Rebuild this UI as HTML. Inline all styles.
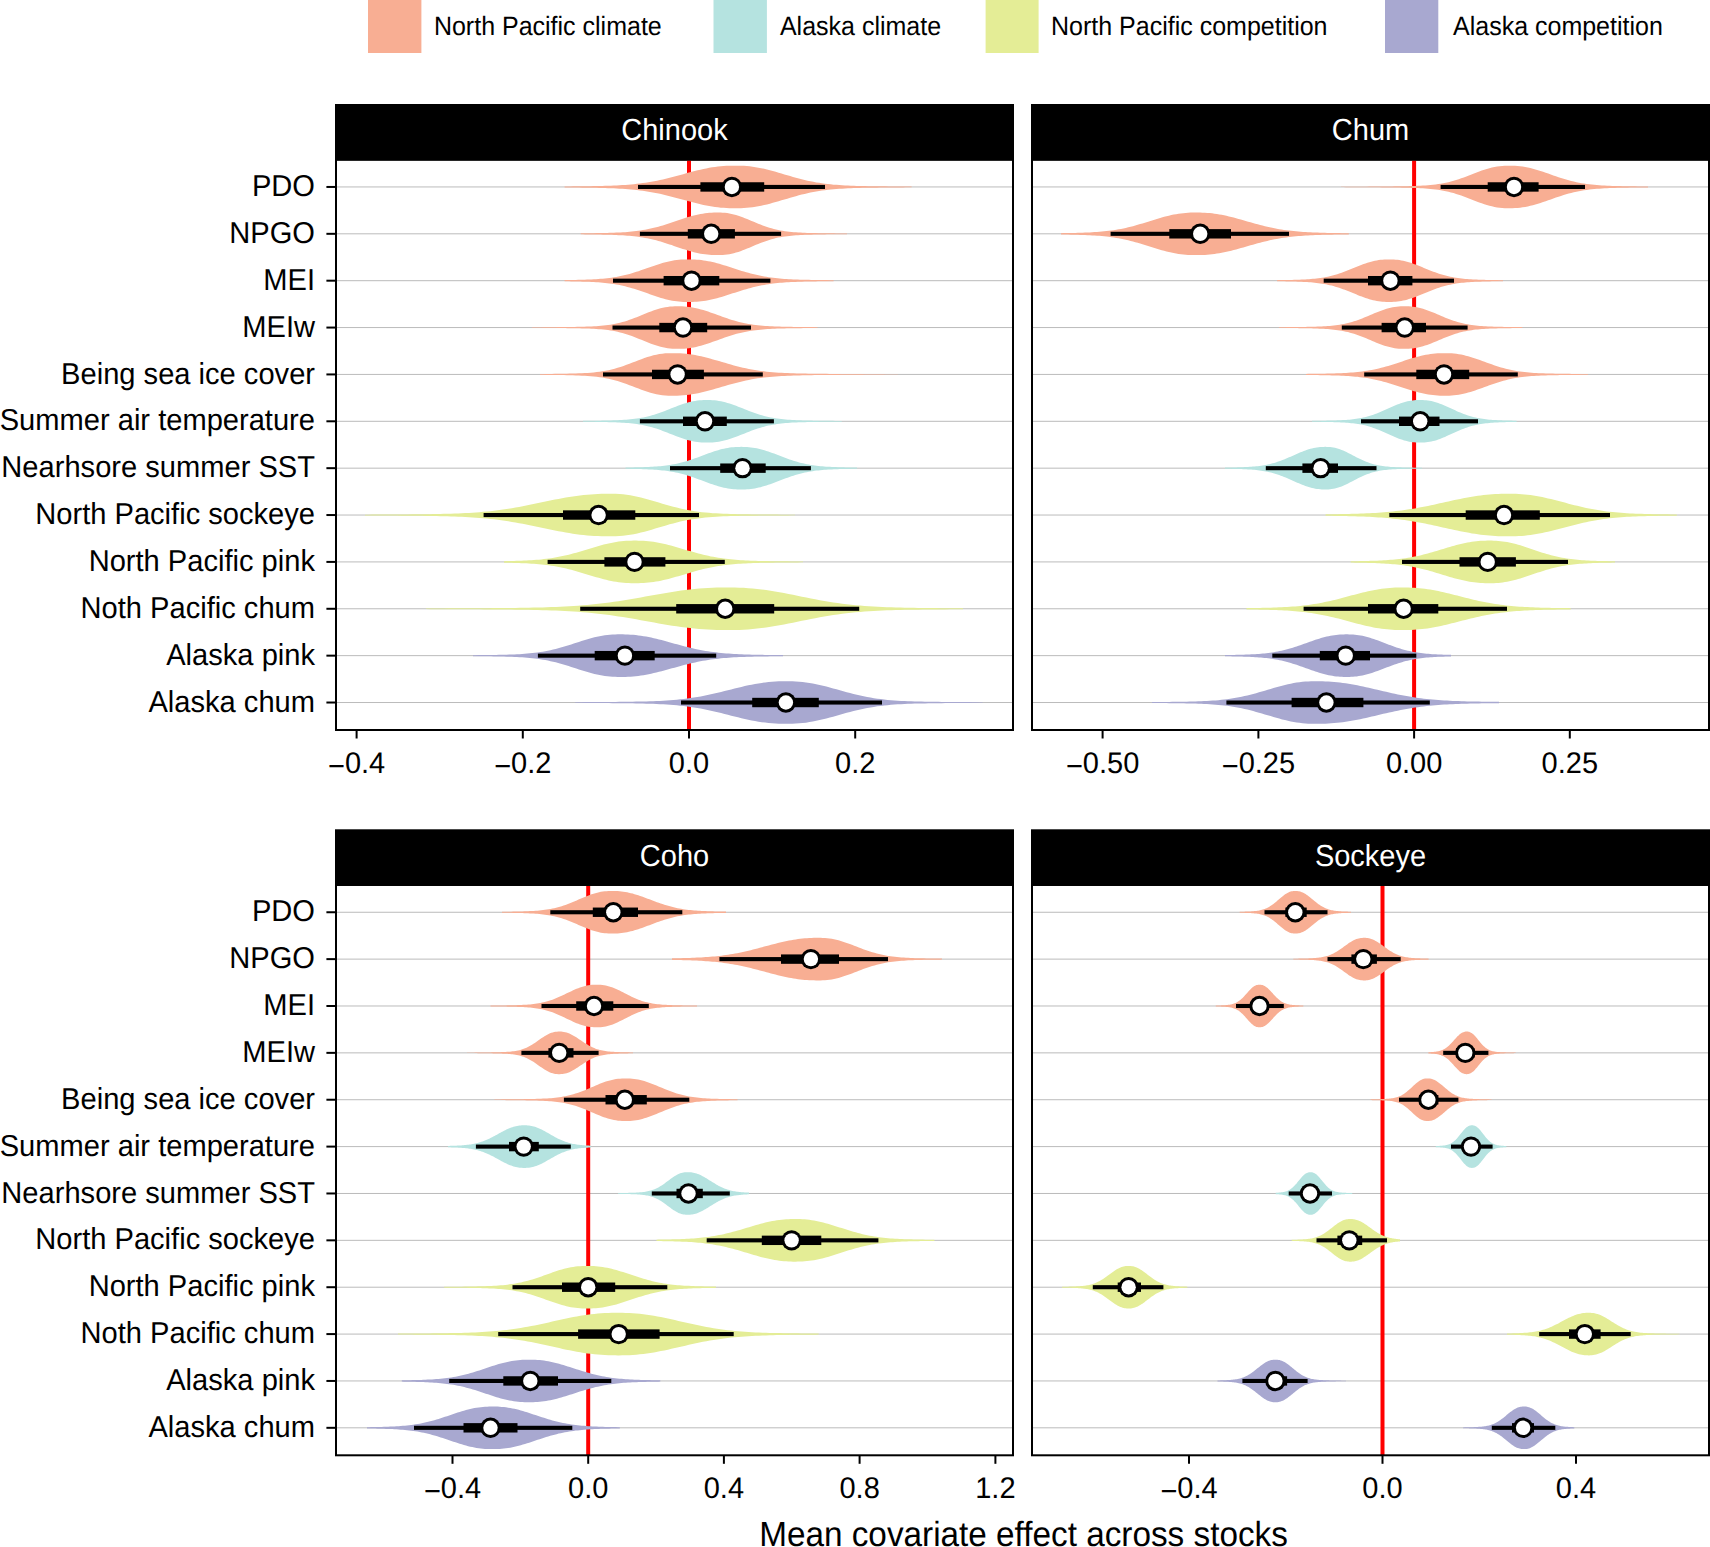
<!DOCTYPE html>
<html><head><meta charset="utf-8"><title>Mean covariate effect across stocks</title>
<style>
html,body{margin:0;padding:0;background:#fff;width:1710px;height:1547px;overflow:hidden}
.t{font-family:"Liberation Sans",Arial,Helvetica,sans-serif;fill:#000;text-rendering:geometricPrecision}
</style></head><body>
<svg width="1710" height="1547" viewBox="0 0 1710 1547" style="display:block"><rect width="1710" height="1547" fill="#fff"/><rect x="368.0" y="-2" width="53.4" height="55" fill="#F8AE93"/><text transform="translate(433.9,34.6) scale(1,1.06)" font-size="25" class="t">North Pacific climate</text><rect x="713.5" y="-2" width="53.4" height="55" fill="#B5E3E0"/><text transform="translate(779.9,34.6) scale(1,1.06)" font-size="25" class="t">Alaska climate</text><rect x="985.6" y="-2" width="53.0" height="55" fill="#E4ED96"/><text transform="translate(1051.0,34.6) scale(1,1.06)" font-size="25" class="t">North Pacific competition</text><rect x="1385.0" y="-2" width="53.3" height="55" fill="#A8A8D0"/><text transform="translate(1453.0,34.6) scale(1,1.06)" font-size="25" class="t">Alaska competition</text><rect x="335" y="104" width="679" height="56.6" fill="#000"/><text transform="translate(674.5,140.2) scale(1,1.05)" font-size="29" text-anchor="middle" class="t" style="fill:#fff">Chinook</text><line x1="336" x2="1013" y1="186.95" y2="186.95" stroke="#bbbbbb" stroke-width="1"/><line x1="336" x2="1013" y1="233.82" y2="233.82" stroke="#bbbbbb" stroke-width="1"/><line x1="336" x2="1013" y1="280.69" y2="280.69" stroke="#bbbbbb" stroke-width="1"/><line x1="336" x2="1013" y1="327.56" y2="327.56" stroke="#bbbbbb" stroke-width="1"/><line x1="336" x2="1013" y1="374.43" y2="374.43" stroke="#bbbbbb" stroke-width="1"/><line x1="336" x2="1013" y1="421.30" y2="421.30" stroke="#bbbbbb" stroke-width="1"/><line x1="336" x2="1013" y1="468.17" y2="468.17" stroke="#bbbbbb" stroke-width="1"/><line x1="336" x2="1013" y1="515.04" y2="515.04" stroke="#bbbbbb" stroke-width="1"/><line x1="336" x2="1013" y1="561.91" y2="561.91" stroke="#bbbbbb" stroke-width="1"/><line x1="336" x2="1013" y1="608.78" y2="608.78" stroke="#bbbbbb" stroke-width="1"/><line x1="336" x2="1013" y1="655.65" y2="655.65" stroke="#bbbbbb" stroke-width="1"/><line x1="336" x2="1013" y1="702.52" y2="702.52" stroke="#bbbbbb" stroke-width="1"/><line x1="689.0" x2="689.0" y1="160.6" y2="730" stroke="#ff0000" stroke-width="4"/><path d="M564.6,186.43 L567.5,186.41 L570.4,186.38 L573.3,186.36 L576.2,186.33 L579.1,186.30 L582.0,186.27 L584.8,186.23 L587.7,186.19 L590.6,186.15 L593.5,186.10 L596.4,186.05 L599.3,185.99 L602.2,185.92 L605.1,185.84 L608.0,185.75 L610.9,185.65 L613.8,185.54 L616.6,185.41 L619.5,185.26 L622.4,185.08 L625.3,184.89 L628.2,184.67 L631.1,184.43 L634.0,184.15 L636.9,183.84 L639.8,183.50 L642.7,183.12 L645.6,182.70 L648.5,182.25 L651.4,181.75 L654.2,181.22 L657.1,180.64 L660.0,180.03 L662.9,179.39 L665.8,178.71 L668.7,178.00 L671.6,177.26 L674.5,176.50 L677.4,175.72 L680.3,174.93 L683.2,174.14 L686.1,173.35 L688.9,172.56 L691.8,171.79 L694.7,171.04 L697.6,170.32 L700.5,169.64 L703.4,169.00 L706.3,168.40 L709.2,167.86 L712.1,167.37 L715.0,166.94 L717.9,166.58 L720.8,166.27 L723.6,166.03 L726.5,165.85 L729.4,165.73 L732.3,165.67 L735.2,165.65 L735.4,165.65 L738.1,165.67 L741.0,165.74 L743.9,165.87 L746.8,166.08 L749.7,166.36 L752.6,166.71 L755.5,167.14 L758.3,167.64 L761.2,168.20 L764.1,168.83 L767.0,169.52 L769.9,170.26 L772.8,171.04 L775.7,171.85 L778.6,172.69 L781.5,173.55 L784.4,174.41 L787.3,175.27 L790.2,176.12 L793.0,176.96 L795.9,177.77 L798.8,178.55 L801.7,179.30 L804.6,180.00 L807.5,180.67 L810.4,181.29 L813.3,181.86 L816.2,182.39 L819.1,182.87 L822.0,183.30 L824.9,183.69 L827.7,184.04 L830.6,184.35 L833.5,184.63 L836.4,184.87 L839.3,185.08 L842.2,185.27 L845.1,185.43 L848.0,185.57 L850.9,185.69 L853.8,185.79 L856.7,185.88 L859.5,185.96 L862.4,186.03 L865.3,186.09 L868.2,186.14 L871.1,186.19 L874.0,186.23 L876.9,186.27 L879.8,186.31 L882.7,186.34 L885.6,186.37 L888.5,186.40 L891.4,186.42 L894.2,186.45 L897.1,186.47 L900.0,186.49 L902.9,186.51 L905.8,186.54 L908.7,186.56 L911.6,186.57 L911.6,187.33 L908.7,187.34 L905.8,187.36 L902.9,187.39 L900.0,187.41 L897.1,187.43 L894.2,187.45 L891.4,187.48 L888.5,187.50 L885.6,187.53 L882.7,187.56 L879.8,187.59 L876.9,187.63 L874.0,187.67 L871.1,187.71 L868.2,187.76 L865.3,187.81 L862.4,187.87 L859.5,187.94 L856.7,188.02 L853.8,188.11 L850.9,188.21 L848.0,188.33 L845.1,188.47 L842.2,188.63 L839.3,188.82 L836.4,189.03 L833.5,189.27 L830.6,189.55 L827.7,189.86 L824.9,190.21 L822.0,190.60 L819.1,191.03 L816.2,191.51 L813.3,192.04 L810.4,192.61 L807.5,193.23 L804.6,193.90 L801.7,194.60 L798.8,195.35 L795.9,196.13 L793.0,196.94 L790.2,197.78 L787.3,198.63 L784.4,199.49 L781.5,200.35 L778.6,201.21 L775.7,202.05 L772.8,202.86 L769.9,203.64 L767.0,204.38 L764.1,205.07 L761.2,205.70 L758.3,206.26 L755.5,206.76 L752.6,207.19 L749.7,207.54 L746.8,207.82 L743.9,208.03 L741.0,208.16 L738.1,208.23 L735.4,208.25 L735.2,208.25 L732.3,208.23 L729.4,208.17 L726.5,208.05 L723.6,207.87 L720.8,207.63 L717.9,207.32 L715.0,206.96 L712.1,206.53 L709.2,206.04 L706.3,205.50 L703.4,204.90 L700.5,204.26 L697.6,203.58 L694.7,202.86 L691.8,202.11 L688.9,201.34 L686.1,200.55 L683.2,199.76 L680.3,198.97 L677.4,198.18 L674.5,197.40 L671.6,196.64 L668.7,195.90 L665.8,195.19 L662.9,194.51 L660.0,193.87 L657.1,193.26 L654.2,192.68 L651.4,192.15 L648.5,191.65 L645.6,191.20 L642.7,190.78 L639.8,190.40 L636.9,190.06 L634.0,189.75 L631.1,189.47 L628.2,189.23 L625.3,189.01 L622.4,188.82 L619.5,188.64 L616.6,188.49 L613.8,188.36 L610.9,188.25 L608.0,188.15 L605.1,188.06 L602.2,187.98 L599.3,187.91 L596.4,187.85 L593.5,187.80 L590.6,187.75 L587.7,187.71 L584.8,187.67 L582.0,187.63 L579.1,187.60 L576.2,187.57 L573.3,187.54 L570.4,187.52 L567.5,187.49 L564.6,187.47Z" fill="#F8AE93"/><path d="M580.7,233.31 L582.9,233.28 L585.1,233.26 L587.4,233.23 L589.6,233.21 L591.8,233.18 L594.0,233.15 L596.2,233.12 L598.5,233.08 L600.7,233.04 L602.9,233.00 L605.1,232.95 L607.3,232.90 L609.5,232.84 L611.8,232.77 L614.0,232.70 L616.2,232.61 L618.4,232.51 L620.6,232.40 L622.9,232.27 L625.1,232.13 L627.3,231.96 L629.5,231.78 L631.7,231.57 L634.0,231.34 L636.2,231.08 L638.4,230.79 L640.6,230.48 L642.8,230.12 L645.1,229.74 L647.3,229.32 L649.5,228.86 L651.7,228.37 L653.9,227.84 L656.2,227.28 L658.4,226.68 L660.6,226.05 L662.8,225.39 L665.0,224.71 L667.2,223.99 L669.5,223.26 L671.7,222.52 L673.9,221.76 L676.1,221.00 L678.3,220.25 L680.6,219.49 L682.8,218.76 L685.0,218.04 L687.2,217.34 L689.4,216.68 L691.7,216.05 L693.9,215.47 L696.1,214.93 L698.3,214.44 L700.5,214.01 L702.8,213.63 L705.0,213.30 L707.2,213.04 L709.4,212.83 L711.6,212.68 L713.9,212.58 L716.1,212.53 L718.0,212.52 L718.3,212.52 L720.5,212.55 L722.7,212.65 L724.9,212.83 L727.2,213.10 L729.4,213.45 L731.6,213.89 L733.8,214.42 L736.0,215.03 L738.3,215.71 L740.5,216.47 L742.7,217.28 L744.9,218.14 L747.1,219.03 L749.4,219.96 L751.6,220.89 L753.8,221.84 L756.0,222.77 L758.2,223.68 L760.5,224.57 L762.7,225.42 L764.9,226.23 L767.1,227.00 L769.3,227.71 L771.5,228.37 L773.8,228.97 L776.0,229.52 L778.2,230.02 L780.4,230.46 L782.6,230.85 L784.9,231.20 L787.1,231.50 L789.3,231.76 L791.5,231.99 L793.7,232.18 L796.0,232.35 L798.2,232.49 L800.4,232.62 L802.6,232.72 L804.8,232.81 L807.1,232.89 L809.3,232.95 L811.5,233.01 L813.7,233.06 L815.9,233.11 L818.2,233.15 L820.4,233.19 L822.6,233.22 L824.8,233.25 L827.0,233.28 L829.2,233.31 L831.5,233.34 L833.7,233.36 L835.9,233.38 L838.1,233.41 L840.3,233.43 L842.6,233.45 L844.8,233.47 L847.0,233.49 L847.0,234.15 L844.8,234.17 L842.6,234.19 L840.3,234.21 L838.1,234.23 L835.9,234.26 L833.7,234.28 L831.5,234.30 L829.2,234.33 L827.0,234.36 L824.8,234.39 L822.6,234.42 L820.4,234.45 L818.2,234.49 L815.9,234.53 L813.7,234.58 L811.5,234.63 L809.3,234.69 L807.1,234.75 L804.8,234.83 L802.6,234.92 L800.4,235.02 L798.2,235.15 L796.0,235.29 L793.7,235.46 L791.5,235.65 L789.3,235.88 L787.1,236.14 L784.9,236.44 L782.6,236.79 L780.4,237.18 L778.2,237.62 L776.0,238.12 L773.8,238.67 L771.5,239.27 L769.3,239.93 L767.1,240.64 L764.9,241.41 L762.7,242.22 L760.5,243.07 L758.2,243.96 L756.0,244.87 L753.8,245.80 L751.6,246.75 L749.4,247.68 L747.1,248.61 L744.9,249.50 L742.7,250.36 L740.5,251.17 L738.3,251.93 L736.0,252.61 L733.8,253.22 L731.6,253.75 L729.4,254.19 L727.2,254.54 L724.9,254.81 L722.7,254.99 L720.5,255.09 L718.3,255.12 L718.0,255.12 L716.1,255.11 L713.9,255.06 L711.6,254.96 L709.4,254.81 L707.2,254.60 L705.0,254.34 L702.8,254.01 L700.5,253.63 L698.3,253.20 L696.1,252.71 L693.9,252.17 L691.7,251.59 L689.4,250.96 L687.2,250.30 L685.0,249.60 L682.8,248.88 L680.6,248.15 L678.3,247.39 L676.1,246.64 L673.9,245.88 L671.7,245.12 L669.5,244.38 L667.2,243.65 L665.0,242.93 L662.8,242.25 L660.6,241.59 L658.4,240.96 L656.2,240.36 L653.9,239.80 L651.7,239.27 L649.5,238.78 L647.3,238.32 L645.1,237.90 L642.8,237.52 L640.6,237.16 L638.4,236.85 L636.2,236.56 L634.0,236.30 L631.7,236.07 L629.5,235.86 L627.3,235.68 L625.1,235.51 L622.9,235.37 L620.6,235.24 L618.4,235.13 L616.2,235.03 L614.0,234.94 L611.8,234.87 L609.5,234.80 L607.3,234.74 L605.1,234.69 L602.9,234.64 L600.7,234.60 L598.5,234.56 L596.2,234.52 L594.0,234.49 L591.8,234.46 L589.6,234.43 L587.4,234.41 L585.1,234.38 L582.9,234.36 L580.7,234.33Z" fill="#F8AE93"/><path d="M564.6,280.08 L566.8,280.05 L569.1,280.02 L571.3,279.98 L573.6,279.94 L575.8,279.90 L578.1,279.85 L580.3,279.80 L582.5,279.74 L584.8,279.68 L587.0,279.60 L589.3,279.52 L591.5,279.42 L593.7,279.31 L596.0,279.18 L598.2,279.03 L600.5,278.86 L602.7,278.68 L605.0,278.46 L607.2,278.22 L609.4,277.95 L611.7,277.65 L613.9,277.31 L616.2,276.94 L618.4,276.53 L620.6,276.08 L622.9,275.59 L625.1,275.06 L627.4,274.50 L629.6,273.89 L631.9,273.25 L634.1,272.57 L636.3,271.87 L638.6,271.13 L640.8,270.37 L643.1,269.60 L645.3,268.81 L647.5,268.01 L649.8,267.21 L652.0,266.43 L654.3,265.65 L656.5,264.90 L658.8,264.17 L661.0,263.48 L663.2,262.83 L665.5,262.23 L667.7,261.67 L670.0,261.18 L672.2,260.74 L674.4,260.36 L676.7,260.05 L678.9,259.80 L681.2,259.61 L683.4,259.49 L685.6,259.41 L687.9,259.39 L688.3,259.39 L690.1,259.40 L692.4,259.44 L694.6,259.53 L696.9,259.67 L699.1,259.85 L701.3,260.09 L703.6,260.39 L705.8,260.73 L708.1,261.13 L710.3,261.58 L712.5,262.08 L714.8,262.62 L717.0,263.20 L719.3,263.82 L721.5,264.46 L723.8,265.14 L726.0,265.84 L728.2,266.55 L730.5,267.28 L732.7,268.01 L735.0,268.74 L737.2,269.46 L739.5,270.18 L741.7,270.88 L743.9,271.56 L746.2,272.22 L748.4,272.86 L750.7,273.47 L752.9,274.05 L755.1,274.59 L757.4,275.11 L759.6,275.59 L761.9,276.04 L764.1,276.46 L766.4,276.84 L768.6,277.19 L770.8,277.51 L773.1,277.80 L775.3,278.07 L777.6,278.31 L779.8,278.52 L782.0,278.71 L784.3,278.88 L786.5,279.03 L788.8,279.17 L791.0,279.29 L793.2,279.39 L795.5,279.49 L797.7,279.57 L800.0,279.64 L802.2,279.71 L804.5,279.76 L806.7,279.82 L808.9,279.86 L811.2,279.91 L813.4,279.94 L815.7,279.98 L817.9,280.01 L820.2,280.04 L822.4,280.07 L824.6,280.09 L826.9,280.12 L829.1,280.14 L831.4,280.16 L833.6,280.18 L833.6,281.20 L831.4,281.22 L829.1,281.24 L826.9,281.26 L824.6,281.29 L822.4,281.31 L820.2,281.34 L817.9,281.37 L815.7,281.40 L813.4,281.44 L811.2,281.47 L808.9,281.52 L806.7,281.56 L804.5,281.62 L802.2,281.67 L800.0,281.74 L797.7,281.81 L795.5,281.89 L793.2,281.99 L791.0,282.09 L788.8,282.21 L786.5,282.35 L784.3,282.50 L782.0,282.67 L779.8,282.86 L777.6,283.07 L775.3,283.31 L773.1,283.58 L770.8,283.87 L768.6,284.19 L766.4,284.54 L764.1,284.92 L761.9,285.34 L759.6,285.79 L757.4,286.27 L755.1,286.79 L752.9,287.33 L750.7,287.91 L748.4,288.52 L746.2,289.16 L743.9,289.82 L741.7,290.50 L739.5,291.20 L737.2,291.92 L735.0,292.64 L732.7,293.37 L730.5,294.10 L728.2,294.83 L726.0,295.54 L723.8,296.24 L721.5,296.92 L719.3,297.56 L717.0,298.18 L714.8,298.76 L712.5,299.30 L710.3,299.80 L708.1,300.25 L705.8,300.65 L703.6,300.99 L701.3,301.29 L699.1,301.53 L696.9,301.71 L694.6,301.85 L692.4,301.94 L690.1,301.98 L688.3,301.99 L687.9,301.99 L685.6,301.97 L683.4,301.89 L681.2,301.77 L678.9,301.58 L676.7,301.33 L674.4,301.02 L672.2,300.64 L670.0,300.20 L667.7,299.71 L665.5,299.15 L663.2,298.55 L661.0,297.90 L658.8,297.21 L656.5,296.48 L654.3,295.73 L652.0,294.95 L649.8,294.17 L647.5,293.37 L645.3,292.57 L643.1,291.78 L640.8,291.01 L638.6,290.25 L636.3,289.51 L634.1,288.81 L631.9,288.13 L629.6,287.49 L627.4,286.88 L625.1,286.32 L622.9,285.79 L620.6,285.30 L618.4,284.85 L616.2,284.44 L613.9,284.07 L611.7,283.73 L609.4,283.43 L607.2,283.16 L605.0,282.92 L602.7,282.70 L600.5,282.52 L598.2,282.35 L596.0,282.20 L593.7,282.07 L591.5,281.96 L589.3,281.86 L587.0,281.78 L584.8,281.70 L582.5,281.64 L580.3,281.58 L578.1,281.53 L575.8,281.48 L573.6,281.44 L571.3,281.40 L569.1,281.36 L566.8,281.33 L564.6,281.30Z" fill="#F8AE93"/><path d="M532.0,327.32 L534.4,327.30 L536.8,327.29 L539.1,327.27 L541.5,327.25 L543.9,327.23 L546.3,327.21 L548.7,327.19 L551.0,327.17 L553.4,327.15 L555.8,327.13 L558.2,327.10 L560.5,327.08 L562.9,327.05 L565.3,327.02 L567.7,326.99 L570.1,326.96 L572.4,326.92 L574.8,326.88 L577.2,326.84 L579.6,326.79 L582.0,326.73 L584.3,326.67 L586.7,326.60 L589.1,326.51 L591.5,326.41 L593.9,326.29 L596.2,326.15 L598.6,325.99 L601.0,325.79 L603.4,325.57 L605.8,325.31 L608.1,325.00 L610.5,324.65 L612.9,324.25 L615.3,323.80 L617.6,323.29 L620.0,322.72 L622.4,322.09 L624.8,321.41 L627.2,320.66 L629.5,319.86 L631.9,319.01 L634.3,318.12 L636.7,317.19 L639.1,316.23 L641.4,315.26 L643.8,314.28 L646.2,313.31 L648.6,312.36 L651.0,311.45 L653.3,310.58 L655.7,309.77 L658.1,309.03 L660.5,308.36 L662.9,307.79 L665.2,307.30 L667.6,306.91 L670.0,306.62 L672.4,306.41 L674.8,306.30 L677.1,306.26 L677.6,306.26 L679.5,306.27 L681.9,306.34 L684.3,306.46 L686.6,306.66 L689.0,306.93 L691.4,307.28 L693.8,307.70 L696.2,308.20 L698.5,308.76 L700.9,309.39 L703.3,310.07 L705.7,310.81 L708.1,311.59 L710.4,312.40 L712.8,313.25 L715.2,314.10 L717.6,314.97 L720.0,315.84 L722.3,316.69 L724.7,317.53 L727.1,318.35 L729.5,319.13 L731.9,319.88 L734.2,320.59 L736.6,321.26 L739.0,321.89 L741.4,322.46 L743.7,322.99 L746.1,323.47 L748.5,323.91 L750.9,324.30 L753.3,324.66 L755.6,324.97 L758.0,325.24 L760.4,325.49 L762.8,325.70 L765.2,325.88 L767.5,326.04 L769.9,326.18 L772.3,326.30 L774.7,326.41 L777.1,326.50 L779.4,326.58 L781.8,326.64 L784.2,326.70 L786.6,326.76 L789.0,326.80 L791.3,326.85 L793.7,326.88 L796.1,326.92 L798.5,326.95 L800.8,326.98 L803.2,327.01 L805.6,327.03 L808.0,327.06 L810.4,327.08 L812.7,327.11 L815.1,327.13 L817.5,327.15 L817.5,327.97 L815.1,327.99 L812.7,328.01 L810.4,328.04 L808.0,328.06 L805.6,328.09 L803.2,328.11 L800.8,328.14 L798.5,328.17 L796.1,328.20 L793.7,328.24 L791.3,328.27 L789.0,328.32 L786.6,328.36 L784.2,328.42 L781.8,328.48 L779.4,328.54 L777.1,328.62 L774.7,328.71 L772.3,328.82 L769.9,328.94 L767.5,329.08 L765.2,329.24 L762.8,329.42 L760.4,329.63 L758.0,329.88 L755.6,330.15 L753.3,330.46 L750.9,330.82 L748.5,331.21 L746.1,331.65 L743.7,332.13 L741.4,332.66 L739.0,333.23 L736.6,333.86 L734.2,334.53 L731.9,335.24 L729.5,335.99 L727.1,336.77 L724.7,337.59 L722.3,338.43 L720.0,339.28 L717.6,340.15 L715.2,341.02 L712.8,341.87 L710.4,342.72 L708.1,343.53 L705.7,344.31 L703.3,345.05 L700.9,345.73 L698.5,346.36 L696.2,346.92 L693.8,347.42 L691.4,347.84 L689.0,348.19 L686.6,348.46 L684.3,348.66 L681.9,348.78 L679.5,348.85 L677.6,348.86 L677.1,348.86 L674.8,348.82 L672.4,348.71 L670.0,348.50 L667.6,348.21 L665.2,347.82 L662.9,347.33 L660.5,346.76 L658.1,346.09 L655.7,345.35 L653.3,344.54 L651.0,343.67 L648.6,342.76 L646.2,341.81 L643.8,340.84 L641.4,339.86 L639.1,338.89 L636.7,337.93 L634.3,337.00 L631.9,336.11 L629.5,335.26 L627.2,334.46 L624.8,333.71 L622.4,333.03 L620.0,332.40 L617.6,331.83 L615.3,331.32 L612.9,330.87 L610.5,330.47 L608.1,330.12 L605.8,329.81 L603.4,329.55 L601.0,329.33 L598.6,329.13 L596.2,328.97 L593.9,328.83 L591.5,328.71 L589.1,328.61 L586.7,328.52 L584.3,328.45 L582.0,328.39 L579.6,328.33 L577.2,328.28 L574.8,328.24 L572.4,328.20 L570.1,328.16 L567.7,328.13 L565.3,328.10 L562.9,328.07 L560.5,328.04 L558.2,328.02 L555.8,327.99 L553.4,327.97 L551.0,327.95 L548.7,327.93 L546.3,327.91 L543.9,327.89 L541.5,327.87 L539.1,327.85 L536.8,327.83 L534.4,327.82 L532.0,327.80Z" fill="#F8AE93"/><path d="M540.0,374.02 L543.0,373.99 L546.0,373.97 L549.0,373.93 L551.9,373.90 L554.9,373.87 L557.9,373.83 L560.9,373.78 L563.9,373.74 L566.9,373.68 L569.8,373.62 L572.8,373.55 L575.8,373.46 L578.8,373.36 L581.8,373.23 L584.8,373.08 L587.7,372.90 L590.7,372.67 L593.7,372.40 L596.7,372.08 L599.7,371.70 L602.6,371.25 L605.6,370.73 L608.6,370.13 L611.6,369.44 L614.6,368.68 L617.6,367.83 L620.5,366.90 L623.5,365.90 L626.5,364.84 L629.5,363.73 L632.5,362.59 L635.5,361.43 L638.5,360.28 L641.4,359.16 L644.4,358.09 L647.4,357.08 L650.4,356.17 L653.4,355.35 L656.4,354.66 L659.3,354.10 L662.3,353.67 L665.3,353.37 L668.3,353.19 L671.3,353.13 L672.0,353.13 L674.2,353.14 L677.2,353.20 L680.2,353.33 L683.2,353.53 L686.2,353.81 L689.2,354.16 L692.1,354.59 L695.1,355.10 L698.1,355.67 L701.1,356.31 L704.1,357.01 L707.1,357.76 L710.0,358.56 L713.0,359.39 L716.0,360.25 L719.0,361.12 L722.0,362.00 L725.0,362.87 L728.0,363.74 L730.9,364.58 L733.9,365.40 L736.9,366.19 L739.9,366.94 L742.9,367.65 L745.9,368.32 L748.8,368.93 L751.8,369.50 L754.8,370.03 L757.8,370.50 L760.8,370.93 L763.8,371.31 L766.7,371.65 L769.7,371.95 L772.7,372.22 L775.7,372.45 L778.7,372.65 L781.6,372.83 L784.6,372.98 L787.6,373.11 L790.6,373.23 L793.6,373.33 L796.6,373.41 L799.5,373.48 L802.5,373.55 L805.5,373.61 L808.5,373.65 L811.5,373.70 L814.5,373.74 L817.5,373.78 L820.4,373.81 L823.4,373.84 L826.4,373.87 L829.4,373.90 L832.4,373.92 L835.4,373.95 L838.3,373.97 L841.3,373.99 L844.3,374.01 L847.3,374.03 L850.3,374.05 L853.2,374.07 L856.2,374.09 L859.2,374.11 L862.2,374.12 L865.2,374.14 L868.2,374.16 L871.1,374.17 L874.1,374.19 L877.1,374.20 L880.1,374.21 L883.1,374.22 L886.1,374.24 L889.0,374.25 L892.0,374.26 L895.0,374.27 L898.0,374.28 L898.0,374.58 L895.0,374.59 L892.0,374.60 L889.0,374.61 L886.1,374.62 L883.1,374.64 L880.1,374.65 L877.1,374.66 L874.1,374.67 L871.1,374.69 L868.2,374.70 L865.2,374.72 L862.2,374.74 L859.2,374.75 L856.2,374.77 L853.2,374.79 L850.3,374.81 L847.3,374.83 L844.3,374.85 L841.3,374.87 L838.3,374.89 L835.4,374.91 L832.4,374.94 L829.4,374.96 L826.4,374.99 L823.4,375.02 L820.4,375.05 L817.5,375.08 L814.5,375.12 L811.5,375.16 L808.5,375.21 L805.5,375.25 L802.5,375.31 L799.5,375.38 L796.6,375.45 L793.6,375.53 L790.6,375.63 L787.6,375.75 L784.6,375.88 L781.6,376.03 L778.7,376.21 L775.7,376.41 L772.7,376.64 L769.7,376.91 L766.7,377.21 L763.8,377.55 L760.8,377.93 L757.8,378.36 L754.8,378.83 L751.8,379.36 L748.8,379.93 L745.9,380.54 L742.9,381.21 L739.9,381.92 L736.9,382.67 L733.9,383.46 L730.9,384.28 L728.0,385.12 L725.0,385.99 L722.0,386.86 L719.0,387.74 L716.0,388.61 L713.0,389.47 L710.0,390.30 L707.1,391.10 L704.1,391.85 L701.1,392.55 L698.1,393.19 L695.1,393.76 L692.1,394.27 L689.2,394.70 L686.2,395.05 L683.2,395.33 L680.2,395.53 L677.2,395.66 L674.2,395.72 L672.0,395.73 L671.3,395.73 L668.3,395.67 L665.3,395.49 L662.3,395.19 L659.3,394.76 L656.4,394.20 L653.4,393.51 L650.4,392.69 L647.4,391.78 L644.4,390.77 L641.4,389.70 L638.5,388.58 L635.5,387.43 L632.5,386.27 L629.5,385.13 L626.5,384.02 L623.5,382.96 L620.5,381.96 L617.6,381.03 L614.6,380.18 L611.6,379.42 L608.6,378.73 L605.6,378.13 L602.6,377.61 L599.7,377.16 L596.7,376.78 L593.7,376.46 L590.7,376.19 L587.7,375.96 L584.8,375.78 L581.8,375.63 L578.8,375.50 L575.8,375.40 L572.8,375.31 L569.8,375.24 L566.9,375.18 L563.9,375.12 L560.9,375.08 L557.9,375.03 L554.9,374.99 L551.9,374.96 L549.0,374.93 L546.0,374.89 L543.0,374.87 L540.0,374.84Z" fill="#F8AE93"/><path d="M583.0,420.85 L585.2,420.83 L587.3,420.80 L589.5,420.78 L591.6,420.75 L593.8,420.73 L595.9,420.70 L598.1,420.67 L600.2,420.63 L602.4,420.60 L604.6,420.56 L606.7,420.51 L608.9,420.46 L611.0,420.41 L613.2,420.34 L615.3,420.27 L617.5,420.18 L619.6,420.08 L621.8,419.97 L624.0,419.84 L626.1,419.69 L628.3,419.52 L630.4,419.32 L632.6,419.09 L634.7,418.83 L636.9,418.53 L639.1,418.20 L641.2,417.83 L643.4,417.42 L645.5,416.96 L647.7,416.46 L649.8,415.91 L652.0,415.31 L654.1,414.67 L656.3,413.99 L658.5,413.27 L660.6,412.51 L662.8,411.71 L664.9,410.89 L667.1,410.05 L669.2,409.20 L671.4,408.34 L673.5,407.48 L675.7,406.64 L677.9,405.81 L680.0,405.02 L682.2,404.26 L684.3,403.55 L686.5,402.89 L688.6,402.29 L690.8,401.75 L692.9,401.29 L695.1,400.90 L697.3,400.58 L699.4,400.33 L701.6,400.16 L703.7,400.05 L705.9,400.00 L707.0,400.00 L708.0,400.00 L710.2,400.05 L712.4,400.15 L714.5,400.33 L716.7,400.57 L718.8,400.89 L721.0,401.28 L723.1,401.75 L725.3,402.28 L727.4,402.88 L729.6,403.54 L731.8,404.26 L733.9,405.02 L736.1,405.81 L738.2,406.64 L740.4,407.49 L742.5,408.35 L744.7,409.21 L746.8,410.07 L749.0,410.91 L751.2,411.73 L753.3,412.53 L755.5,413.29 L757.6,414.01 L759.8,414.70 L761.9,415.34 L764.1,415.93 L766.2,416.48 L768.4,416.98 L770.6,417.44 L772.7,417.85 L774.9,418.22 L777.0,418.55 L779.2,418.85 L781.3,419.10 L783.5,419.33 L785.6,419.53 L787.8,419.70 L790.0,419.85 L792.1,419.98 L794.3,420.09 L796.4,420.19 L798.6,420.27 L800.7,420.35 L802.9,420.41 L805.1,420.47 L807.2,420.52 L809.4,420.56 L811.5,420.60 L813.7,420.64 L815.8,420.67 L818.0,420.70 L820.1,420.73 L822.3,420.76 L824.5,420.78 L826.6,420.81 L828.8,420.83 L830.9,420.85 L833.1,420.87 L835.2,420.89 L837.4,420.91 L839.5,420.93 L841.7,420.95 L841.7,421.65 L839.5,421.67 L837.4,421.69 L835.2,421.71 L833.1,421.73 L830.9,421.75 L828.8,421.77 L826.6,421.79 L824.5,421.82 L822.3,421.84 L820.1,421.87 L818.0,421.90 L815.8,421.93 L813.7,421.96 L811.5,422.00 L809.4,422.04 L807.2,422.08 L805.1,422.13 L802.9,422.19 L800.7,422.25 L798.6,422.33 L796.4,422.41 L794.3,422.51 L792.1,422.62 L790.0,422.75 L787.8,422.90 L785.6,423.07 L783.5,423.27 L781.3,423.50 L779.2,423.75 L777.0,424.05 L774.9,424.38 L772.7,424.75 L770.6,425.16 L768.4,425.62 L766.2,426.12 L764.1,426.67 L761.9,427.26 L759.8,427.90 L757.6,428.59 L755.5,429.31 L753.3,430.07 L751.2,430.87 L749.0,431.69 L746.8,432.53 L744.7,433.39 L742.5,434.25 L740.4,435.11 L738.2,435.96 L736.1,436.79 L733.9,437.58 L731.8,438.34 L729.6,439.06 L727.4,439.72 L725.3,440.32 L723.1,440.85 L721.0,441.32 L718.8,441.71 L716.7,442.03 L714.5,442.27 L712.4,442.45 L710.2,442.55 L708.0,442.60 L707.0,442.60 L705.9,442.60 L703.7,442.55 L701.6,442.44 L699.4,442.27 L697.3,442.02 L695.1,441.70 L692.9,441.31 L690.8,440.85 L688.6,440.31 L686.5,439.71 L684.3,439.05 L682.2,438.34 L680.0,437.58 L677.9,436.79 L675.7,435.96 L673.5,435.12 L671.4,434.26 L669.2,433.40 L667.1,432.55 L664.9,431.71 L662.8,430.89 L660.6,430.09 L658.5,429.33 L656.3,428.61 L654.1,427.93 L652.0,427.29 L649.8,426.69 L647.7,426.14 L645.5,425.64 L643.4,425.18 L641.2,424.77 L639.1,424.40 L636.9,424.07 L634.7,423.77 L632.6,423.51 L630.4,423.28 L628.3,423.08 L626.1,422.91 L624.0,422.76 L621.8,422.63 L619.6,422.52 L617.5,422.42 L615.3,422.33 L613.2,422.26 L611.0,422.19 L608.9,422.14 L606.7,422.09 L604.6,422.04 L602.4,422.00 L600.2,421.97 L598.1,421.93 L595.9,421.90 L593.8,421.87 L591.6,421.85 L589.5,421.82 L587.3,421.80 L585.2,421.77 L583.0,421.75Z" fill="#B5E3E0"/><path d="M625.6,467.54 L627.5,467.51 L629.5,467.48 L631.4,467.45 L633.3,467.41 L635.2,467.37 L637.2,467.33 L639.1,467.28 L641.0,467.23 L643.0,467.17 L644.9,467.10 L646.8,467.02 L648.7,466.94 L650.7,466.84 L652.6,466.74 L654.5,466.61 L656.5,466.48 L658.4,466.32 L660.3,466.15 L662.2,465.96 L664.2,465.74 L666.1,465.50 L668.0,465.23 L670.0,464.94 L671.9,464.62 L673.8,464.27 L675.7,463.88 L677.7,463.47 L679.6,463.02 L681.5,462.54 L683.5,462.02 L685.4,461.48 L687.3,460.90 L689.2,460.30 L691.2,459.67 L693.1,459.01 L695.0,458.34 L696.9,457.64 L698.9,456.94 L700.8,456.22 L702.7,455.50 L704.7,454.78 L706.6,454.06 L708.5,453.35 L710.4,452.66 L712.4,451.99 L714.3,451.35 L716.2,450.73 L718.2,450.16 L720.1,449.62 L722.0,449.12 L723.9,448.67 L725.9,448.27 L727.8,447.92 L729.7,447.62 L731.7,447.37 L733.6,447.18 L735.5,447.03 L737.4,446.94 L739.4,446.89 L741.3,446.87 L741.4,446.87 L743.2,446.88 L745.2,446.93 L747.1,447.03 L749.0,447.18 L750.9,447.38 L752.9,447.64 L754.8,447.95 L756.7,448.31 L758.7,448.73 L760.6,449.20 L762.5,449.72 L764.4,450.28 L766.4,450.88 L768.3,451.52 L770.2,452.19 L772.2,452.89 L774.1,453.60 L776.0,454.34 L777.9,455.07 L779.9,455.82 L781.8,456.56 L783.7,457.29 L785.7,458.01 L787.6,458.71 L789.5,459.40 L791.4,460.05 L793.4,460.69 L795.3,461.29 L797.2,461.86 L799.1,462.39 L801.1,462.90 L803.0,463.37 L804.9,463.80 L806.9,464.20 L808.8,464.57 L810.7,464.90 L812.6,465.21 L814.6,465.48 L816.5,465.73 L818.4,465.95 L820.4,466.15 L822.3,466.33 L824.2,466.49 L826.1,466.63 L828.1,466.75 L830.0,466.86 L831.9,466.96 L833.9,467.04 L835.8,467.12 L837.7,467.18 L839.6,467.24 L841.6,467.30 L843.5,467.34 L845.4,467.39 L847.4,467.42 L849.3,467.46 L851.2,467.49 L853.1,467.52 L855.1,467.55 L857.0,467.58 L857.0,468.76 L855.1,468.79 L853.1,468.82 L851.2,468.85 L849.3,468.88 L847.4,468.92 L845.4,468.95 L843.5,469.00 L841.6,469.04 L839.6,469.10 L837.7,469.16 L835.8,469.22 L833.9,469.30 L831.9,469.38 L830.0,469.48 L828.1,469.59 L826.1,469.71 L824.2,469.85 L822.3,470.01 L820.4,470.19 L818.4,470.39 L816.5,470.61 L814.6,470.86 L812.6,471.13 L810.7,471.44 L808.8,471.77 L806.9,472.14 L804.9,472.54 L803.0,472.97 L801.1,473.44 L799.1,473.95 L797.2,474.48 L795.3,475.05 L793.4,475.65 L791.4,476.29 L789.5,476.94 L787.6,477.63 L785.7,478.33 L783.7,479.05 L781.8,479.78 L779.9,480.52 L777.9,481.27 L776.0,482.00 L774.1,482.74 L772.2,483.45 L770.2,484.15 L768.3,484.82 L766.4,485.46 L764.4,486.06 L762.5,486.62 L760.6,487.14 L758.7,487.61 L756.7,488.03 L754.8,488.39 L752.9,488.70 L750.9,488.96 L749.0,489.16 L747.1,489.31 L745.2,489.41 L743.2,489.46 L741.4,489.47 L741.3,489.47 L739.4,489.45 L737.4,489.40 L735.5,489.31 L733.6,489.16 L731.7,488.97 L729.7,488.72 L727.8,488.42 L725.9,488.07 L723.9,487.67 L722.0,487.22 L720.1,486.72 L718.2,486.18 L716.2,485.61 L714.3,484.99 L712.4,484.35 L710.4,483.68 L708.5,482.99 L706.6,482.28 L704.7,481.56 L702.7,480.84 L700.8,480.12 L698.9,479.40 L696.9,478.70 L695.0,478.00 L693.1,477.33 L691.2,476.67 L689.2,476.04 L687.3,475.44 L685.4,474.86 L683.5,474.32 L681.5,473.80 L679.6,473.32 L677.7,472.87 L675.7,472.46 L673.8,472.07 L671.9,471.72 L670.0,471.40 L668.0,471.11 L666.1,470.84 L664.2,470.60 L662.2,470.38 L660.3,470.19 L658.4,470.02 L656.5,469.86 L654.5,469.73 L652.6,469.60 L650.7,469.50 L648.7,469.40 L646.8,469.32 L644.9,469.24 L643.0,469.17 L641.0,469.11 L639.1,469.06 L637.2,469.01 L635.2,468.97 L633.3,468.93 L631.4,468.89 L629.5,468.86 L627.5,468.83 L625.6,468.80Z" fill="#B5E3E0"/><path d="M365.0,514.65 L368.6,514.63 L372.2,514.61 L375.8,514.59 L379.3,514.57 L382.9,514.55 L386.5,514.53 L390.1,514.51 L393.7,514.49 L397.2,514.46 L400.8,514.44 L404.4,514.41 L408.0,514.38 L411.6,514.35 L415.2,514.32 L418.8,514.28 L422.3,514.24 L425.9,514.19 L429.5,514.14 L433.1,514.08 L436.7,514.02 L440.2,513.95 L443.8,513.86 L447.4,513.77 L451.0,513.66 L454.6,513.54 L458.2,513.41 L461.8,513.25 L465.3,513.08 L468.9,512.88 L472.5,512.66 L476.1,512.41 L479.7,512.14 L483.2,511.83 L486.8,511.50 L490.4,511.13 L494.0,510.72 L497.6,510.28 L501.2,509.81 L504.8,509.30 L508.3,508.75 L511.9,508.17 L515.5,507.55 L519.1,506.91 L522.7,506.23 L526.2,505.54 L529.8,504.82 L533.4,504.08 L537.0,503.33 L540.6,502.57 L544.2,501.81 L547.8,501.06 L551.3,500.32 L554.9,499.59 L558.5,498.88 L562.1,498.21 L565.7,497.56 L569.2,496.96 L572.8,496.40 L576.4,495.89 L580.0,495.43 L583.6,495.02 L587.2,494.67 L590.8,494.38 L594.3,494.15 L597.9,493.97 L601.5,493.84 L605.1,493.77 L608.7,493.74 L610.0,493.74 L612.2,493.75 L615.8,493.84 L619.4,494.03 L623.0,494.32 L626.6,494.74 L630.2,495.27 L633.8,495.91 L637.3,496.65 L640.9,497.49 L644.5,498.41 L648.1,499.39 L651.7,500.42 L655.2,501.48 L658.8,502.56 L662.4,503.63 L666.0,504.69 L669.6,505.71 L673.2,506.69 L676.8,507.61 L680.3,508.47 L683.9,509.26 L687.5,509.98 L691.1,510.62 L694.7,511.20 L698.2,511.70 L701.8,512.15 L705.4,512.53 L709.0,512.85 L712.6,513.13 L716.2,513.36 L719.8,513.56 L723.3,513.72 L726.9,513.86 L730.5,513.98 L734.1,514.07 L737.7,514.15 L741.2,514.22 L744.8,514.28 L748.4,514.33 L752.0,514.38 L755.6,514.42 L759.2,514.46 L762.8,514.49 L766.3,514.52 L769.9,514.55 L773.5,514.58 L777.1,514.61 L780.7,514.64 L784.2,514.66 L787.8,514.68 L791.4,514.71 L795.0,514.73 L795.0,515.35 L791.4,515.37 L787.8,515.40 L784.2,515.42 L780.7,515.44 L777.1,515.47 L773.5,515.50 L769.9,515.53 L766.3,515.56 L762.8,515.59 L759.2,515.62 L755.6,515.66 L752.0,515.70 L748.4,515.75 L744.8,515.80 L741.2,515.86 L737.7,515.93 L734.1,516.01 L730.5,516.10 L726.9,516.22 L723.3,516.36 L719.8,516.52 L716.2,516.72 L712.6,516.95 L709.0,517.23 L705.4,517.55 L701.8,517.93 L698.2,518.38 L694.7,518.88 L691.1,519.46 L687.5,520.10 L683.9,520.82 L680.3,521.61 L676.8,522.47 L673.2,523.39 L669.6,524.37 L666.0,525.39 L662.4,526.45 L658.8,527.52 L655.2,528.60 L651.7,529.66 L648.1,530.69 L644.5,531.67 L640.9,532.59 L637.3,533.43 L633.8,534.17 L630.2,534.81 L626.6,535.34 L623.0,535.76 L619.4,536.05 L615.8,536.24 L612.2,536.33 L610.0,536.34 L608.7,536.34 L605.1,536.31 L601.5,536.24 L597.9,536.11 L594.3,535.93 L590.8,535.70 L587.2,535.41 L583.6,535.06 L580.0,534.65 L576.4,534.19 L572.8,533.68 L569.2,533.12 L565.7,532.52 L562.1,531.87 L558.5,531.20 L554.9,530.49 L551.3,529.76 L547.8,529.02 L544.2,528.27 L540.6,527.51 L537.0,526.75 L533.4,526.00 L529.8,525.26 L526.2,524.54 L522.7,523.85 L519.1,523.17 L515.5,522.53 L511.9,521.91 L508.3,521.33 L504.8,520.78 L501.2,520.27 L497.6,519.80 L494.0,519.36 L490.4,518.95 L486.8,518.58 L483.2,518.25 L479.7,517.94 L476.1,517.67 L472.5,517.42 L468.9,517.20 L465.3,517.00 L461.8,516.83 L458.2,516.67 L454.6,516.54 L451.0,516.42 L447.4,516.31 L443.8,516.22 L440.2,516.13 L436.7,516.06 L433.1,516.00 L429.5,515.94 L425.9,515.89 L422.3,515.84 L418.8,515.80 L415.2,515.76 L411.6,515.73 L408.0,515.70 L404.4,515.67 L400.8,515.64 L397.2,515.62 L393.7,515.59 L390.1,515.57 L386.5,515.55 L382.9,515.53 L379.3,515.51 L375.8,515.49 L372.2,515.47 L368.6,515.45 L365.0,515.43Z" fill="#E4ED96"/><path d="M504.0,561.13 L506.5,561.08 L509.0,561.04 L511.5,560.98 L514.0,560.92 L516.5,560.85 L519.0,560.77 L521.4,560.68 L523.9,560.58 L526.4,560.47 L528.9,560.34 L531.4,560.19 L533.9,560.03 L536.4,559.84 L538.9,559.63 L541.4,559.39 L543.9,559.12 L546.4,558.83 L548.9,558.51 L551.3,558.15 L553.8,557.75 L556.3,557.33 L558.8,556.86 L561.3,556.36 L563.8,555.82 L566.3,555.25 L568.8,554.64 L571.3,554.01 L573.8,553.34 L576.3,552.64 L578.8,551.93 L581.2,551.19 L583.7,550.44 L586.2,549.68 L588.7,548.92 L591.2,548.16 L593.7,547.41 L596.2,546.67 L598.7,545.95 L601.2,545.26 L603.7,544.61 L606.2,543.99 L608.6,543.41 L611.1,542.89 L613.6,542.41 L616.1,541.99 L618.6,541.62 L621.1,541.31 L623.6,541.07 L626.1,540.87 L628.6,540.74 L631.1,540.65 L633.6,540.61 L635.0,540.61 L636.1,540.61 L638.5,540.64 L641.0,540.71 L643.5,540.83 L646.0,541.01 L648.5,541.23 L651.0,541.52 L653.5,541.85 L656.0,542.24 L658.5,542.69 L661.0,543.18 L663.5,543.72 L666.0,544.30 L668.5,544.92 L670.9,545.58 L673.4,546.26 L675.9,546.97 L678.4,547.69 L680.9,548.43 L683.4,549.17 L685.9,549.91 L688.4,550.65 L690.9,551.37 L693.4,552.09 L695.9,552.78 L698.4,553.45 L700.8,554.10 L703.3,554.72 L705.8,555.30 L708.3,555.86 L710.8,556.38 L713.3,556.87 L715.8,557.32 L718.3,557.74 L720.8,558.12 L723.3,558.47 L725.8,558.79 L728.2,559.08 L730.7,559.34 L733.2,559.58 L735.7,559.79 L738.2,559.98 L740.7,560.15 L743.2,560.30 L745.7,560.43 L748.2,560.54 L750.7,560.65 L753.2,560.74 L755.7,560.82 L758.1,560.89 L760.6,560.95 L763.1,561.01 L765.6,561.06 L768.1,561.10 L770.6,561.14 L773.1,561.18 L775.6,561.22 L778.1,561.25 L780.6,561.28 L783.1,561.30 L785.6,561.33 L788.0,561.35 L790.5,561.38 L793.0,561.40 L795.5,561.42 L798.0,561.44 L800.5,561.46 L803.0,561.48 L803.0,562.34 L800.5,562.36 L798.0,562.38 L795.5,562.40 L793.0,562.42 L790.5,562.44 L788.0,562.47 L785.6,562.49 L783.1,562.52 L780.6,562.54 L778.1,562.57 L775.6,562.60 L773.1,562.64 L770.6,562.68 L768.1,562.72 L765.6,562.76 L763.1,562.81 L760.6,562.87 L758.1,562.93 L755.7,563.00 L753.2,563.08 L750.7,563.17 L748.2,563.28 L745.7,563.39 L743.2,563.52 L740.7,563.67 L738.2,563.84 L735.7,564.03 L733.2,564.24 L730.7,564.48 L728.2,564.74 L725.8,565.03 L723.3,565.35 L720.8,565.70 L718.3,566.08 L715.8,566.50 L713.3,566.95 L710.8,567.44 L708.3,567.96 L705.8,568.52 L703.3,569.10 L700.8,569.72 L698.4,570.37 L695.9,571.04 L693.4,571.73 L690.9,572.45 L688.4,573.17 L685.9,573.91 L683.4,574.65 L680.9,575.39 L678.4,576.13 L675.9,576.85 L673.4,577.56 L670.9,578.24 L668.5,578.90 L666.0,579.52 L663.5,580.10 L661.0,580.64 L658.5,581.13 L656.0,581.58 L653.5,581.97 L651.0,582.30 L648.5,582.59 L646.0,582.81 L643.5,582.99 L641.0,583.11 L638.5,583.18 L636.1,583.21 L635.0,583.21 L633.6,583.21 L631.1,583.17 L628.6,583.08 L626.1,582.95 L623.6,582.75 L621.1,582.51 L618.6,582.20 L616.1,581.83 L613.6,581.41 L611.1,580.93 L608.6,580.41 L606.2,579.83 L603.7,579.21 L601.2,578.56 L598.7,577.87 L596.2,577.15 L593.7,576.41 L591.2,575.66 L588.7,574.90 L586.2,574.14 L583.7,573.38 L581.2,572.63 L578.8,571.89 L576.3,571.18 L573.8,570.48 L571.3,569.81 L568.8,569.18 L566.3,568.57 L563.8,568.00 L561.3,567.46 L558.8,566.96 L556.3,566.49 L553.8,566.07 L551.3,565.67 L548.9,565.31 L546.4,564.99 L543.9,564.70 L541.4,564.43 L538.9,564.19 L536.4,563.98 L533.9,563.79 L531.4,563.63 L528.9,563.48 L526.4,563.35 L523.9,563.24 L521.4,563.14 L519.0,563.05 L516.5,562.97 L514.0,562.90 L511.5,562.84 L509.0,562.78 L506.5,562.74 L504.0,562.69Z" fill="#E4ED96"/><path d="M426.0,608.45 L430.5,608.43 L434.9,608.41 L439.4,608.40 L443.9,608.38 L448.4,608.36 L452.9,608.34 L457.3,608.32 L461.8,608.30 L466.3,608.28 L470.8,608.25 L475.2,608.23 L479.7,608.20 L484.2,608.17 L488.6,608.14 L493.1,608.11 L497.6,608.08 L502.1,608.04 L506.6,608.00 L511.0,607.95 L515.5,607.90 L520.0,607.84 L524.5,607.77 L528.9,607.70 L533.4,607.61 L537.9,607.51 L542.4,607.40 L546.8,607.27 L551.3,607.12 L555.8,606.95 L560.2,606.75 L564.7,606.54 L569.2,606.29 L573.7,606.01 L578.1,605.70 L582.6,605.35 L587.1,604.97 L591.6,604.54 L596.0,604.08 L600.5,603.57 L605.0,603.03 L609.5,602.44 L614.0,601.82 L618.4,601.15 L622.9,600.46 L627.4,599.73 L631.9,598.97 L636.3,598.19 L640.8,597.40 L645.3,596.59 L649.8,595.78 L654.2,594.98 L658.7,594.18 L663.2,593.40 L667.6,592.65 L672.1,591.92 L676.6,591.24 L681.1,590.60 L685.5,590.01 L690.0,589.48 L694.5,589.01 L699.0,588.60 L703.5,588.26 L707.9,587.98 L712.4,587.76 L716.9,587.61 L721.4,587.52 L725.8,587.48 L728.0,587.48 L730.3,587.49 L734.8,587.54 L739.2,587.66 L743.7,587.86 L748.2,588.14 L752.7,588.50 L757.1,588.95 L761.6,589.47 L766.1,590.07 L770.6,590.74 L775.0,591.48 L779.5,592.27 L784.0,593.10 L788.5,593.97 L793.0,594.87 L797.4,595.78 L801.9,596.69 L806.4,597.59 L810.9,598.48 L815.3,599.35 L819.8,600.19 L824.3,600.98 L828.8,601.74 L833.2,602.44 L837.7,603.10 L842.2,603.71 L846.6,604.26 L851.1,604.76 L855.6,605.21 L860.1,605.62 L864.5,605.98 L869.0,606.29 L873.5,606.57 L878.0,606.81 L882.5,607.02 L886.9,607.20 L891.4,607.35 L895.9,607.49 L900.4,607.60 L904.8,607.70 L909.3,607.78 L913.8,607.86 L918.2,607.92 L922.7,607.98 L927.2,608.03 L931.7,608.07 L936.1,608.11 L940.6,608.15 L945.1,608.18 L949.6,608.21 L954.0,608.24 L958.5,608.26 L963.0,608.29 L963.0,609.27 L958.5,609.30 L954.0,609.32 L949.6,609.35 L945.1,609.38 L940.6,609.41 L936.1,609.45 L931.7,609.49 L927.2,609.53 L922.7,609.58 L918.2,609.64 L913.8,609.70 L909.3,609.78 L904.8,609.86 L900.4,609.96 L895.9,610.07 L891.4,610.21 L886.9,610.36 L882.5,610.54 L878.0,610.75 L873.5,610.99 L869.0,611.27 L864.5,611.58 L860.1,611.94 L855.6,612.35 L851.1,612.80 L846.6,613.30 L842.2,613.85 L837.7,614.46 L833.2,615.12 L828.8,615.82 L824.3,616.58 L819.8,617.37 L815.3,618.21 L810.9,619.08 L806.4,619.97 L801.9,620.87 L797.4,621.78 L793.0,622.69 L788.5,623.59 L784.0,624.46 L779.5,625.29 L775.0,626.08 L770.6,626.82 L766.1,627.49 L761.6,628.09 L757.1,628.61 L752.7,629.06 L748.2,629.42 L743.7,629.70 L739.2,629.90 L734.8,630.02 L730.3,630.07 L728.0,630.08 L725.8,630.08 L721.4,630.04 L716.9,629.95 L712.4,629.80 L707.9,629.58 L703.5,629.30 L699.0,628.96 L694.5,628.55 L690.0,628.08 L685.5,627.55 L681.1,626.96 L676.6,626.32 L672.1,625.64 L667.6,624.91 L663.2,624.16 L658.7,623.38 L654.2,622.58 L649.8,621.78 L645.3,620.97 L640.8,620.16 L636.3,619.37 L631.9,618.59 L627.4,617.83 L622.9,617.10 L618.4,616.41 L614.0,615.74 L609.5,615.12 L605.0,614.53 L600.5,613.99 L596.0,613.48 L591.6,613.02 L587.1,612.59 L582.6,612.21 L578.1,611.86 L573.7,611.55 L569.2,611.27 L564.7,611.02 L560.2,610.81 L555.8,610.61 L551.3,610.44 L546.8,610.29 L542.4,610.16 L537.9,610.05 L533.4,609.95 L528.9,609.86 L524.5,609.79 L520.0,609.72 L515.5,609.66 L511.0,609.61 L506.6,609.56 L502.1,609.52 L497.6,609.48 L493.1,609.45 L488.6,609.42 L484.2,609.39 L479.7,609.36 L475.2,609.33 L470.8,609.31 L466.3,609.28 L461.8,609.26 L457.3,609.24 L452.9,609.22 L448.4,609.20 L443.9,609.18 L439.4,609.16 L434.9,609.15 L430.5,609.13 L426.0,609.11Z" fill="#E4ED96"/><path d="M473.0,655.16 L475.6,655.14 L478.2,655.11 L480.8,655.09 L483.3,655.06 L485.9,655.03 L488.5,655.00 L491.1,654.96 L493.7,654.92 L496.2,654.88 L498.8,654.83 L501.4,654.78 L504.0,654.72 L506.6,654.65 L509.2,654.58 L511.8,654.49 L514.3,654.38 L516.9,654.26 L519.5,654.13 L522.1,653.97 L524.7,653.79 L527.2,653.59 L529.8,653.35 L532.4,653.09 L535.0,652.79 L537.6,652.46 L540.2,652.08 L542.8,651.67 L545.3,651.21 L547.9,650.71 L550.5,650.16 L553.1,649.57 L555.7,648.94 L558.2,648.26 L560.8,647.55 L563.4,646.80 L566.0,646.02 L568.6,645.22 L571.2,644.40 L573.8,643.56 L576.3,642.72 L578.9,641.88 L581.5,641.05 L584.1,640.24 L586.7,639.46 L589.2,638.71 L591.8,638.01 L594.4,637.35 L597.0,636.75 L599.6,636.22 L602.2,635.75 L604.8,635.34 L607.3,635.01 L609.9,634.75 L612.5,634.56 L615.1,634.43 L617.7,634.37 L620.0,634.35 L620.2,634.35 L622.8,634.37 L625.4,634.42 L628.0,634.52 L630.6,634.66 L633.2,634.86 L635.8,635.10 L638.3,635.40 L640.9,635.75 L643.5,636.15 L646.1,636.59 L648.7,637.09 L651.2,637.62 L653.8,638.20 L656.4,638.81 L659.0,639.44 L661.6,640.11 L664.2,640.80 L666.8,641.50 L669.3,642.21 L671.9,642.93 L674.5,643.65 L677.1,644.36 L679.7,645.06 L682.2,645.75 L684.8,646.43 L687.4,647.08 L690.0,647.71 L692.6,648.32 L695.2,648.89 L697.8,649.44 L700.3,649.95 L702.9,650.43 L705.5,650.88 L708.1,651.30 L710.7,651.69 L713.2,652.04 L715.8,652.37 L718.4,652.67 L721.0,652.93 L723.6,653.18 L726.2,653.40 L728.8,653.59 L731.3,653.77 L733.9,653.93 L736.5,654.07 L739.1,654.19 L741.7,654.30 L744.2,654.40 L746.8,654.49 L749.4,654.56 L752.0,654.63 L754.6,654.69 L757.2,654.75 L759.8,654.80 L762.3,654.84 L764.9,654.88 L767.5,654.92 L770.1,654.95 L772.7,654.98 L775.2,655.01 L777.8,655.04 L780.4,655.06 L783.0,655.08 L783.0,656.22 L780.4,656.24 L777.8,656.26 L775.2,656.29 L772.7,656.32 L770.1,656.35 L767.5,656.38 L764.9,656.42 L762.3,656.46 L759.8,656.50 L757.2,656.55 L754.6,656.61 L752.0,656.67 L749.4,656.74 L746.8,656.81 L744.2,656.90 L741.7,657.00 L739.1,657.11 L736.5,657.23 L733.9,657.37 L731.3,657.53 L728.8,657.71 L726.2,657.90 L723.6,658.12 L721.0,658.37 L718.4,658.63 L715.8,658.93 L713.2,659.26 L710.7,659.61 L708.1,660.00 L705.5,660.42 L702.9,660.87 L700.3,661.35 L697.8,661.86 L695.2,662.41 L692.6,662.98 L690.0,663.59 L687.4,664.22 L684.8,664.87 L682.2,665.55 L679.7,666.24 L677.1,666.94 L674.5,667.65 L671.9,668.37 L669.3,669.09 L666.8,669.80 L664.2,670.50 L661.6,671.19 L659.0,671.86 L656.4,672.49 L653.8,673.10 L651.2,673.68 L648.7,674.21 L646.1,674.71 L643.5,675.15 L640.9,675.55 L638.3,675.90 L635.8,676.20 L633.2,676.44 L630.6,676.64 L628.0,676.78 L625.4,676.88 L622.8,676.93 L620.2,676.95 L620.0,676.95 L617.7,676.93 L615.1,676.87 L612.5,676.74 L609.9,676.55 L607.3,676.29 L604.8,675.96 L602.2,675.55 L599.6,675.08 L597.0,674.55 L594.4,673.95 L591.8,673.29 L589.2,672.59 L586.7,671.84 L584.1,671.06 L581.5,670.25 L578.9,669.42 L576.3,668.58 L573.8,667.74 L571.2,666.90 L568.6,666.08 L566.0,665.28 L563.4,664.50 L560.8,663.75 L558.2,663.04 L555.7,662.36 L553.1,661.73 L550.5,661.14 L547.9,660.59 L545.3,660.09 L542.8,659.63 L540.2,659.22 L537.6,658.84 L535.0,658.51 L532.4,658.21 L529.8,657.95 L527.2,657.71 L524.7,657.51 L522.1,657.33 L519.5,657.17 L516.9,657.04 L514.3,656.92 L511.8,656.81 L509.2,656.72 L506.6,656.65 L504.0,656.58 L501.4,656.52 L498.8,656.47 L496.2,656.42 L493.7,656.38 L491.1,656.34 L488.5,656.30 L485.9,656.27 L483.3,656.24 L480.8,656.21 L478.2,656.19 L475.6,656.16 L473.0,656.14Z" fill="#A8A8D0"/><path d="M575.0,702.17 L578.4,702.15 L581.8,702.13 L585.2,702.11 L588.6,702.09 L592.0,702.07 L595.4,702.04 L598.8,702.02 L602.2,702.00 L605.6,701.97 L609.0,701.94 L612.4,701.91 L615.8,701.88 L619.2,701.85 L622.6,701.81 L626.0,701.77 L629.3,701.72 L632.7,701.67 L636.1,701.61 L639.5,701.55 L642.9,701.47 L646.3,701.38 L649.7,701.28 L653.1,701.17 L656.5,701.03 L659.9,700.88 L663.3,700.70 L666.7,700.50 L670.1,700.26 L673.5,700.00 L676.9,699.70 L680.3,699.36 L683.7,698.98 L687.1,698.56 L690.5,698.09 L693.9,697.58 L697.3,697.02 L700.7,696.42 L704.1,695.77 L707.5,695.08 L710.9,694.35 L714.3,693.58 L717.7,692.78 L721.1,691.95 L724.5,691.11 L727.9,690.25 L731.2,689.39 L734.6,688.54 L738.0,687.70 L741.4,686.88 L744.8,686.09 L748.2,685.34 L751.6,684.64 L755.0,683.99 L758.4,683.40 L761.8,682.88 L765.2,682.43 L768.6,682.05 L772.0,681.74 L775.4,681.51 L778.8,681.35 L782.2,681.26 L785.6,681.22 L786.7,681.22 L789.0,681.23 L792.4,681.30 L795.8,681.45 L799.2,681.68 L802.6,682.00 L806.0,682.41 L809.4,682.92 L812.8,683.51 L816.2,684.17 L819.6,684.92 L823.0,685.72 L826.4,686.58 L829.8,687.48 L833.1,688.40 L836.5,689.35 L839.9,690.31 L843.3,691.25 L846.7,692.19 L850.1,693.09 L853.5,693.96 L856.9,694.79 L860.3,695.58 L863.7,696.31 L867.1,696.98 L870.5,697.60 L873.9,698.16 L877.3,698.67 L880.7,699.12 L884.1,699.52 L887.5,699.88 L890.9,700.19 L894.3,700.45 L897.7,700.68 L901.1,700.88 L904.5,701.05 L907.9,701.20 L911.3,701.32 L914.7,701.43 L918.1,701.52 L921.5,701.59 L924.9,701.66 L928.3,701.72 L931.6,701.77 L935.0,701.81 L938.4,701.86 L941.8,701.89 L945.2,701.93 L948.6,701.96 L952.0,701.99 L955.4,702.02 L958.8,702.04 L962.2,702.07 L965.6,702.09 L969.0,702.11 L972.4,702.13 L975.8,702.16 L979.2,702.18 L982.6,702.19 L982.6,702.85 L979.2,702.86 L975.8,702.88 L972.4,702.91 L969.0,702.93 L965.6,702.95 L962.2,702.97 L958.8,703.00 L955.4,703.02 L952.0,703.05 L948.6,703.08 L945.2,703.11 L941.8,703.15 L938.4,703.18 L935.0,703.23 L931.6,703.27 L928.3,703.32 L924.9,703.38 L921.5,703.45 L918.1,703.52 L914.7,703.61 L911.3,703.72 L907.9,703.84 L904.5,703.99 L901.1,704.16 L897.7,704.36 L894.3,704.59 L890.9,704.85 L887.5,705.16 L884.1,705.52 L880.7,705.92 L877.3,706.37 L873.9,706.88 L870.5,707.44 L867.1,708.06 L863.7,708.73 L860.3,709.46 L856.9,710.25 L853.5,711.08 L850.1,711.95 L846.7,712.85 L843.3,713.79 L839.9,714.73 L836.5,715.69 L833.1,716.64 L829.8,717.56 L826.4,718.46 L823.0,719.32 L819.6,720.12 L816.2,720.87 L812.8,721.53 L809.4,722.12 L806.0,722.63 L802.6,723.04 L799.2,723.36 L795.8,723.59 L792.4,723.74 L789.0,723.81 L786.7,723.82 L785.6,723.82 L782.2,723.78 L778.8,723.69 L775.4,723.53 L772.0,723.30 L768.6,722.99 L765.2,722.61 L761.8,722.16 L758.4,721.64 L755.0,721.05 L751.6,720.40 L748.2,719.70 L744.8,718.95 L741.4,718.16 L738.0,717.34 L734.6,716.50 L731.2,715.65 L727.9,714.79 L724.5,713.93 L721.1,713.09 L717.7,712.26 L714.3,711.46 L710.9,710.69 L707.5,709.96 L704.1,709.27 L700.7,708.62 L697.3,708.02 L693.9,707.46 L690.5,706.95 L687.1,706.48 L683.7,706.06 L680.3,705.68 L676.9,705.34 L673.5,705.04 L670.1,704.78 L666.7,704.54 L663.3,704.34 L659.9,704.16 L656.5,704.01 L653.1,703.87 L649.7,703.76 L646.3,703.66 L642.9,703.57 L639.5,703.49 L636.1,703.43 L632.7,703.37 L629.3,703.32 L626.0,703.27 L622.6,703.23 L619.2,703.19 L615.8,703.16 L612.4,703.13 L609.0,703.10 L605.6,703.07 L602.2,703.04 L598.8,703.02 L595.4,703.00 L592.0,702.97 L588.6,702.95 L585.2,702.93 L581.8,702.91 L578.4,702.89 L575.0,702.87Z" fill="#A8A8D0"/><rect x="638.0" y="184.90" width="187.0" height="4.1" fill="#000"/><rect x="700.4" y="182.25" width="63.8" height="9.4" fill="#000"/><circle cx="731.9" cy="186.95" r="10.2" fill="#000"/><circle cx="731.9" cy="186.95" r="7.2" fill="#fff"/><rect x="639.9" y="231.77" width="141.2" height="4.1" fill="#000"/><rect x="687.8" y="229.12" width="47.1" height="9.4" fill="#000"/><circle cx="711.2" cy="233.82" r="10.2" fill="#000"/><circle cx="711.2" cy="233.82" r="7.2" fill="#fff"/><rect x="613.0" y="278.64" width="157.4" height="4.1" fill="#000"/><rect x="663.6" y="275.99" width="55.7" height="9.4" fill="#000"/><circle cx="691.5" cy="280.69" r="10.2" fill="#000"/><circle cx="691.5" cy="280.69" r="7.2" fill="#fff"/><rect x="612.5" y="325.51" width="138.5" height="4.1" fill="#000"/><rect x="659.3" y="322.86" width="47.9" height="9.4" fill="#000"/><circle cx="683.0" cy="327.56" r="10.2" fill="#000"/><circle cx="683.0" cy="327.56" r="7.2" fill="#fff"/><rect x="603.0" y="372.38" width="159.8" height="4.1" fill="#000"/><rect x="652.0" y="369.73" width="51.9" height="9.4" fill="#000"/><circle cx="677.6" cy="374.43" r="10.2" fill="#000"/><circle cx="677.6" cy="374.43" r="7.2" fill="#fff"/><rect x="639.9" y="419.25" width="134.0" height="4.1" fill="#000"/><rect x="683.0" y="416.60" width="43.8" height="9.4" fill="#000"/><circle cx="705.0" cy="421.30" r="10.2" fill="#000"/><circle cx="705.0" cy="421.30" r="7.2" fill="#fff"/><rect x="670.0" y="466.12" width="140.9" height="4.1" fill="#000"/><rect x="720.2" y="463.47" width="45.5" height="9.4" fill="#000"/><circle cx="742.5" cy="468.17" r="10.2" fill="#000"/><circle cx="742.5" cy="468.17" r="7.2" fill="#fff"/><rect x="483.6" y="512.99" width="215.4" height="4.1" fill="#000"/><rect x="563.0" y="510.34" width="72.3" height="9.4" fill="#000"/><circle cx="598.6" cy="515.04" r="10.2" fill="#000"/><circle cx="598.6" cy="515.04" r="7.2" fill="#fff"/><rect x="547.6" y="559.86" width="177.2" height="4.1" fill="#000"/><rect x="604.4" y="557.21" width="61.0" height="9.4" fill="#000"/><circle cx="634.5" cy="561.91" r="10.2" fill="#000"/><circle cx="634.5" cy="561.91" r="7.2" fill="#fff"/><rect x="580.2" y="606.73" width="279.0" height="4.1" fill="#000"/><rect x="676.2" y="604.08" width="98.0" height="9.4" fill="#000"/><circle cx="725.2" cy="608.78" r="10.2" fill="#000"/><circle cx="725.2" cy="608.78" r="7.2" fill="#fff"/><rect x="537.9" y="653.60" width="178.3" height="4.1" fill="#000"/><rect x="594.7" y="650.95" width="60.0" height="9.4" fill="#000"/><circle cx="624.9" cy="655.65" r="10.2" fill="#000"/><circle cx="624.9" cy="655.65" r="7.2" fill="#fff"/><rect x="681.0" y="700.47" width="201.0" height="4.1" fill="#000"/><rect x="752.2" y="697.82" width="66.6" height="9.4" fill="#000"/><circle cx="785.9" cy="702.52" r="10.2" fill="#000"/><circle cx="785.9" cy="702.52" r="7.2" fill="#fff"/><rect x="336" y="159.6" width="677" height="570.4" fill="none" stroke="#000" stroke-width="2"/><line x1="356.6" x2="356.6" y1="730" y2="738.5" stroke="#000" stroke-width="2"/><text transform="translate(356.6,773.0) scale(1,1.03)" font-size="29" text-anchor="middle" class="t"><tspan dy="2.6">−</tspan><tspan dy="-2.6">0.4</tspan></text><line x1="522.8" x2="522.8" y1="730" y2="738.5" stroke="#000" stroke-width="2"/><text transform="translate(522.8,773.0) scale(1,1.03)" font-size="29" text-anchor="middle" class="t"><tspan dy="2.6">−</tspan><tspan dy="-2.6">0.2</tspan></text><line x1="689.0" x2="689.0" y1="730" y2="738.5" stroke="#000" stroke-width="2"/><text transform="translate(689.0,773.0) scale(1,1.03)" font-size="29" text-anchor="middle" class="t">0.0</text><line x1="855.2" x2="855.2" y1="730" y2="738.5" stroke="#000" stroke-width="2"/><text transform="translate(855.2,773.0) scale(1,1.03)" font-size="29" text-anchor="middle" class="t">0.2</text><line x1="326.4" x2="336" y1="186.95" y2="186.95" stroke="#000" stroke-width="2"/><text transform="translate(315.0,196.0) scale(1,1.04)" font-size="29.1" text-anchor="end" class="t">PDO</text><line x1="326.4" x2="336" y1="233.82" y2="233.82" stroke="#000" stroke-width="2"/><text transform="translate(315.0,242.9) scale(1,1.04)" font-size="29.1" text-anchor="end" class="t">NPGO</text><line x1="326.4" x2="336" y1="280.69" y2="280.69" stroke="#000" stroke-width="2"/><text transform="translate(315.0,289.8) scale(1,1.04)" font-size="29.1" text-anchor="end" class="t">MEI</text><line x1="326.4" x2="336" y1="327.56" y2="327.56" stroke="#000" stroke-width="2"/><text transform="translate(315.0,336.7) scale(1,1.04)" font-size="29.1" text-anchor="end" class="t">MEIw</text><line x1="326.4" x2="336" y1="374.43" y2="374.43" stroke="#000" stroke-width="2"/><text transform="translate(315.0,383.5) scale(1,1.04)" font-size="29.1" text-anchor="end" class="t">Being sea ice cover</text><line x1="326.4" x2="336" y1="421.30" y2="421.30" stroke="#000" stroke-width="2"/><text transform="translate(315.0,430.4) scale(1,1.04)" font-size="29.1" text-anchor="end" class="t">Summer air temperature</text><line x1="326.4" x2="336" y1="468.17" y2="468.17" stroke="#000" stroke-width="2"/><text transform="translate(315.0,477.3) scale(1,1.04)" font-size="29.1" text-anchor="end" class="t">Nearhsore summer SST</text><line x1="326.4" x2="336" y1="515.04" y2="515.04" stroke="#000" stroke-width="2"/><text transform="translate(315.0,524.1) scale(1,1.04)" font-size="29.1" text-anchor="end" class="t">North Pacific sockeye</text><line x1="326.4" x2="336" y1="561.91" y2="561.91" stroke="#000" stroke-width="2"/><text transform="translate(315.0,571.0) scale(1,1.04)" font-size="29.1" text-anchor="end" class="t">North Pacific pink</text><line x1="326.4" x2="336" y1="608.78" y2="608.78" stroke="#000" stroke-width="2"/><text transform="translate(315.0,617.9) scale(1,1.04)" font-size="29.1" text-anchor="end" class="t">Noth Pacific chum</text><line x1="326.4" x2="336" y1="655.65" y2="655.65" stroke="#000" stroke-width="2"/><text transform="translate(315.0,664.8) scale(1,1.04)" font-size="29.1" text-anchor="end" class="t">Alaska pink</text><line x1="326.4" x2="336" y1="702.52" y2="702.52" stroke="#000" stroke-width="2"/><text transform="translate(315.0,711.6) scale(1,1.04)" font-size="29.1" text-anchor="end" class="t">Alaska chum</text><rect x="1031" y="104" width="679" height="56.6" fill="#000"/><text transform="translate(1370.5,140.2) scale(1,1.05)" font-size="29" text-anchor="middle" class="t" style="fill:#fff">Chum</text><line x1="1032" x2="1709" y1="186.95" y2="186.95" stroke="#bbbbbb" stroke-width="1"/><line x1="1032" x2="1709" y1="233.82" y2="233.82" stroke="#bbbbbb" stroke-width="1"/><line x1="1032" x2="1709" y1="280.69" y2="280.69" stroke="#bbbbbb" stroke-width="1"/><line x1="1032" x2="1709" y1="327.56" y2="327.56" stroke="#bbbbbb" stroke-width="1"/><line x1="1032" x2="1709" y1="374.43" y2="374.43" stroke="#bbbbbb" stroke-width="1"/><line x1="1032" x2="1709" y1="421.30" y2="421.30" stroke="#bbbbbb" stroke-width="1"/><line x1="1032" x2="1709" y1="468.17" y2="468.17" stroke="#bbbbbb" stroke-width="1"/><line x1="1032" x2="1709" y1="515.04" y2="515.04" stroke="#bbbbbb" stroke-width="1"/><line x1="1032" x2="1709" y1="561.91" y2="561.91" stroke="#bbbbbb" stroke-width="1"/><line x1="1032" x2="1709" y1="608.78" y2="608.78" stroke="#bbbbbb" stroke-width="1"/><line x1="1032" x2="1709" y1="655.65" y2="655.65" stroke="#bbbbbb" stroke-width="1"/><line x1="1032" x2="1709" y1="702.52" y2="702.52" stroke="#bbbbbb" stroke-width="1"/><line x1="1414.1" x2="1414.1" y1="160.6" y2="730" stroke="#ff0000" stroke-width="4"/><path d="M1341.0,186.79 L1343.6,186.78 L1346.1,186.77 L1348.7,186.75 L1351.2,186.74 L1353.8,186.72 L1356.3,186.71 L1358.9,186.69 L1361.5,186.67 L1364.0,186.66 L1366.6,186.64 L1369.1,186.62 L1371.7,186.60 L1374.3,186.58 L1376.8,186.55 L1379.4,186.53 L1381.9,186.51 L1384.5,186.48 L1387.0,186.45 L1389.6,186.43 L1392.2,186.40 L1394.7,186.36 L1397.3,186.33 L1399.8,186.29 L1402.4,186.25 L1405.0,186.20 L1407.5,186.15 L1410.1,186.08 L1412.6,186.01 L1415.2,185.93 L1417.8,185.83 L1420.3,185.72 L1422.9,185.58 L1425.4,185.42 L1428.0,185.23 L1430.5,185.00 L1433.1,184.74 L1435.7,184.44 L1438.2,184.09 L1440.8,183.68 L1443.3,183.22 L1445.9,182.71 L1448.5,182.13 L1451.0,181.48 L1453.6,180.78 L1456.1,180.02 L1458.7,179.19 L1461.2,178.32 L1463.8,177.40 L1466.4,176.45 L1468.9,175.46 L1471.5,174.47 L1474.0,173.47 L1476.6,172.48 L1479.2,171.51 L1481.7,170.59 L1484.3,169.72 L1486.8,168.91 L1489.4,168.18 L1491.9,167.53 L1494.5,166.97 L1497.1,166.52 L1499.6,166.16 L1502.2,165.90 L1504.7,165.74 L1507.3,165.66 L1509.0,165.65 L1509.8,165.65 L1512.4,165.69 L1515.0,165.80 L1517.5,165.98 L1520.1,166.23 L1522.6,166.57 L1525.2,166.99 L1527.8,167.49 L1530.3,168.06 L1532.9,168.70 L1535.4,169.41 L1538.0,170.17 L1540.5,170.98 L1543.1,171.83 L1545.7,172.71 L1548.2,173.60 L1550.8,174.50 L1553.3,175.40 L1555.9,176.28 L1558.5,177.15 L1561.0,177.99 L1563.6,178.79 L1566.1,179.56 L1568.7,180.28 L1571.2,180.95 L1573.8,181.57 L1576.4,182.15 L1578.9,182.67 L1581.5,183.14 L1584.0,183.57 L1586.6,183.94 L1589.2,184.28 L1591.7,184.58 L1594.3,184.83 L1596.8,185.06 L1599.4,185.25 L1602.0,185.42 L1604.5,185.57 L1607.1,185.69 L1609.6,185.80 L1612.2,185.90 L1614.7,185.98 L1617.3,186.04 L1619.9,186.11 L1622.4,186.16 L1625.0,186.21 L1627.5,186.25 L1630.1,186.29 L1632.7,186.32 L1635.2,186.35 L1637.8,186.38 L1640.3,186.41 L1642.9,186.44 L1645.4,186.46 L1648.0,186.49 L1648.0,187.41 L1645.4,187.44 L1642.9,187.46 L1640.3,187.49 L1637.8,187.52 L1635.2,187.55 L1632.7,187.58 L1630.1,187.61 L1627.5,187.65 L1625.0,187.69 L1622.4,187.74 L1619.9,187.79 L1617.3,187.86 L1614.7,187.92 L1612.2,188.00 L1609.6,188.10 L1607.1,188.21 L1604.5,188.33 L1602.0,188.48 L1599.4,188.65 L1596.8,188.84 L1594.3,189.07 L1591.7,189.32 L1589.2,189.62 L1586.6,189.96 L1584.0,190.33 L1581.5,190.76 L1578.9,191.23 L1576.4,191.75 L1573.8,192.33 L1571.2,192.95 L1568.7,193.62 L1566.1,194.34 L1563.6,195.11 L1561.0,195.91 L1558.5,196.75 L1555.9,197.62 L1553.3,198.50 L1550.8,199.40 L1548.2,200.30 L1545.7,201.19 L1543.1,202.07 L1540.5,202.92 L1538.0,203.73 L1535.4,204.49 L1532.9,205.20 L1530.3,205.84 L1527.8,206.41 L1525.2,206.91 L1522.6,207.33 L1520.1,207.67 L1517.5,207.92 L1515.0,208.10 L1512.4,208.21 L1509.8,208.25 L1509.0,208.25 L1507.3,208.24 L1504.7,208.16 L1502.2,208.00 L1499.6,207.74 L1497.1,207.38 L1494.5,206.93 L1491.9,206.37 L1489.4,205.72 L1486.8,204.99 L1484.3,204.18 L1481.7,203.31 L1479.2,202.39 L1476.6,201.42 L1474.0,200.43 L1471.5,199.43 L1468.9,198.44 L1466.4,197.45 L1463.8,196.50 L1461.2,195.58 L1458.7,194.71 L1456.1,193.88 L1453.6,193.12 L1451.0,192.42 L1448.5,191.77 L1445.9,191.19 L1443.3,190.68 L1440.8,190.22 L1438.2,189.81 L1435.7,189.46 L1433.1,189.16 L1430.5,188.90 L1428.0,188.67 L1425.4,188.48 L1422.9,188.32 L1420.3,188.18 L1417.8,188.07 L1415.2,187.97 L1412.6,187.89 L1410.1,187.82 L1407.5,187.75 L1405.0,187.70 L1402.4,187.65 L1399.8,187.61 L1397.3,187.57 L1394.7,187.54 L1392.2,187.50 L1389.6,187.47 L1387.0,187.45 L1384.5,187.42 L1381.9,187.39 L1379.4,187.37 L1376.8,187.35 L1374.3,187.32 L1371.7,187.30 L1369.1,187.28 L1366.6,187.26 L1364.0,187.24 L1361.5,187.23 L1358.9,187.21 L1356.3,187.19 L1353.8,187.18 L1351.2,187.16 L1348.7,187.15 L1346.1,187.13 L1343.6,187.12 L1341.0,187.11Z" fill="#F8AE93"/><path d="M1061.0,233.14 L1063.4,233.11 L1065.8,233.07 L1068.2,233.04 L1070.6,232.99 L1073.0,232.94 L1075.4,232.89 L1077.8,232.83 L1080.2,232.76 L1082.6,232.68 L1085.0,232.60 L1087.4,232.50 L1089.8,232.39 L1092.2,232.26 L1094.6,232.12 L1097.0,231.95 L1099.4,231.77 L1101.8,231.56 L1104.2,231.33 L1106.6,231.08 L1109.0,230.79 L1111.4,230.48 L1113.8,230.13 L1116.2,229.75 L1118.6,229.34 L1121.0,228.89 L1123.4,228.40 L1125.8,227.89 L1128.2,227.33 L1130.6,226.74 L1133.0,226.13 L1135.3,225.48 L1137.7,224.80 L1140.1,224.10 L1142.5,223.38 L1144.9,222.65 L1147.3,221.90 L1149.7,221.15 L1152.1,220.40 L1154.5,219.66 L1156.9,218.92 L1159.3,218.21 L1161.7,217.51 L1164.1,216.85 L1166.5,216.22 L1168.9,215.63 L1171.3,215.09 L1173.7,214.59 L1176.1,214.14 L1178.5,213.75 L1180.9,213.41 L1183.3,213.13 L1185.7,212.90 L1188.1,212.73 L1190.5,212.61 L1192.9,212.55 L1195.3,212.52 L1196.0,212.52 L1197.7,212.53 L1200.1,212.56 L1202.5,212.63 L1204.9,212.75 L1207.3,212.91 L1209.7,213.12 L1212.1,213.37 L1214.5,213.67 L1216.9,214.02 L1219.3,214.42 L1221.7,214.85 L1224.1,215.33 L1226.5,215.85 L1228.9,216.41 L1231.3,216.99 L1233.7,217.61 L1236.1,218.25 L1238.5,218.90 L1240.9,219.58 L1243.3,220.26 L1245.7,220.95 L1248.1,221.64 L1250.5,222.32 L1252.9,223.00 L1255.3,223.67 L1257.7,224.33 L1260.1,224.96 L1262.5,225.58 L1264.9,226.17 L1267.3,226.74 L1269.7,227.28 L1272.1,227.79 L1274.5,228.28 L1276.8,228.73 L1279.2,229.16 L1281.6,229.55 L1284.0,229.92 L1286.4,230.25 L1288.8,230.56 L1291.2,230.85 L1293.6,231.10 L1296.0,231.34 L1298.4,231.55 L1300.8,231.74 L1303.2,231.91 L1305.6,232.07 L1308.0,232.20 L1310.4,232.33 L1312.8,232.44 L1315.2,232.54 L1317.6,232.62 L1320.0,232.70 L1322.4,232.77 L1324.8,232.83 L1327.2,232.89 L1329.6,232.94 L1332.0,232.98 L1334.4,233.02 L1336.8,233.06 L1339.2,233.09 L1341.6,233.13 L1344.0,233.15 L1346.4,233.18 L1348.8,233.21 L1348.8,234.43 L1346.4,234.46 L1344.0,234.49 L1341.6,234.51 L1339.2,234.55 L1336.8,234.58 L1334.4,234.62 L1332.0,234.66 L1329.6,234.70 L1327.2,234.75 L1324.8,234.81 L1322.4,234.87 L1320.0,234.94 L1317.6,235.02 L1315.2,235.10 L1312.8,235.20 L1310.4,235.31 L1308.0,235.44 L1305.6,235.57 L1303.2,235.73 L1300.8,235.90 L1298.4,236.09 L1296.0,236.30 L1293.6,236.54 L1291.2,236.79 L1288.8,237.08 L1286.4,237.39 L1284.0,237.72 L1281.6,238.09 L1279.2,238.48 L1276.8,238.91 L1274.5,239.36 L1272.1,239.85 L1269.7,240.36 L1267.3,240.90 L1264.9,241.47 L1262.5,242.06 L1260.1,242.68 L1257.7,243.31 L1255.3,243.97 L1252.9,244.64 L1250.5,245.32 L1248.1,246.00 L1245.7,246.69 L1243.3,247.38 L1240.9,248.06 L1238.5,248.74 L1236.1,249.39 L1233.7,250.03 L1231.3,250.65 L1228.9,251.23 L1226.5,251.79 L1224.1,252.31 L1221.7,252.79 L1219.3,253.22 L1216.9,253.62 L1214.5,253.97 L1212.1,254.27 L1209.7,254.52 L1207.3,254.73 L1204.9,254.89 L1202.5,255.01 L1200.1,255.08 L1197.7,255.11 L1196.0,255.12 L1195.3,255.12 L1192.9,255.09 L1190.5,255.03 L1188.1,254.91 L1185.7,254.74 L1183.3,254.51 L1180.9,254.23 L1178.5,253.89 L1176.1,253.50 L1173.7,253.05 L1171.3,252.55 L1168.9,252.01 L1166.5,251.42 L1164.1,250.79 L1161.7,250.13 L1159.3,249.43 L1156.9,248.72 L1154.5,247.98 L1152.1,247.24 L1149.7,246.49 L1147.3,245.74 L1144.9,244.99 L1142.5,244.26 L1140.1,243.54 L1137.7,242.84 L1135.3,242.16 L1133.0,241.51 L1130.6,240.90 L1128.2,240.31 L1125.8,239.75 L1123.4,239.24 L1121.0,238.75 L1118.6,238.30 L1116.2,237.89 L1113.8,237.51 L1111.4,237.16 L1109.0,236.85 L1106.6,236.56 L1104.2,236.31 L1101.8,236.08 L1099.4,235.87 L1097.0,235.69 L1094.6,235.52 L1092.2,235.38 L1089.8,235.25 L1087.4,235.14 L1085.0,235.04 L1082.6,234.96 L1080.2,234.88 L1077.8,234.81 L1075.4,234.75 L1073.0,234.70 L1070.6,234.65 L1068.2,234.60 L1065.8,234.57 L1063.4,234.53 L1061.0,234.50Z" fill="#F8AE93"/><path d="M1277.0,280.14 L1278.9,280.12 L1280.8,280.09 L1282.7,280.06 L1284.5,280.03 L1286.4,280.00 L1288.3,279.97 L1290.2,279.93 L1292.1,279.89 L1294.0,279.84 L1295.8,279.79 L1297.7,279.73 L1299.6,279.66 L1301.5,279.59 L1303.4,279.50 L1305.2,279.41 L1307.1,279.30 L1309.0,279.17 L1310.9,279.03 L1312.8,278.87 L1314.7,278.69 L1316.5,278.48 L1318.4,278.25 L1320.3,277.99 L1322.2,277.70 L1324.1,277.38 L1326.0,277.03 L1327.8,276.64 L1329.7,276.22 L1331.6,275.76 L1333.5,275.26 L1335.4,274.73 L1337.3,274.16 L1339.2,273.55 L1341.0,272.91 L1342.9,272.24 L1344.8,271.54 L1346.7,270.82 L1348.6,270.08 L1350.5,269.32 L1352.3,268.55 L1354.2,267.78 L1356.1,267.01 L1358.0,266.25 L1359.9,265.50 L1361.8,264.78 L1363.6,264.08 L1365.5,263.41 L1367.4,262.79 L1369.3,262.20 L1371.2,261.67 L1373.0,261.19 L1374.9,260.76 L1376.8,260.39 L1378.7,260.08 L1380.6,259.83 L1382.5,259.64 L1384.3,259.51 L1386.2,259.43 L1388.1,259.39 L1389.0,259.39 L1390.0,259.39 L1391.9,259.43 L1393.8,259.52 L1395.7,259.66 L1397.5,259.85 L1399.4,260.11 L1401.3,260.42 L1403.2,260.80 L1405.1,261.23 L1407.0,261.72 L1408.8,262.26 L1410.7,262.86 L1412.6,263.49 L1414.5,264.16 L1416.4,264.87 L1418.2,265.60 L1420.1,266.35 L1422.0,267.12 L1423.9,267.89 L1425.8,268.67 L1427.7,269.44 L1429.5,270.20 L1431.4,270.94 L1433.3,271.66 L1435.2,272.36 L1437.1,273.03 L1439.0,273.66 L1440.8,274.27 L1442.7,274.83 L1444.6,275.36 L1446.5,275.86 L1448.4,276.31 L1450.3,276.73 L1452.2,277.11 L1454.0,277.46 L1455.9,277.77 L1457.8,278.05 L1459.7,278.31 L1461.6,278.53 L1463.5,278.73 L1465.3,278.91 L1467.2,279.07 L1469.1,279.21 L1471.0,279.33 L1472.9,279.43 L1474.8,279.53 L1476.6,279.61 L1478.5,279.68 L1480.4,279.75 L1482.3,279.80 L1484.2,279.85 L1486.0,279.90 L1487.9,279.94 L1489.8,279.98 L1491.7,280.01 L1493.6,280.04 L1495.5,280.07 L1497.3,280.10 L1499.2,280.13 L1501.1,280.15 L1503.0,280.17 L1503.0,281.21 L1501.1,281.23 L1499.2,281.25 L1497.3,281.28 L1495.5,281.31 L1493.6,281.34 L1491.7,281.37 L1489.8,281.40 L1487.9,281.44 L1486.0,281.48 L1484.2,281.53 L1482.3,281.58 L1480.4,281.63 L1478.5,281.70 L1476.6,281.77 L1474.8,281.85 L1472.9,281.95 L1471.0,282.05 L1469.1,282.17 L1467.2,282.31 L1465.3,282.47 L1463.5,282.65 L1461.6,282.85 L1459.7,283.07 L1457.8,283.33 L1455.9,283.61 L1454.0,283.92 L1452.2,284.27 L1450.3,284.65 L1448.4,285.07 L1446.5,285.52 L1444.6,286.02 L1442.7,286.55 L1440.8,287.11 L1439.0,287.72 L1437.1,288.35 L1435.2,289.02 L1433.3,289.72 L1431.4,290.44 L1429.5,291.18 L1427.7,291.94 L1425.8,292.71 L1423.9,293.49 L1422.0,294.26 L1420.1,295.03 L1418.2,295.78 L1416.4,296.51 L1414.5,297.22 L1412.6,297.89 L1410.7,298.52 L1408.8,299.12 L1407.0,299.66 L1405.1,300.15 L1403.2,300.58 L1401.3,300.96 L1399.4,301.27 L1397.5,301.53 L1395.7,301.72 L1393.8,301.86 L1391.9,301.95 L1390.0,301.99 L1389.0,301.99 L1388.1,301.99 L1386.2,301.95 L1384.3,301.87 L1382.5,301.74 L1380.6,301.55 L1378.7,301.30 L1376.8,300.99 L1374.9,300.62 L1373.0,300.19 L1371.2,299.71 L1369.3,299.18 L1367.4,298.59 L1365.5,297.97 L1363.6,297.30 L1361.8,296.60 L1359.9,295.88 L1358.0,295.13 L1356.1,294.37 L1354.2,293.60 L1352.3,292.83 L1350.5,292.06 L1348.6,291.30 L1346.7,290.56 L1344.8,289.84 L1342.9,289.14 L1341.0,288.47 L1339.2,287.83 L1337.3,287.22 L1335.4,286.65 L1333.5,286.12 L1331.6,285.62 L1329.7,285.16 L1327.8,284.74 L1326.0,284.35 L1324.1,284.00 L1322.2,283.68 L1320.3,283.39 L1318.4,283.13 L1316.5,282.90 L1314.7,282.69 L1312.8,282.51 L1310.9,282.35 L1309.0,282.21 L1307.1,282.08 L1305.2,281.97 L1303.4,281.88 L1301.5,281.79 L1299.6,281.72 L1297.7,281.65 L1295.8,281.59 L1294.0,281.54 L1292.1,281.49 L1290.2,281.45 L1288.3,281.41 L1286.4,281.38 L1284.5,281.35 L1282.7,281.32 L1280.8,281.29 L1278.9,281.26 L1277.0,281.24Z" fill="#F8AE93"/><path d="M1279.0,327.20 L1281.0,327.18 L1283.1,327.17 L1285.1,327.15 L1287.1,327.12 L1289.1,327.10 L1291.2,327.08 L1293.2,327.06 L1295.2,327.03 L1297.3,327.01 L1299.3,326.98 L1301.3,326.95 L1303.3,326.92 L1305.4,326.88 L1307.4,326.84 L1309.4,326.80 L1311.5,326.75 L1313.5,326.70 L1315.5,326.64 L1317.5,326.57 L1319.6,326.49 L1321.6,326.40 L1323.6,326.30 L1325.7,326.18 L1327.7,326.04 L1329.7,325.88 L1331.7,325.70 L1333.8,325.48 L1335.8,325.24 L1337.8,324.97 L1339.8,324.66 L1341.9,324.31 L1343.9,323.92 L1345.9,323.48 L1348.0,323.00 L1350.0,322.48 L1352.0,321.91 L1354.0,321.29 L1356.1,320.63 L1358.1,319.92 L1360.1,319.18 L1362.2,318.40 L1364.2,317.59 L1366.2,316.75 L1368.2,315.90 L1370.3,315.04 L1372.3,314.18 L1374.3,313.32 L1376.4,312.49 L1378.4,311.67 L1380.4,310.89 L1382.4,310.15 L1384.5,309.46 L1386.5,308.83 L1388.5,308.26 L1390.6,307.76 L1392.6,307.33 L1394.6,306.98 L1396.6,306.70 L1398.7,306.49 L1400.7,306.35 L1402.7,306.28 L1404.7,306.26 L1404.8,306.26 L1406.8,306.28 L1408.8,306.36 L1410.8,306.50 L1412.9,306.71 L1414.9,307.00 L1416.9,307.36 L1419.0,307.79 L1421.0,308.29 L1423.0,308.87 L1425.0,309.50 L1427.1,310.19 L1429.1,310.93 L1431.1,311.72 L1433.2,312.53 L1435.2,313.37 L1437.2,314.23 L1439.2,315.09 L1441.3,315.95 L1443.3,316.80 L1445.3,317.63 L1447.4,318.44 L1449.4,319.22 L1451.4,319.96 L1453.4,320.66 L1455.5,321.32 L1457.5,321.94 L1459.5,322.51 L1461.6,323.03 L1463.6,323.51 L1465.6,323.94 L1467.6,324.33 L1469.7,324.68 L1471.7,324.98 L1473.7,325.26 L1475.7,325.50 L1477.8,325.71 L1479.8,325.89 L1481.8,326.05 L1483.9,326.19 L1485.9,326.31 L1487.9,326.41 L1489.9,326.50 L1492.0,326.58 L1494.0,326.64 L1496.0,326.70 L1498.1,326.76 L1500.1,326.80 L1502.1,326.85 L1504.1,326.88 L1506.2,326.92 L1508.2,326.95 L1510.2,326.98 L1512.3,327.01 L1514.3,327.03 L1516.3,327.06 L1518.3,327.08 L1520.4,327.10 L1522.4,327.13 L1522.4,327.99 L1520.4,328.02 L1518.3,328.04 L1516.3,328.06 L1514.3,328.09 L1512.3,328.11 L1510.2,328.14 L1508.2,328.17 L1506.2,328.20 L1504.1,328.24 L1502.1,328.27 L1500.1,328.32 L1498.1,328.36 L1496.0,328.42 L1494.0,328.48 L1492.0,328.54 L1489.9,328.62 L1487.9,328.71 L1485.9,328.81 L1483.9,328.93 L1481.8,329.07 L1479.8,329.23 L1477.8,329.41 L1475.7,329.62 L1473.7,329.86 L1471.7,330.14 L1469.7,330.44 L1467.6,330.79 L1465.6,331.18 L1463.6,331.61 L1461.6,332.09 L1459.5,332.61 L1457.5,333.18 L1455.5,333.80 L1453.4,334.46 L1451.4,335.16 L1449.4,335.90 L1447.4,336.68 L1445.3,337.49 L1443.3,338.32 L1441.3,339.17 L1439.2,340.03 L1437.2,340.89 L1435.2,341.75 L1433.2,342.59 L1431.1,343.40 L1429.1,344.19 L1427.1,344.93 L1425.0,345.62 L1423.0,346.25 L1421.0,346.83 L1419.0,347.33 L1416.9,347.76 L1414.9,348.12 L1412.9,348.41 L1410.8,348.62 L1408.8,348.76 L1406.8,348.84 L1404.8,348.86 L1404.7,348.86 L1402.7,348.84 L1400.7,348.77 L1398.7,348.63 L1396.6,348.42 L1394.6,348.14 L1392.6,347.79 L1390.6,347.36 L1388.5,346.86 L1386.5,346.29 L1384.5,345.66 L1382.4,344.97 L1380.4,344.23 L1378.4,343.45 L1376.4,342.63 L1374.3,341.80 L1372.3,340.94 L1370.3,340.08 L1368.2,339.22 L1366.2,338.37 L1364.2,337.53 L1362.2,336.72 L1360.1,335.94 L1358.1,335.20 L1356.1,334.49 L1354.0,333.83 L1352.0,333.21 L1350.0,332.64 L1348.0,332.12 L1345.9,331.64 L1343.9,331.20 L1341.9,330.81 L1339.8,330.46 L1337.8,330.15 L1335.8,329.88 L1333.8,329.64 L1331.7,329.42 L1329.7,329.24 L1327.7,329.08 L1325.7,328.94 L1323.6,328.82 L1321.6,328.72 L1319.6,328.63 L1317.5,328.55 L1315.5,328.48 L1313.5,328.42 L1311.5,328.37 L1309.4,328.32 L1307.4,328.28 L1305.4,328.24 L1303.3,328.20 L1301.3,328.17 L1299.3,328.14 L1297.3,328.11 L1295.2,328.09 L1293.2,328.06 L1291.2,328.04 L1289.1,328.02 L1287.1,328.00 L1285.1,327.97 L1283.1,327.95 L1281.0,327.94 L1279.0,327.92Z" fill="#F8AE93"/><path d="M1306.0,373.89 L1308.3,373.86 L1310.7,373.84 L1313.0,373.81 L1315.4,373.78 L1317.8,373.75 L1320.1,373.71 L1322.5,373.67 L1324.8,373.63 L1327.2,373.59 L1329.5,373.53 L1331.8,373.47 L1334.2,373.41 L1336.5,373.33 L1338.9,373.25 L1341.2,373.15 L1343.6,373.04 L1346.0,372.92 L1348.3,372.77 L1350.7,372.61 L1353.0,372.43 L1355.3,372.22 L1357.7,371.99 L1360.0,371.73 L1362.4,371.44 L1364.8,371.11 L1367.1,370.76 L1369.5,370.36 L1371.8,369.93 L1374.2,369.47 L1376.5,368.96 L1378.8,368.42 L1381.2,367.84 L1383.5,367.23 L1385.9,366.58 L1388.2,365.90 L1390.6,365.19 L1393.0,364.46 L1395.3,363.71 L1397.7,362.94 L1400.0,362.17 L1402.3,361.39 L1404.7,360.62 L1407.0,359.85 L1409.4,359.10 L1411.8,358.37 L1414.1,357.68 L1416.5,357.01 L1418.8,356.39 L1421.2,355.81 L1423.5,355.29 L1425.8,354.81 L1428.2,354.40 L1430.5,354.04 L1432.9,353.75 L1435.2,353.51 L1437.6,353.34 L1440.0,353.22 L1442.3,353.15 L1444.7,353.13 L1445.0,353.13 L1447.0,353.14 L1449.3,353.21 L1451.7,353.34 L1454.0,353.54 L1456.4,353.81 L1458.8,354.16 L1461.1,354.58 L1463.5,355.07 L1465.8,355.64 L1468.2,356.26 L1470.5,356.94 L1472.8,357.68 L1475.2,358.46 L1477.5,359.27 L1479.9,360.10 L1482.2,360.96 L1484.6,361.82 L1487.0,362.68 L1489.3,363.54 L1491.7,364.37 L1494.0,365.19 L1496.3,365.97 L1498.7,366.72 L1501.0,367.43 L1503.4,368.10 L1505.8,368.72 L1508.1,369.30 L1510.5,369.83 L1512.8,370.31 L1515.2,370.75 L1517.5,371.15 L1519.8,371.50 L1522.2,371.81 L1524.5,372.09 L1526.9,372.34 L1529.2,372.55 L1531.6,372.74 L1534.0,372.90 L1536.3,373.04 L1538.7,373.16 L1541.0,373.27 L1543.3,373.36 L1545.7,373.44 L1548.0,373.51 L1550.4,373.57 L1552.8,373.62 L1555.1,373.67 L1557.5,373.71 L1559.8,373.75 L1562.2,373.78 L1564.5,373.82 L1566.8,373.85 L1569.2,373.87 L1571.5,373.90 L1573.9,373.93 L1576.2,373.95 L1578.6,373.97 L1581.0,373.99 L1583.3,374.01 L1585.7,374.03 L1588.0,374.05 L1588.0,374.81 L1585.7,374.83 L1583.3,374.85 L1581.0,374.87 L1578.6,374.89 L1576.2,374.91 L1573.9,374.93 L1571.5,374.96 L1569.2,374.99 L1566.8,375.01 L1564.5,375.04 L1562.2,375.08 L1559.8,375.11 L1557.5,375.15 L1555.1,375.19 L1552.8,375.24 L1550.4,375.29 L1548.0,375.35 L1545.7,375.42 L1543.3,375.50 L1541.0,375.59 L1538.7,375.70 L1536.3,375.82 L1534.0,375.96 L1531.6,376.12 L1529.2,376.31 L1526.9,376.52 L1524.5,376.77 L1522.2,377.05 L1519.8,377.36 L1517.5,377.71 L1515.2,378.11 L1512.8,378.55 L1510.5,379.03 L1508.1,379.56 L1505.8,380.14 L1503.4,380.76 L1501.0,381.43 L1498.7,382.14 L1496.3,382.89 L1494.0,383.67 L1491.7,384.49 L1489.3,385.32 L1487.0,386.18 L1484.6,387.04 L1482.2,387.90 L1479.9,388.76 L1477.5,389.59 L1475.2,390.40 L1472.8,391.18 L1470.5,391.92 L1468.2,392.60 L1465.8,393.22 L1463.5,393.79 L1461.1,394.28 L1458.8,394.70 L1456.4,395.05 L1454.0,395.32 L1451.7,395.52 L1449.3,395.65 L1447.0,395.72 L1445.0,395.73 L1444.7,395.73 L1442.3,395.71 L1440.0,395.64 L1437.6,395.52 L1435.2,395.35 L1432.9,395.11 L1430.5,394.82 L1428.2,394.46 L1425.8,394.05 L1423.5,393.57 L1421.2,393.05 L1418.8,392.47 L1416.5,391.85 L1414.1,391.18 L1411.8,390.49 L1409.4,389.76 L1407.0,389.01 L1404.7,388.24 L1402.3,387.47 L1400.0,386.69 L1397.7,385.92 L1395.3,385.15 L1393.0,384.40 L1390.6,383.67 L1388.2,382.96 L1385.9,382.28 L1383.5,381.63 L1381.2,381.02 L1378.8,380.44 L1376.5,379.90 L1374.2,379.39 L1371.8,378.93 L1369.5,378.50 L1367.1,378.10 L1364.8,377.75 L1362.4,377.42 L1360.0,377.13 L1357.7,376.87 L1355.3,376.64 L1353.0,376.43 L1350.7,376.25 L1348.3,376.09 L1346.0,375.94 L1343.6,375.82 L1341.2,375.71 L1338.9,375.61 L1336.5,375.53 L1334.2,375.45 L1331.8,375.39 L1329.5,375.33 L1327.2,375.27 L1324.8,375.23 L1322.5,375.19 L1320.1,375.15 L1317.8,375.11 L1315.4,375.08 L1313.0,375.05 L1310.7,375.02 L1308.3,375.00 L1306.0,374.97Z" fill="#F8AE93"/><path d="M1312.0,420.84 L1313.7,420.82 L1315.4,420.80 L1317.1,420.77 L1318.8,420.75 L1320.5,420.73 L1322.2,420.70 L1323.9,420.67 L1325.6,420.64 L1327.3,420.61 L1329.0,420.58 L1330.8,420.54 L1332.5,420.50 L1334.2,420.45 L1335.9,420.40 L1337.6,420.34 L1339.3,420.27 L1341.0,420.20 L1342.7,420.11 L1344.4,420.01 L1346.1,419.90 L1347.8,419.78 L1349.5,419.63 L1351.2,419.47 L1352.9,419.29 L1354.6,419.08 L1356.3,418.85 L1358.0,418.59 L1359.7,418.30 L1361.4,417.98 L1363.2,417.62 L1364.9,417.23 L1366.6,416.80 L1368.3,416.34 L1370.0,415.84 L1371.7,415.30 L1373.4,414.72 L1375.1,414.11 L1376.8,413.47 L1378.5,412.80 L1380.2,412.09 L1381.9,411.37 L1383.6,410.62 L1385.3,409.86 L1387.0,409.09 L1388.7,408.32 L1390.4,407.55 L1392.1,406.79 L1393.8,406.04 L1395.5,405.32 L1397.2,404.62 L1399.0,403.96 L1400.7,403.33 L1402.4,402.75 L1404.1,402.22 L1405.8,401.75 L1407.5,401.33 L1409.2,400.96 L1410.9,400.66 L1412.6,400.42 L1414.3,400.23 L1416.0,400.11 L1417.7,400.03 L1419.4,400.00 L1420.0,400.00 L1421.1,400.01 L1422.8,400.05 L1424.5,400.15 L1426.2,400.30 L1427.9,400.51 L1429.6,400.78 L1431.3,401.11 L1433.1,401.51 L1434.8,401.96 L1436.5,402.47 L1438.2,403.04 L1439.9,403.65 L1441.6,404.31 L1443.3,405.00 L1445.0,405.72 L1446.7,406.48 L1448.4,407.24 L1450.1,408.03 L1451.8,408.81 L1453.5,409.60 L1455.2,410.37 L1456.9,411.14 L1458.6,411.88 L1460.3,412.60 L1462.0,413.30 L1463.7,413.96 L1465.4,414.59 L1467.2,415.18 L1468.9,415.74 L1470.6,416.25 L1472.3,416.73 L1474.0,417.17 L1475.7,417.57 L1477.4,417.94 L1479.1,418.27 L1480.8,418.57 L1482.5,418.83 L1484.2,419.07 L1485.9,419.28 L1487.6,419.47 L1489.3,419.64 L1491.0,419.78 L1492.7,419.91 L1494.4,420.02 L1496.1,420.12 L1497.8,420.20 L1499.5,420.28 L1501.3,420.35 L1503.0,420.41 L1504.7,420.46 L1506.4,420.50 L1508.1,420.55 L1509.8,420.58 L1511.5,420.62 L1513.2,420.65 L1514.9,420.68 L1516.6,420.71 L1516.6,421.89 L1514.9,421.92 L1513.2,421.95 L1511.5,421.98 L1509.8,422.02 L1508.1,422.05 L1506.4,422.10 L1504.7,422.14 L1503.0,422.19 L1501.3,422.25 L1499.5,422.32 L1497.8,422.40 L1496.1,422.48 L1494.4,422.58 L1492.7,422.69 L1491.0,422.82 L1489.3,422.96 L1487.6,423.13 L1485.9,423.32 L1484.2,423.53 L1482.5,423.77 L1480.8,424.03 L1479.1,424.33 L1477.4,424.66 L1475.7,425.03 L1474.0,425.43 L1472.3,425.87 L1470.6,426.35 L1468.9,426.86 L1467.2,427.42 L1465.4,428.01 L1463.7,428.64 L1462.0,429.30 L1460.3,430.00 L1458.6,430.72 L1456.9,431.46 L1455.2,432.23 L1453.5,433.00 L1451.8,433.79 L1450.1,434.57 L1448.4,435.36 L1446.7,436.12 L1445.0,436.88 L1443.3,437.60 L1441.6,438.29 L1439.9,438.95 L1438.2,439.56 L1436.5,440.13 L1434.8,440.64 L1433.1,441.09 L1431.3,441.49 L1429.6,441.82 L1427.9,442.09 L1426.2,442.30 L1424.5,442.45 L1422.8,442.55 L1421.1,442.59 L1420.0,442.60 L1419.4,442.60 L1417.7,442.57 L1416.0,442.49 L1414.3,442.37 L1412.6,442.18 L1410.9,441.94 L1409.2,441.64 L1407.5,441.27 L1405.8,440.85 L1404.1,440.38 L1402.4,439.85 L1400.7,439.27 L1399.0,438.64 L1397.2,437.98 L1395.5,437.28 L1393.8,436.56 L1392.1,435.81 L1390.4,435.05 L1388.7,434.28 L1387.0,433.51 L1385.3,432.74 L1383.6,431.98 L1381.9,431.23 L1380.2,430.51 L1378.5,429.80 L1376.8,429.13 L1375.1,428.49 L1373.4,427.88 L1371.7,427.30 L1370.0,426.76 L1368.3,426.26 L1366.6,425.80 L1364.9,425.37 L1363.2,424.98 L1361.4,424.62 L1359.7,424.30 L1358.0,424.01 L1356.3,423.75 L1354.6,423.52 L1352.9,423.31 L1351.2,423.13 L1349.5,422.97 L1347.8,422.82 L1346.1,422.70 L1344.4,422.59 L1342.7,422.49 L1341.0,422.40 L1339.3,422.33 L1337.6,422.26 L1335.9,422.20 L1334.2,422.15 L1332.5,422.10 L1330.8,422.06 L1329.0,422.02 L1327.3,421.99 L1325.6,421.96 L1323.9,421.93 L1322.2,421.90 L1320.5,421.87 L1318.8,421.85 L1317.1,421.83 L1315.4,421.80 L1313.7,421.78 L1312.0,421.76Z" fill="#B5E3E0"/><path d="M1225.0,467.59 L1226.6,467.57 L1228.3,467.54 L1229.9,467.51 L1231.6,467.48 L1233.2,467.45 L1234.8,467.41 L1236.5,467.38 L1238.1,467.33 L1239.8,467.28 L1241.4,467.23 L1243.1,467.17 L1244.7,467.10 L1246.3,467.03 L1248.0,466.94 L1249.6,466.84 L1251.3,466.73 L1252.9,466.61 L1254.5,466.47 L1256.2,466.31 L1257.8,466.13 L1259.5,465.93 L1261.1,465.71 L1262.8,465.46 L1264.4,465.19 L1266.0,464.89 L1267.7,464.55 L1269.3,464.19 L1271.0,463.79 L1272.6,463.36 L1274.2,462.90 L1275.9,462.40 L1277.5,461.87 L1279.2,461.31 L1280.8,460.71 L1282.5,460.09 L1284.1,459.44 L1285.7,458.76 L1287.4,458.07 L1289.0,457.36 L1290.7,456.63 L1292.3,455.90 L1294.0,455.17 L1295.6,454.44 L1297.2,453.71 L1298.9,453.00 L1300.5,452.31 L1302.2,451.64 L1303.8,451.00 L1305.4,450.40 L1307.1,449.83 L1308.7,449.31 L1310.4,448.84 L1312.0,448.41 L1313.7,448.03 L1315.3,447.71 L1316.9,447.44 L1318.6,447.23 L1320.2,447.07 L1321.9,446.96 L1323.5,446.89 L1325.1,446.87 L1325.6,446.87 L1326.8,446.88 L1328.4,446.94 L1330.1,447.06 L1331.7,447.25 L1333.3,447.51 L1335.0,447.85 L1336.6,448.26 L1338.3,448.74 L1339.9,449.29 L1341.6,449.91 L1343.2,450.59 L1344.8,451.31 L1346.5,452.08 L1348.1,452.89 L1349.8,453.72 L1351.4,454.58 L1353.0,455.44 L1354.7,456.30 L1356.3,457.15 L1358.0,457.99 L1359.6,458.81 L1361.3,459.60 L1362.9,460.35 L1364.5,461.07 L1366.2,461.74 L1367.8,462.37 L1369.5,462.95 L1371.1,463.49 L1372.8,463.98 L1374.4,464.42 L1376.0,464.83 L1377.7,465.19 L1379.3,465.51 L1381.0,465.79 L1382.6,466.04 L1384.2,466.26 L1385.9,466.45 L1387.5,466.61 L1389.2,466.76 L1390.8,466.88 L1392.5,466.99 L1394.1,467.08 L1395.7,467.16 L1397.4,467.24 L1399.0,467.30 L1400.7,467.35 L1402.3,467.40 L1403.9,467.44 L1405.6,467.48 L1407.2,467.52 L1408.9,467.55 L1410.5,467.58 L1412.2,467.61 L1413.8,467.64 L1415.4,467.66 L1417.1,467.68 L1418.7,467.71 L1420.4,467.73 L1422.0,467.75 L1422.0,468.59 L1420.4,468.61 L1418.7,468.63 L1417.1,468.66 L1415.4,468.68 L1413.8,468.70 L1412.2,468.73 L1410.5,468.76 L1408.9,468.79 L1407.2,468.82 L1405.6,468.86 L1403.9,468.90 L1402.3,468.94 L1400.7,468.99 L1399.0,469.04 L1397.4,469.10 L1395.7,469.18 L1394.1,469.26 L1392.5,469.35 L1390.8,469.46 L1389.2,469.58 L1387.5,469.73 L1385.9,469.89 L1384.2,470.08 L1382.6,470.30 L1381.0,470.55 L1379.3,470.83 L1377.7,471.15 L1376.0,471.51 L1374.4,471.92 L1372.8,472.36 L1371.1,472.85 L1369.5,473.39 L1367.8,473.97 L1366.2,474.60 L1364.5,475.27 L1362.9,475.99 L1361.3,476.74 L1359.6,477.53 L1358.0,478.35 L1356.3,479.19 L1354.7,480.04 L1353.0,480.90 L1351.4,481.76 L1349.8,482.62 L1348.1,483.45 L1346.5,484.26 L1344.8,485.03 L1343.2,485.75 L1341.6,486.43 L1339.9,487.05 L1338.3,487.60 L1336.6,488.08 L1335.0,488.49 L1333.3,488.83 L1331.7,489.09 L1330.1,489.28 L1328.4,489.40 L1326.8,489.46 L1325.6,489.47 L1325.1,489.47 L1323.5,489.45 L1321.9,489.38 L1320.2,489.27 L1318.6,489.11 L1316.9,488.90 L1315.3,488.63 L1313.7,488.31 L1312.0,487.93 L1310.4,487.50 L1308.7,487.03 L1307.1,486.51 L1305.4,485.94 L1303.8,485.34 L1302.2,484.70 L1300.5,484.03 L1298.9,483.34 L1297.2,482.63 L1295.6,481.90 L1294.0,481.17 L1292.3,480.44 L1290.7,479.71 L1289.0,478.98 L1287.4,478.27 L1285.7,477.58 L1284.1,476.90 L1282.5,476.25 L1280.8,475.63 L1279.2,475.03 L1277.5,474.47 L1275.9,473.94 L1274.2,473.44 L1272.6,472.98 L1271.0,472.55 L1269.3,472.15 L1267.7,471.79 L1266.0,471.45 L1264.4,471.15 L1262.8,470.88 L1261.1,470.63 L1259.5,470.41 L1257.8,470.21 L1256.2,470.03 L1254.5,469.87 L1252.9,469.73 L1251.3,469.61 L1249.6,469.50 L1248.0,469.40 L1246.3,469.31 L1244.7,469.24 L1243.1,469.17 L1241.4,469.11 L1239.8,469.06 L1238.1,469.01 L1236.5,468.96 L1234.8,468.93 L1233.2,468.89 L1231.6,468.86 L1229.9,468.83 L1228.3,468.80 L1226.6,468.77 L1225.0,468.75Z" fill="#B5E3E0"/><path d="M1325.6,514.30 L1328.5,514.27 L1331.5,514.24 L1334.4,514.20 L1337.3,514.15 L1340.2,514.10 L1343.2,514.05 L1346.1,513.99 L1349.0,513.93 L1351.9,513.86 L1354.9,513.78 L1357.8,513.69 L1360.7,513.58 L1363.6,513.47 L1366.6,513.35 L1369.5,513.21 L1372.4,513.05 L1375.4,512.88 L1378.3,512.70 L1381.2,512.49 L1384.1,512.26 L1387.1,512.01 L1390.0,511.74 L1392.9,511.44 L1395.8,511.12 L1398.8,510.77 L1401.7,510.40 L1404.6,510.00 L1407.5,509.57 L1410.5,509.12 L1413.4,508.64 L1416.3,508.13 L1419.3,507.60 L1422.2,507.05 L1425.1,506.47 L1428.0,505.88 L1431.0,505.27 L1433.9,504.64 L1436.8,504.00 L1439.7,503.36 L1442.7,502.70 L1445.6,502.05 L1448.5,501.40 L1451.4,500.75 L1454.4,500.11 L1457.3,499.49 L1460.2,498.88 L1463.2,498.30 L1466.1,497.74 L1469.0,497.21 L1471.9,496.70 L1474.9,496.24 L1477.8,495.81 L1480.7,495.41 L1483.6,495.06 L1486.6,494.75 L1489.5,494.48 L1492.4,494.26 L1495.3,494.08 L1498.3,493.94 L1501.2,493.84 L1504.1,493.77 L1507.1,493.74 L1509.0,493.74 L1510.0,493.74 L1512.9,493.77 L1515.8,493.85 L1518.8,493.97 L1521.7,494.16 L1524.6,494.40 L1527.5,494.71 L1530.5,495.07 L1533.4,495.49 L1536.3,495.97 L1539.2,496.51 L1542.2,497.09 L1545.1,497.71 L1548.0,498.38 L1551.0,499.08 L1553.9,499.81 L1556.8,500.56 L1559.7,501.32 L1562.7,502.09 L1565.6,502.87 L1568.5,503.64 L1571.4,504.40 L1574.4,505.15 L1577.3,505.87 L1580.2,506.58 L1583.1,507.25 L1586.1,507.89 L1589.0,508.50 L1591.9,509.08 L1594.9,509.61 L1597.8,510.11 L1600.7,510.58 L1603.6,511.00 L1606.6,511.39 L1609.5,511.74 L1612.4,512.06 L1615.3,512.35 L1618.3,512.61 L1621.2,512.84 L1624.1,513.05 L1627.0,513.23 L1630.0,513.39 L1632.9,513.53 L1635.8,513.66 L1638.8,513.76 L1641.7,513.86 L1644.6,513.95 L1647.5,514.02 L1650.5,514.09 L1653.4,514.14 L1656.3,514.20 L1659.2,514.24 L1662.2,514.28 L1665.1,514.32 L1668.0,514.36 L1670.9,514.39 L1673.9,514.42 L1676.8,514.44 L1676.8,515.64 L1673.9,515.66 L1670.9,515.69 L1668.0,515.72 L1665.1,515.76 L1662.2,515.80 L1659.2,515.84 L1656.3,515.88 L1653.4,515.94 L1650.5,515.99 L1647.5,516.06 L1644.6,516.13 L1641.7,516.22 L1638.8,516.32 L1635.8,516.42 L1632.9,516.55 L1630.0,516.69 L1627.0,516.85 L1624.1,517.03 L1621.2,517.24 L1618.3,517.47 L1615.3,517.73 L1612.4,518.02 L1609.5,518.34 L1606.6,518.69 L1603.6,519.08 L1600.7,519.50 L1597.8,519.97 L1594.9,520.47 L1591.9,521.00 L1589.0,521.58 L1586.1,522.19 L1583.1,522.83 L1580.2,523.50 L1577.3,524.21 L1574.4,524.93 L1571.4,525.68 L1568.5,526.44 L1565.6,527.21 L1562.7,527.99 L1559.7,528.76 L1556.8,529.52 L1553.9,530.27 L1551.0,531.00 L1548.0,531.70 L1545.1,532.37 L1542.2,532.99 L1539.2,533.57 L1536.3,534.11 L1533.4,534.59 L1530.5,535.01 L1527.5,535.37 L1524.6,535.68 L1521.7,535.92 L1518.8,536.11 L1515.8,536.23 L1512.9,536.31 L1510.0,536.34 L1509.0,536.34 L1507.1,536.34 L1504.1,536.31 L1501.2,536.24 L1498.3,536.14 L1495.3,536.00 L1492.4,535.82 L1489.5,535.60 L1486.6,535.33 L1483.6,535.02 L1480.7,534.67 L1477.8,534.27 L1474.9,533.84 L1471.9,533.38 L1469.0,532.87 L1466.1,532.34 L1463.2,531.78 L1460.2,531.20 L1457.3,530.59 L1454.4,529.97 L1451.4,529.33 L1448.5,528.68 L1445.6,528.03 L1442.7,527.38 L1439.7,526.72 L1436.8,526.08 L1433.9,525.44 L1431.0,524.81 L1428.0,524.20 L1425.1,523.61 L1422.2,523.03 L1419.3,522.48 L1416.3,521.95 L1413.4,521.44 L1410.5,520.96 L1407.5,520.51 L1404.6,520.08 L1401.7,519.68 L1398.8,519.31 L1395.8,518.96 L1392.9,518.64 L1390.0,518.34 L1387.1,518.07 L1384.1,517.82 L1381.2,517.59 L1378.3,517.38 L1375.4,517.20 L1372.4,517.03 L1369.5,516.87 L1366.6,516.73 L1363.6,516.61 L1360.7,516.50 L1357.8,516.39 L1354.9,516.30 L1351.9,516.22 L1349.0,516.15 L1346.1,516.09 L1343.2,516.03 L1340.2,515.98 L1337.3,515.93 L1334.4,515.88 L1331.5,515.84 L1328.5,515.81 L1325.6,515.78Z" fill="#E4ED96"/><path d="M1350.7,561.24 L1352.9,561.21 L1355.1,561.18 L1357.3,561.14 L1359.5,561.11 L1361.7,561.07 L1363.9,561.02 L1366.1,560.97 L1368.3,560.92 L1370.5,560.86 L1372.7,560.79 L1374.9,560.72 L1377.1,560.63 L1379.3,560.54 L1381.5,560.43 L1383.7,560.31 L1385.9,560.18 L1388.1,560.03 L1390.3,559.87 L1392.5,559.69 L1394.8,559.49 L1397.0,559.27 L1399.2,559.02 L1401.4,558.76 L1403.6,558.46 L1405.8,558.14 L1408.0,557.80 L1410.2,557.43 L1412.4,557.03 L1414.6,556.60 L1416.8,556.14 L1419.0,555.66 L1421.2,555.15 L1423.4,554.61 L1425.6,554.04 L1427.8,553.46 L1430.0,552.85 L1432.2,552.22 L1434.4,551.58 L1436.6,550.93 L1438.8,550.26 L1441.0,549.59 L1443.2,548.92 L1445.4,548.25 L1447.6,547.58 L1449.8,546.93 L1452.0,546.29 L1454.2,545.67 L1456.4,545.07 L1458.6,544.50 L1460.8,543.96 L1463.0,543.45 L1465.2,542.98 L1467.4,542.55 L1469.6,542.16 L1471.8,541.81 L1474.0,541.51 L1476.2,541.25 L1478.4,541.04 L1480.6,540.87 L1482.8,540.75 L1485.1,540.67 L1487.3,540.62 L1489.5,540.61 L1489.6,540.61 L1491.7,540.62 L1493.9,540.67 L1496.1,540.77 L1498.3,540.93 L1500.5,541.13 L1502.7,541.39 L1504.9,541.71 L1507.1,542.09 L1509.3,542.51 L1511.5,543.00 L1513.7,543.53 L1515.9,544.10 L1518.1,544.72 L1520.3,545.37 L1522.5,546.05 L1524.7,546.76 L1526.9,547.49 L1529.1,548.23 L1531.3,548.98 L1533.5,549.73 L1535.7,550.48 L1537.9,551.22 L1540.1,551.94 L1542.3,552.65 L1544.5,553.34 L1546.7,553.99 L1548.9,554.62 L1551.1,555.22 L1553.3,555.79 L1555.5,556.32 L1557.7,556.82 L1559.9,557.28 L1562.1,557.70 L1564.3,558.10 L1566.5,558.45 L1568.7,558.78 L1571.0,559.07 L1573.2,559.34 L1575.4,559.58 L1577.6,559.79 L1579.8,559.98 L1582.0,560.15 L1584.2,560.30 L1586.4,560.43 L1588.6,560.55 L1590.8,560.65 L1593.0,560.75 L1595.2,560.83 L1597.4,560.90 L1599.6,560.96 L1601.8,561.02 L1604.0,561.07 L1606.2,561.11 L1608.4,561.15 L1610.6,561.19 L1612.8,561.22 L1615.0,561.25 L1615.0,562.57 L1612.8,562.60 L1610.6,562.63 L1608.4,562.67 L1606.2,562.71 L1604.0,562.75 L1601.8,562.80 L1599.6,562.86 L1597.4,562.92 L1595.2,562.99 L1593.0,563.07 L1590.8,563.17 L1588.6,563.27 L1586.4,563.39 L1584.2,563.52 L1582.0,563.67 L1579.8,563.84 L1577.6,564.03 L1575.4,564.24 L1573.2,564.48 L1571.0,564.75 L1568.7,565.04 L1566.5,565.37 L1564.3,565.72 L1562.1,566.12 L1559.9,566.54 L1557.7,567.00 L1555.5,567.50 L1553.3,568.03 L1551.1,568.60 L1548.9,569.20 L1546.7,569.83 L1544.5,570.48 L1542.3,571.17 L1540.1,571.88 L1537.9,572.60 L1535.7,573.34 L1533.5,574.09 L1531.3,574.84 L1529.1,575.59 L1526.9,576.33 L1524.7,577.06 L1522.5,577.77 L1520.3,578.45 L1518.1,579.10 L1515.9,579.72 L1513.7,580.29 L1511.5,580.82 L1509.3,581.31 L1507.1,581.73 L1504.9,582.11 L1502.7,582.43 L1500.5,582.69 L1498.3,582.89 L1496.1,583.05 L1493.9,583.15 L1491.7,583.20 L1489.6,583.21 L1489.5,583.21 L1487.3,583.20 L1485.1,583.15 L1482.8,583.07 L1480.6,582.95 L1478.4,582.78 L1476.2,582.57 L1474.0,582.31 L1471.8,582.01 L1469.6,581.66 L1467.4,581.27 L1465.2,580.84 L1463.0,580.37 L1460.8,579.86 L1458.6,579.32 L1456.4,578.75 L1454.2,578.15 L1452.0,577.53 L1449.8,576.89 L1447.6,576.24 L1445.4,575.57 L1443.2,574.90 L1441.0,574.23 L1438.8,573.56 L1436.6,572.89 L1434.4,572.24 L1432.2,571.60 L1430.0,570.97 L1427.8,570.36 L1425.6,569.78 L1423.4,569.21 L1421.2,568.67 L1419.0,568.16 L1416.8,567.68 L1414.6,567.22 L1412.4,566.79 L1410.2,566.39 L1408.0,566.02 L1405.8,565.68 L1403.6,565.36 L1401.4,565.06 L1399.2,564.80 L1397.0,564.55 L1394.8,564.33 L1392.5,564.13 L1390.3,563.95 L1388.1,563.79 L1385.9,563.64 L1383.7,563.51 L1381.5,563.39 L1379.3,563.28 L1377.1,563.19 L1374.9,563.10 L1372.7,563.03 L1370.5,562.96 L1368.3,562.90 L1366.1,562.85 L1363.9,562.80 L1361.7,562.75 L1359.5,562.71 L1357.3,562.68 L1355.1,562.64 L1352.9,562.61 L1350.7,562.58Z" fill="#E4ED96"/><path d="M1246.5,608.10 L1249.2,608.06 L1251.9,608.03 L1254.6,607.99 L1257.3,607.95 L1260.0,607.90 L1262.7,607.85 L1265.4,607.79 L1268.1,607.73 L1270.8,607.65 L1273.5,607.57 L1276.2,607.47 L1278.9,607.37 L1281.6,607.25 L1284.3,607.11 L1287.0,606.96 L1289.7,606.79 L1292.4,606.60 L1295.1,606.38 L1297.8,606.14 L1300.5,605.88 L1303.2,605.58 L1305.9,605.26 L1308.6,604.91 L1311.3,604.53 L1314.0,604.11 L1316.7,603.66 L1319.4,603.18 L1322.1,602.66 L1324.8,602.11 L1327.5,601.54 L1330.3,600.93 L1333.0,600.29 L1335.7,599.63 L1338.4,598.95 L1341.1,598.25 L1343.8,597.54 L1346.5,596.81 L1349.2,596.08 L1351.9,595.36 L1354.6,594.63 L1357.3,593.92 L1360.0,593.23 L1362.7,592.55 L1365.4,591.91 L1368.1,591.29 L1370.8,590.71 L1373.5,590.17 L1376.2,589.68 L1378.9,589.23 L1381.6,588.83 L1384.3,588.48 L1387.0,588.19 L1389.7,587.95 L1392.4,587.76 L1395.1,587.62 L1397.8,587.53 L1400.5,587.49 L1402.8,587.48 L1403.2,587.48 L1405.9,587.50 L1408.6,587.55 L1411.3,587.64 L1414.0,587.78 L1416.7,587.96 L1419.4,588.19 L1422.1,588.47 L1424.8,588.79 L1427.5,589.17 L1430.2,589.59 L1432.9,590.05 L1435.6,590.55 L1438.3,591.09 L1441.0,591.66 L1443.7,592.27 L1446.4,592.90 L1449.1,593.55 L1451.8,594.22 L1454.5,594.90 L1457.2,595.59 L1459.9,596.29 L1462.6,596.98 L1465.3,597.67 L1468.0,598.34 L1470.7,599.01 L1473.4,599.66 L1476.1,600.29 L1478.8,600.89 L1481.5,601.47 L1484.2,602.03 L1486.9,602.55 L1489.7,603.05 L1492.4,603.52 L1495.1,603.96 L1497.8,604.37 L1500.5,604.74 L1503.2,605.09 L1505.9,605.42 L1508.6,605.71 L1511.3,605.98 L1514.0,606.22 L1516.7,606.44 L1519.4,606.64 L1522.1,606.82 L1524.8,606.98 L1527.5,607.12 L1530.2,607.25 L1532.9,607.37 L1535.6,607.47 L1538.3,607.56 L1541.0,607.64 L1543.7,607.71 L1546.4,607.77 L1549.1,607.83 L1551.8,607.88 L1554.5,607.93 L1557.2,607.97 L1559.9,608.01 L1562.6,608.05 L1565.3,608.08 L1568.0,608.11 L1570.7,608.14 L1570.7,609.42 L1568.0,609.45 L1565.3,609.48 L1562.6,609.51 L1559.9,609.55 L1557.2,609.59 L1554.5,609.63 L1551.8,609.68 L1549.1,609.73 L1546.4,609.79 L1543.7,609.85 L1541.0,609.92 L1538.3,610.00 L1535.6,610.09 L1532.9,610.19 L1530.2,610.31 L1527.5,610.44 L1524.8,610.58 L1522.1,610.74 L1519.4,610.92 L1516.7,611.12 L1514.0,611.34 L1511.3,611.58 L1508.6,611.85 L1505.9,612.14 L1503.2,612.47 L1500.5,612.82 L1497.8,613.19 L1495.1,613.60 L1492.4,614.04 L1489.7,614.51 L1486.9,615.01 L1484.2,615.53 L1481.5,616.09 L1478.8,616.67 L1476.1,617.27 L1473.4,617.90 L1470.7,618.55 L1468.0,619.22 L1465.3,619.89 L1462.6,620.58 L1459.9,621.27 L1457.2,621.97 L1454.5,622.66 L1451.8,623.34 L1449.1,624.01 L1446.4,624.66 L1443.7,625.29 L1441.0,625.90 L1438.3,626.47 L1435.6,627.01 L1432.9,627.51 L1430.2,627.97 L1427.5,628.39 L1424.8,628.77 L1422.1,629.09 L1419.4,629.37 L1416.7,629.60 L1414.0,629.78 L1411.3,629.92 L1408.6,630.01 L1405.9,630.06 L1403.2,630.08 L1402.8,630.08 L1400.5,630.07 L1397.8,630.03 L1395.1,629.94 L1392.4,629.80 L1389.7,629.61 L1387.0,629.37 L1384.3,629.08 L1381.6,628.73 L1378.9,628.33 L1376.2,627.88 L1373.5,627.39 L1370.8,626.85 L1368.1,626.27 L1365.4,625.65 L1362.7,625.01 L1360.0,624.33 L1357.3,623.64 L1354.6,622.93 L1351.9,622.20 L1349.2,621.48 L1346.5,620.75 L1343.8,620.02 L1341.1,619.31 L1338.4,618.61 L1335.7,617.93 L1333.0,617.27 L1330.3,616.63 L1327.5,616.02 L1324.8,615.45 L1322.1,614.90 L1319.4,614.38 L1316.7,613.90 L1314.0,613.45 L1311.3,613.03 L1308.6,612.65 L1305.9,612.30 L1303.2,611.98 L1300.5,611.68 L1297.8,611.42 L1295.1,611.18 L1292.4,610.96 L1289.7,610.77 L1287.0,610.60 L1284.3,610.45 L1281.6,610.31 L1278.9,610.19 L1276.2,610.09 L1273.5,609.99 L1270.8,609.91 L1268.1,609.83 L1265.4,609.77 L1262.7,609.71 L1260.0,609.66 L1257.3,609.61 L1254.6,609.57 L1251.9,609.53 L1249.2,609.50 L1246.5,609.46Z" fill="#E4ED96"/><path d="M1225.0,655.03 L1226.9,655.00 L1228.8,654.98 L1230.7,654.95 L1232.5,654.92 L1234.4,654.88 L1236.3,654.85 L1238.2,654.80 L1240.1,654.76 L1242.0,654.71 L1243.8,654.65 L1245.7,654.59 L1247.6,654.52 L1249.5,654.45 L1251.4,654.36 L1253.2,654.27 L1255.1,654.16 L1257.0,654.04 L1258.9,653.90 L1260.8,653.75 L1262.7,653.59 L1264.5,653.40 L1266.4,653.19 L1268.3,652.97 L1270.2,652.72 L1272.1,652.45 L1274.0,652.15 L1275.8,651.82 L1277.7,651.47 L1279.6,651.09 L1281.5,650.68 L1283.4,650.25 L1285.3,649.78 L1287.2,649.29 L1289.0,648.77 L1290.9,648.22 L1292.8,647.65 L1294.7,647.05 L1296.6,646.44 L1298.5,645.80 L1300.3,645.15 L1302.2,644.49 L1304.1,643.82 L1306.0,643.15 L1307.9,642.47 L1309.8,641.80 L1311.6,641.13 L1313.5,640.48 L1315.4,639.84 L1317.3,639.22 L1319.2,638.63 L1321.0,638.06 L1322.9,637.53 L1324.8,637.03 L1326.7,636.57 L1328.6,636.15 L1330.5,635.77 L1332.3,635.44 L1334.2,635.15 L1336.1,634.91 L1338.0,634.72 L1339.9,634.56 L1341.8,634.45 L1343.7,634.39 L1345.5,634.35 L1346.8,634.35 L1347.4,634.35 L1349.3,634.38 L1351.2,634.44 L1353.1,634.55 L1355.0,634.71 L1356.8,634.92 L1358.7,635.18 L1360.6,635.50 L1362.5,635.87 L1364.4,636.28 L1366.2,636.75 L1368.1,637.26 L1370.0,637.81 L1371.9,638.41 L1373.8,639.03 L1375.7,639.69 L1377.5,640.37 L1379.4,641.07 L1381.3,641.78 L1383.2,642.50 L1385.1,643.23 L1387.0,643.95 L1388.8,644.67 L1390.7,645.37 L1392.6,646.06 L1394.5,646.73 L1396.4,647.38 L1398.3,648.01 L1400.2,648.60 L1402.0,649.17 L1403.9,649.70 L1405.8,650.20 L1407.7,650.67 L1409.6,651.11 L1411.5,651.52 L1413.3,651.89 L1415.2,652.23 L1417.1,652.54 L1419.0,652.82 L1420.9,653.08 L1422.8,653.31 L1424.6,653.52 L1426.5,653.70 L1428.4,653.87 L1430.3,654.02 L1432.2,654.15 L1434.0,654.26 L1435.9,654.37 L1437.8,654.46 L1439.7,654.54 L1441.6,654.61 L1443.5,654.67 L1445.3,654.73 L1447.2,654.78 L1449.1,654.83 L1451.0,654.87 L1451.0,656.43 L1449.1,656.47 L1447.2,656.52 L1445.3,656.57 L1443.5,656.63 L1441.6,656.69 L1439.7,656.76 L1437.8,656.84 L1435.9,656.93 L1434.0,657.04 L1432.2,657.15 L1430.3,657.28 L1428.4,657.43 L1426.5,657.60 L1424.6,657.78 L1422.8,657.99 L1420.9,658.22 L1419.0,658.48 L1417.1,658.76 L1415.2,659.07 L1413.3,659.41 L1411.5,659.78 L1409.6,660.19 L1407.7,660.63 L1405.8,661.10 L1403.9,661.60 L1402.0,662.13 L1400.2,662.70 L1398.3,663.29 L1396.4,663.92 L1394.5,664.57 L1392.6,665.24 L1390.7,665.93 L1388.8,666.63 L1387.0,667.35 L1385.1,668.07 L1383.2,668.80 L1381.3,669.52 L1379.4,670.23 L1377.5,670.93 L1375.7,671.61 L1373.8,672.27 L1371.9,672.89 L1370.0,673.49 L1368.1,674.04 L1366.2,674.55 L1364.4,675.02 L1362.5,675.43 L1360.6,675.80 L1358.7,676.12 L1356.8,676.38 L1355.0,676.59 L1353.1,676.75 L1351.2,676.86 L1349.3,676.92 L1347.4,676.95 L1346.8,676.95 L1345.5,676.95 L1343.7,676.91 L1341.8,676.85 L1339.9,676.74 L1338.0,676.58 L1336.1,676.39 L1334.2,676.15 L1332.3,675.86 L1330.5,675.53 L1328.6,675.15 L1326.7,674.73 L1324.8,674.27 L1322.9,673.77 L1321.0,673.24 L1319.2,672.67 L1317.3,672.08 L1315.4,671.46 L1313.5,670.82 L1311.6,670.17 L1309.8,669.50 L1307.9,668.83 L1306.0,668.15 L1304.1,667.48 L1302.2,666.81 L1300.3,666.15 L1298.5,665.50 L1296.6,664.86 L1294.7,664.25 L1292.8,663.65 L1290.9,663.08 L1289.0,662.53 L1287.2,662.01 L1285.3,661.52 L1283.4,661.05 L1281.5,660.62 L1279.6,660.21 L1277.7,659.83 L1275.8,659.48 L1274.0,659.15 L1272.1,658.85 L1270.2,658.58 L1268.3,658.33 L1266.4,658.11 L1264.5,657.90 L1262.7,657.71 L1260.8,657.55 L1258.9,657.40 L1257.0,657.26 L1255.1,657.14 L1253.2,657.03 L1251.4,656.94 L1249.5,656.85 L1247.6,656.78 L1245.7,656.71 L1243.8,656.65 L1242.0,656.59 L1240.1,656.54 L1238.2,656.50 L1236.3,656.45 L1234.4,656.42 L1232.5,656.38 L1230.7,656.35 L1228.8,656.32 L1226.9,656.30 L1225.0,656.27Z" fill="#A8A8D0"/><path d="M1152.0,702.06 L1154.9,702.04 L1157.8,702.01 L1160.7,701.99 L1163.6,701.96 L1166.5,701.93 L1169.3,701.90 L1172.2,701.87 L1175.1,701.83 L1178.0,701.79 L1180.9,701.75 L1183.8,701.70 L1186.7,701.65 L1189.6,701.59 L1192.5,701.52 L1195.4,701.44 L1198.3,701.34 L1201.2,701.23 L1204.0,701.11 L1206.9,700.97 L1209.8,700.80 L1212.7,700.61 L1215.6,700.39 L1218.5,700.14 L1221.4,699.86 L1224.3,699.54 L1227.2,699.18 L1230.1,698.78 L1233.0,698.34 L1235.9,697.84 L1238.8,697.31 L1241.6,696.72 L1244.5,696.10 L1247.4,695.42 L1250.3,694.71 L1253.2,693.95 L1256.1,693.16 L1259.0,692.35 L1261.9,691.51 L1264.8,690.65 L1267.7,689.79 L1270.6,688.93 L1273.5,688.08 L1276.3,687.24 L1279.2,686.44 L1282.1,685.66 L1285.0,684.94 L1287.9,684.26 L1290.8,683.64 L1293.7,683.09 L1296.6,682.61 L1299.5,682.20 L1302.4,681.86 L1305.3,681.60 L1308.2,681.41 L1311.0,681.29 L1313.9,681.23 L1316.0,681.22 L1316.8,681.22 L1319.7,681.24 L1322.6,681.29 L1325.5,681.39 L1328.4,681.52 L1331.3,681.71 L1334.2,681.93 L1337.1,682.21 L1340.0,682.52 L1342.8,682.89 L1345.7,683.30 L1348.6,683.75 L1351.5,684.23 L1354.4,684.76 L1357.3,685.32 L1360.2,685.91 L1363.1,686.52 L1366.0,687.16 L1368.9,687.81 L1371.8,688.48 L1374.7,689.15 L1377.5,689.83 L1380.4,690.51 L1383.3,691.18 L1386.2,691.85 L1389.1,692.51 L1392.0,693.15 L1394.9,693.77 L1397.8,694.38 L1400.7,694.96 L1403.6,695.51 L1406.5,696.04 L1409.4,696.54 L1412.2,697.02 L1415.1,697.46 L1418.0,697.88 L1420.9,698.27 L1423.8,698.63 L1426.7,698.96 L1429.6,699.26 L1432.5,699.54 L1435.4,699.80 L1438.3,700.03 L1441.2,700.24 L1444.1,700.43 L1447.0,700.60 L1449.8,700.75 L1452.7,700.89 L1455.6,701.01 L1458.5,701.12 L1461.4,701.22 L1464.3,701.31 L1467.2,701.39 L1470.1,701.46 L1473.0,701.52 L1475.9,701.57 L1478.8,701.62 L1481.7,701.67 L1484.5,701.71 L1487.4,701.75 L1490.3,701.78 L1493.2,701.82 L1496.1,701.85 L1499.0,701.87 L1499.0,703.17 L1496.1,703.19 L1493.2,703.22 L1490.3,703.26 L1487.4,703.29 L1484.5,703.33 L1481.7,703.37 L1478.8,703.42 L1475.9,703.47 L1473.0,703.52 L1470.1,703.58 L1467.2,703.65 L1464.3,703.73 L1461.4,703.82 L1458.5,703.92 L1455.6,704.03 L1452.7,704.15 L1449.8,704.29 L1447.0,704.44 L1444.1,704.61 L1441.2,704.80 L1438.3,705.01 L1435.4,705.24 L1432.5,705.50 L1429.6,705.78 L1426.7,706.08 L1423.8,706.41 L1420.9,706.77 L1418.0,707.16 L1415.1,707.58 L1412.2,708.02 L1409.4,708.50 L1406.5,709.00 L1403.6,709.53 L1400.7,710.08 L1397.8,710.66 L1394.9,711.27 L1392.0,711.89 L1389.1,712.53 L1386.2,713.19 L1383.3,713.86 L1380.4,714.53 L1377.5,715.21 L1374.7,715.89 L1371.8,716.56 L1368.9,717.23 L1366.0,717.88 L1363.1,718.52 L1360.2,719.13 L1357.3,719.72 L1354.4,720.28 L1351.5,720.81 L1348.6,721.29 L1345.7,721.74 L1342.8,722.15 L1340.0,722.52 L1337.1,722.83 L1334.2,723.11 L1331.3,723.33 L1328.4,723.52 L1325.5,723.65 L1322.6,723.75 L1319.7,723.80 L1316.8,723.82 L1316.0,723.82 L1313.9,723.81 L1311.0,723.75 L1308.2,723.63 L1305.3,723.44 L1302.4,723.18 L1299.5,722.84 L1296.6,722.43 L1293.7,721.95 L1290.8,721.40 L1287.9,720.78 L1285.0,720.10 L1282.1,719.38 L1279.2,718.60 L1276.3,717.80 L1273.5,716.96 L1270.6,716.11 L1267.7,715.25 L1264.8,714.39 L1261.9,713.53 L1259.0,712.69 L1256.1,711.88 L1253.2,711.09 L1250.3,710.33 L1247.4,709.62 L1244.5,708.94 L1241.6,708.32 L1238.8,707.73 L1235.9,707.20 L1233.0,706.70 L1230.1,706.26 L1227.2,705.86 L1224.3,705.50 L1221.4,705.18 L1218.5,704.90 L1215.6,704.65 L1212.7,704.43 L1209.8,704.24 L1206.9,704.07 L1204.0,703.93 L1201.2,703.81 L1198.3,703.70 L1195.4,703.60 L1192.5,703.52 L1189.6,703.45 L1186.7,703.39 L1183.8,703.34 L1180.9,703.29 L1178.0,703.25 L1175.1,703.21 L1172.2,703.17 L1169.3,703.14 L1166.5,703.11 L1163.6,703.08 L1160.7,703.05 L1157.8,703.03 L1154.9,703.00 L1152.0,702.98Z" fill="#A8A8D0"/><rect x="1440.6" y="184.90" width="144.4" height="4.1" fill="#000"/><rect x="1487.7" y="182.25" width="50.9" height="9.4" fill="#000"/><circle cx="1514.0" cy="186.95" r="10.2" fill="#000"/><circle cx="1514.0" cy="186.95" r="7.2" fill="#fff"/><rect x="1110.6" y="231.77" width="178.4" height="4.1" fill="#000"/><rect x="1169.3" y="229.12" width="61.7" height="9.4" fill="#000"/><circle cx="1200.2" cy="233.82" r="10.2" fill="#000"/><circle cx="1200.2" cy="233.82" r="7.2" fill="#fff"/><rect x="1323.7" y="278.64" width="130.3" height="4.1" fill="#000"/><rect x="1368.0" y="275.99" width="44.4" height="9.4" fill="#000"/><circle cx="1390.4" cy="280.69" r="10.2" fill="#000"/><circle cx="1390.4" cy="280.69" r="7.2" fill="#fff"/><rect x="1341.8" y="325.51" width="125.8" height="4.1" fill="#000"/><rect x="1381.6" y="322.86" width="44.4" height="9.4" fill="#000"/><circle cx="1404.7" cy="327.56" r="10.2" fill="#000"/><circle cx="1404.7" cy="327.56" r="7.2" fill="#fff"/><rect x="1364.2" y="372.38" width="153.6" height="4.1" fill="#000"/><rect x="1416.3" y="369.73" width="52.9" height="9.4" fill="#000"/><circle cx="1444.0" cy="374.43" r="10.2" fill="#000"/><circle cx="1444.0" cy="374.43" r="7.2" fill="#fff"/><rect x="1361.0" y="419.25" width="117.0" height="4.1" fill="#000"/><rect x="1399.0" y="416.60" width="40.5" height="9.4" fill="#000"/><circle cx="1420.2" cy="421.30" r="10.2" fill="#000"/><circle cx="1420.2" cy="421.30" r="7.2" fill="#fff"/><rect x="1265.8" y="466.12" width="110.7" height="4.1" fill="#000"/><rect x="1302.4" y="463.47" width="35.6" height="9.4" fill="#000"/><circle cx="1320.6" cy="468.17" r="10.2" fill="#000"/><circle cx="1320.6" cy="468.17" r="7.2" fill="#fff"/><rect x="1389.3" y="512.99" width="220.7" height="4.1" fill="#000"/><rect x="1465.7" y="510.34" width="74.1" height="9.4" fill="#000"/><circle cx="1504.0" cy="515.04" r="10.2" fill="#000"/><circle cx="1504.0" cy="515.04" r="7.2" fill="#fff"/><rect x="1402.0" y="559.86" width="166.0" height="4.1" fill="#000"/><rect x="1459.5" y="557.21" width="56.4" height="9.4" fill="#000"/><circle cx="1487.7" cy="561.91" r="10.2" fill="#000"/><circle cx="1487.7" cy="561.91" r="7.2" fill="#fff"/><rect x="1303.6" y="606.73" width="203.4" height="4.1" fill="#000"/><rect x="1368.0" y="604.08" width="70.3" height="9.4" fill="#000"/><circle cx="1403.6" cy="608.78" r="10.2" fill="#000"/><circle cx="1403.6" cy="608.78" r="7.2" fill="#fff"/><rect x="1272.3" y="653.60" width="144.0" height="4.1" fill="#000"/><rect x="1319.8" y="650.95" width="50.2" height="9.4" fill="#000"/><circle cx="1345.7" cy="655.65" r="10.2" fill="#000"/><circle cx="1345.7" cy="655.65" r="7.2" fill="#fff"/><rect x="1226.4" y="700.47" width="203.4" height="4.1" fill="#000"/><rect x="1291.6" y="697.82" width="71.8" height="9.4" fill="#000"/><circle cx="1326.4" cy="702.52" r="10.2" fill="#000"/><circle cx="1326.4" cy="702.52" r="7.2" fill="#fff"/><rect x="1032" y="159.6" width="677" height="570.4" fill="none" stroke="#000" stroke-width="2"/><line x1="1102.6" x2="1102.6" y1="730" y2="738.5" stroke="#000" stroke-width="2"/><text transform="translate(1102.6,773.0) scale(1,1.03)" font-size="29" text-anchor="middle" class="t"><tspan dy="2.6">−</tspan><tspan dy="-2.6">0.50</tspan></text><line x1="1258.4" x2="1258.4" y1="730" y2="738.5" stroke="#000" stroke-width="2"/><text transform="translate(1258.4,773.0) scale(1,1.03)" font-size="29" text-anchor="middle" class="t"><tspan dy="2.6">−</tspan><tspan dy="-2.6">0.25</tspan></text><line x1="1414.1" x2="1414.1" y1="730" y2="738.5" stroke="#000" stroke-width="2"/><text transform="translate(1414.1,773.0) scale(1,1.03)" font-size="29" text-anchor="middle" class="t">0.00</text><line x1="1569.8" x2="1569.8" y1="730" y2="738.5" stroke="#000" stroke-width="2"/><text transform="translate(1569.8,773.0) scale(1,1.03)" font-size="29" text-anchor="middle" class="t">0.25</text><rect x="335" y="829.3" width="679" height="56.6" fill="#000"/><text transform="translate(674.5,865.5) scale(1,1.05)" font-size="29" text-anchor="middle" class="t" style="fill:#fff">Coho</text><line x1="336" x2="1013" y1="912.25" y2="912.25" stroke="#bbbbbb" stroke-width="1"/><line x1="336" x2="1013" y1="959.12" y2="959.12" stroke="#bbbbbb" stroke-width="1"/><line x1="336" x2="1013" y1="1005.99" y2="1005.99" stroke="#bbbbbb" stroke-width="1"/><line x1="336" x2="1013" y1="1052.86" y2="1052.86" stroke="#bbbbbb" stroke-width="1"/><line x1="336" x2="1013" y1="1099.73" y2="1099.73" stroke="#bbbbbb" stroke-width="1"/><line x1="336" x2="1013" y1="1146.60" y2="1146.60" stroke="#bbbbbb" stroke-width="1"/><line x1="336" x2="1013" y1="1193.47" y2="1193.47" stroke="#bbbbbb" stroke-width="1"/><line x1="336" x2="1013" y1="1240.34" y2="1240.34" stroke="#bbbbbb" stroke-width="1"/><line x1="336" x2="1013" y1="1287.21" y2="1287.21" stroke="#bbbbbb" stroke-width="1"/><line x1="336" x2="1013" y1="1334.08" y2="1334.08" stroke="#bbbbbb" stroke-width="1"/><line x1="336" x2="1013" y1="1380.95" y2="1380.95" stroke="#bbbbbb" stroke-width="1"/><line x1="336" x2="1013" y1="1427.82" y2="1427.82" stroke="#bbbbbb" stroke-width="1"/><line x1="588.2" x2="588.2" y1="885.9" y2="1455.3" stroke="#ff0000" stroke-width="4"/><path d="M502.0,911.75 L503.9,911.73 L505.7,911.71 L507.6,911.68 L509.5,911.66 L511.3,911.63 L513.2,911.60 L515.1,911.56 L516.9,911.53 L518.8,911.49 L520.7,911.44 L522.5,911.39 L524.4,911.33 L526.3,911.27 L528.1,911.20 L530.0,911.12 L531.9,911.02 L533.7,910.92 L535.6,910.79 L537.5,910.65 L539.3,910.49 L541.2,910.31 L543.1,910.10 L544.9,909.86 L546.8,909.60 L548.7,909.30 L550.5,908.97 L552.4,908.60 L554.3,908.19 L556.1,907.75 L558.0,907.26 L559.9,906.73 L561.7,906.16 L563.6,905.56 L565.5,904.91 L567.3,904.23 L569.2,903.51 L571.1,902.77 L572.9,902.00 L574.8,901.21 L576.7,900.41 L578.5,899.60 L580.4,898.79 L582.3,897.99 L584.1,897.20 L586.0,896.44 L587.9,895.70 L589.7,895.00 L591.6,894.34 L593.5,893.73 L595.3,893.18 L597.2,892.68 L599.1,892.24 L600.9,891.87 L602.8,891.56 L604.7,891.32 L606.5,891.14 L608.4,891.03 L610.3,890.96 L612.0,890.95 L612.1,890.95 L614.0,890.97 L615.9,891.02 L617.7,891.11 L619.6,891.25 L621.5,891.44 L623.3,891.68 L625.2,891.97 L627.1,892.31 L628.9,892.69 L630.8,893.13 L632.7,893.61 L634.5,894.13 L636.4,894.69 L638.3,895.29 L640.1,895.92 L642.0,896.57 L643.9,897.25 L645.7,897.94 L647.6,898.64 L649.5,899.35 L651.3,900.06 L653.2,900.77 L655.1,901.46 L656.9,902.15 L658.8,902.82 L660.7,903.48 L662.5,904.11 L664.4,904.71 L666.3,905.29 L668.1,905.84 L670.0,906.36 L671.9,906.85 L673.7,907.31 L675.6,907.74 L677.5,908.13 L679.3,908.49 L681.2,908.83 L683.1,909.13 L684.9,909.41 L686.8,909.67 L688.7,909.89 L690.5,910.10 L692.4,910.28 L694.3,910.45 L696.1,910.59 L698.0,910.73 L699.9,910.84 L701.7,910.95 L703.6,911.04 L705.5,911.12 L707.3,911.19 L709.2,911.26 L711.1,911.31 L712.9,911.37 L714.8,911.41 L716.7,911.45 L718.5,911.49 L720.4,911.53 L722.3,911.56 L724.1,911.59 L726.0,911.62 L726.0,912.88 L724.1,912.91 L722.3,912.94 L720.4,912.97 L718.5,913.01 L716.7,913.05 L714.8,913.09 L712.9,913.13 L711.1,913.19 L709.2,913.24 L707.3,913.31 L705.5,913.38 L703.6,913.46 L701.7,913.55 L699.9,913.66 L698.0,913.77 L696.1,913.91 L694.3,914.05 L692.4,914.22 L690.5,914.40 L688.7,914.61 L686.8,914.83 L684.9,915.09 L683.1,915.37 L681.2,915.67 L679.3,916.01 L677.5,916.37 L675.6,916.76 L673.7,917.19 L671.9,917.65 L670.0,918.14 L668.1,918.66 L666.3,919.21 L664.4,919.79 L662.5,920.39 L660.7,921.02 L658.8,921.68 L656.9,922.35 L655.1,923.04 L653.2,923.73 L651.3,924.44 L649.5,925.15 L647.6,925.86 L645.7,926.56 L643.9,927.25 L642.0,927.93 L640.1,928.58 L638.3,929.21 L636.4,929.81 L634.5,930.37 L632.7,930.89 L630.8,931.37 L628.9,931.81 L627.1,932.19 L625.2,932.53 L623.3,932.82 L621.5,933.06 L619.6,933.25 L617.7,933.39 L615.9,933.48 L614.0,933.53 L612.1,933.55 L612.0,933.55 L610.3,933.54 L608.4,933.47 L606.5,933.36 L604.7,933.18 L602.8,932.94 L600.9,932.63 L599.1,932.26 L597.2,931.82 L595.3,931.32 L593.5,930.77 L591.6,930.16 L589.7,929.50 L587.9,928.80 L586.0,928.06 L584.1,927.30 L582.3,926.51 L580.4,925.71 L578.5,924.90 L576.7,924.09 L574.8,923.29 L572.9,922.50 L571.1,921.73 L569.2,920.99 L567.3,920.27 L565.5,919.59 L563.6,918.94 L561.7,918.34 L559.9,917.77 L558.0,917.24 L556.1,916.75 L554.3,916.31 L552.4,915.90 L550.5,915.53 L548.7,915.20 L546.8,914.90 L544.9,914.64 L543.1,914.40 L541.2,914.19 L539.3,914.01 L537.5,913.85 L535.6,913.71 L533.7,913.58 L531.9,913.48 L530.0,913.38 L528.1,913.30 L526.3,913.23 L524.4,913.17 L522.5,913.11 L520.7,913.06 L518.8,913.01 L516.9,912.97 L515.1,912.94 L513.2,912.90 L511.3,912.87 L509.5,912.84 L507.6,912.82 L505.7,912.79 L503.9,912.77 L502.0,912.75Z" fill="#F8AE93"/><path d="M672.0,958.31 L674.2,958.27 L676.5,958.23 L678.8,958.18 L681.0,958.14 L683.2,958.08 L685.5,958.02 L687.8,957.96 L690.0,957.89 L692.2,957.80 L694.5,957.72 L696.8,957.62 L699.0,957.51 L701.2,957.39 L703.5,957.26 L705.8,957.11 L708.0,956.95 L710.2,956.78 L712.5,956.58 L714.8,956.38 L717.0,956.15 L719.2,955.90 L721.5,955.63 L723.8,955.34 L726.0,955.03 L728.2,954.70 L730.5,954.34 L732.8,953.96 L735.0,953.56 L737.2,953.14 L739.5,952.69 L741.8,952.22 L744.0,951.73 L746.2,951.22 L748.5,950.69 L750.8,950.15 L753.0,949.58 L755.2,949.01 L757.5,948.42 L759.8,947.83 L762.0,947.22 L764.2,946.62 L766.5,946.01 L768.8,945.41 L771.0,944.81 L773.2,944.22 L775.5,943.64 L777.8,943.07 L780.0,942.52 L782.2,942.00 L784.5,941.49 L786.8,941.01 L789.0,940.56 L791.2,940.14 L793.5,939.76 L795.8,939.40 L798.0,939.09 L800.2,938.80 L802.5,938.56 L804.8,938.35 L807.0,938.18 L809.2,938.04 L811.5,937.94 L813.8,937.87 L816.0,937.83 L818.2,937.82 L818.6,937.82 L820.5,937.83 L822.8,937.90 L825.0,938.03 L827.2,938.23 L829.5,938.51 L831.8,938.86 L834.0,939.28 L836.2,939.78 L838.5,940.34 L840.8,940.98 L843.0,941.66 L845.2,942.40 L847.5,943.18 L849.8,944.00 L852.0,944.84 L854.2,945.70 L856.5,946.57 L858.8,947.44 L861.0,948.29 L863.2,949.13 L865.5,949.94 L867.8,950.73 L870.0,951.48 L872.2,952.19 L874.5,952.85 L876.8,953.47 L879.0,954.05 L881.2,954.58 L883.5,955.06 L885.8,955.49 L888.0,955.88 L890.2,956.23 L892.5,956.54 L894.8,956.82 L897.0,957.06 L899.2,957.27 L901.5,957.45 L903.8,957.61 L906.0,957.75 L908.2,957.87 L910.5,957.97 L912.8,958.06 L915.0,958.14 L917.2,958.21 L919.5,958.27 L921.8,958.32 L924.0,958.37 L926.2,958.41 L928.5,958.45 L930.8,958.48 L933.0,958.51 L935.2,958.54 L937.5,958.57 L939.8,958.60 L942.0,958.62 L942.0,959.62 L939.8,959.64 L937.5,959.67 L935.2,959.70 L933.0,959.73 L930.8,959.76 L928.5,959.79 L926.2,959.83 L924.0,959.87 L921.8,959.92 L919.5,959.97 L917.2,960.03 L915.0,960.10 L912.8,960.18 L910.5,960.27 L908.2,960.37 L906.0,960.49 L903.8,960.63 L901.5,960.79 L899.2,960.97 L897.0,961.18 L894.8,961.42 L892.5,961.70 L890.2,962.01 L888.0,962.36 L885.8,962.75 L883.5,963.18 L881.2,963.66 L879.0,964.19 L876.8,964.77 L874.5,965.39 L872.2,966.05 L870.0,966.76 L867.8,967.51 L865.5,968.30 L863.2,969.11 L861.0,969.95 L858.8,970.80 L856.5,971.67 L854.2,972.54 L852.0,973.40 L849.8,974.24 L847.5,975.06 L845.2,975.84 L843.0,976.58 L840.8,977.26 L838.5,977.90 L836.2,978.46 L834.0,978.96 L831.8,979.38 L829.5,979.73 L827.2,980.01 L825.0,980.21 L822.8,980.34 L820.5,980.41 L818.6,980.42 L818.2,980.42 L816.0,980.41 L813.8,980.37 L811.5,980.30 L809.2,980.20 L807.0,980.06 L804.8,979.89 L802.5,979.68 L800.2,979.44 L798.0,979.15 L795.8,978.84 L793.5,978.48 L791.2,978.10 L789.0,977.68 L786.8,977.23 L784.5,976.75 L782.2,976.24 L780.0,975.72 L777.8,975.17 L775.5,974.60 L773.2,974.02 L771.0,973.43 L768.8,972.83 L766.5,972.23 L764.2,971.62 L762.0,971.02 L759.8,970.41 L757.5,969.82 L755.2,969.23 L753.0,968.66 L750.8,968.09 L748.5,967.55 L746.2,967.02 L744.0,966.51 L741.8,966.02 L739.5,965.55 L737.2,965.10 L735.0,964.68 L732.8,964.28 L730.5,963.90 L728.2,963.54 L726.0,963.21 L723.8,962.90 L721.5,962.61 L719.2,962.34 L717.0,962.09 L714.8,961.86 L712.5,961.66 L710.2,961.46 L708.0,961.29 L705.8,961.13 L703.5,960.98 L701.2,960.85 L699.0,960.73 L696.8,960.62 L694.5,960.52 L692.2,960.44 L690.0,960.35 L687.8,960.28 L685.5,960.22 L683.2,960.16 L681.0,960.10 L678.8,960.06 L676.5,960.01 L674.2,959.97 L672.0,959.93Z" fill="#F8AE93"/><path d="M490.5,1005.59 L492.2,1005.57 L493.9,1005.55 L495.7,1005.53 L497.4,1005.51 L499.1,1005.48 L500.8,1005.46 L502.5,1005.43 L504.3,1005.41 L506.0,1005.38 L507.7,1005.35 L509.4,1005.31 L511.1,1005.28 L512.9,1005.24 L514.6,1005.19 L516.3,1005.14 L518.0,1005.09 L519.8,1005.02 L521.5,1004.95 L523.2,1004.86 L524.9,1004.77 L526.6,1004.66 L528.4,1004.53 L530.1,1004.39 L531.8,1004.22 L533.5,1004.03 L535.2,1003.81 L537.0,1003.56 L538.7,1003.28 L540.4,1002.97 L542.1,1002.62 L543.8,1002.23 L545.6,1001.80 L547.3,1001.33 L549.0,1000.81 L550.7,1000.25 L552.5,999.65 L554.2,999.00 L555.9,998.32 L557.6,997.60 L559.3,996.84 L561.1,996.06 L562.8,995.26 L564.5,994.43 L566.2,993.60 L567.9,992.77 L569.7,991.94 L571.4,991.13 L573.1,990.33 L574.8,989.57 L576.5,988.84 L578.3,988.15 L580.0,987.52 L581.7,986.94 L583.4,986.43 L585.1,985.98 L586.9,985.60 L588.6,985.28 L590.3,985.04 L592.0,984.86 L593.8,984.75 L595.5,984.70 L596.7,984.69 L597.2,984.69 L598.9,984.73 L600.6,984.82 L602.4,984.99 L604.1,985.24 L605.8,985.56 L607.5,985.96 L609.2,986.43 L611.0,986.98 L612.7,987.60 L614.4,988.28 L616.1,989.01 L617.8,989.79 L619.6,990.62 L621.3,991.47 L623.0,992.34 L624.7,993.22 L626.4,994.10 L628.2,994.98 L629.9,995.84 L631.6,996.67 L633.3,997.48 L635.0,998.25 L636.8,998.97 L638.5,999.66 L640.2,1000.29 L641.9,1000.88 L643.7,1001.42 L645.4,1001.91 L647.1,1002.36 L648.8,1002.76 L650.5,1003.11 L652.3,1003.43 L654.0,1003.70 L655.7,1003.95 L657.4,1004.16 L659.1,1004.34 L660.9,1004.50 L662.6,1004.64 L664.3,1004.76 L666.0,1004.86 L667.7,1004.95 L669.5,1005.03 L671.2,1005.09 L672.9,1005.15 L674.6,1005.20 L676.4,1005.25 L678.1,1005.29 L679.8,1005.33 L681.5,1005.36 L683.2,1005.39 L685.0,1005.42 L686.7,1005.45 L688.4,1005.48 L690.1,1005.50 L691.8,1005.53 L693.6,1005.55 L695.3,1005.57 L697.0,1005.59 L697.0,1006.39 L695.3,1006.41 L693.6,1006.43 L691.8,1006.45 L690.1,1006.48 L688.4,1006.50 L686.7,1006.53 L685.0,1006.56 L683.2,1006.59 L681.5,1006.62 L679.8,1006.65 L678.1,1006.69 L676.4,1006.73 L674.6,1006.78 L672.9,1006.83 L671.2,1006.89 L669.5,1006.95 L667.7,1007.03 L666.0,1007.12 L664.3,1007.22 L662.6,1007.34 L660.9,1007.48 L659.1,1007.64 L657.4,1007.82 L655.7,1008.03 L654.0,1008.28 L652.3,1008.55 L650.5,1008.87 L648.8,1009.22 L647.1,1009.62 L645.4,1010.07 L643.7,1010.56 L641.9,1011.10 L640.2,1011.69 L638.5,1012.32 L636.8,1013.01 L635.0,1013.73 L633.3,1014.50 L631.6,1015.31 L629.9,1016.14 L628.2,1017.00 L626.4,1017.88 L624.7,1018.76 L623.0,1019.64 L621.3,1020.51 L619.6,1021.36 L617.8,1022.19 L616.1,1022.97 L614.4,1023.70 L612.7,1024.38 L611.0,1025.00 L609.2,1025.55 L607.5,1026.02 L605.8,1026.42 L604.1,1026.74 L602.4,1026.99 L600.6,1027.16 L598.9,1027.25 L597.2,1027.29 L596.7,1027.29 L595.5,1027.28 L593.8,1027.23 L592.0,1027.12 L590.3,1026.94 L588.6,1026.70 L586.9,1026.38 L585.1,1026.00 L583.4,1025.55 L581.7,1025.04 L580.0,1024.46 L578.3,1023.83 L576.5,1023.14 L574.8,1022.41 L573.1,1021.65 L571.4,1020.85 L569.7,1020.04 L567.9,1019.21 L566.2,1018.38 L564.5,1017.55 L562.8,1016.72 L561.1,1015.92 L559.3,1015.14 L557.6,1014.38 L555.9,1013.66 L554.2,1012.98 L552.5,1012.33 L550.7,1011.73 L549.0,1011.17 L547.3,1010.65 L545.6,1010.18 L543.8,1009.75 L542.1,1009.36 L540.4,1009.01 L538.7,1008.70 L537.0,1008.42 L535.2,1008.17 L533.5,1007.95 L531.8,1007.76 L530.1,1007.59 L528.4,1007.45 L526.6,1007.32 L524.9,1007.21 L523.2,1007.12 L521.5,1007.03 L519.8,1006.96 L518.0,1006.89 L516.3,1006.84 L514.6,1006.79 L512.9,1006.74 L511.1,1006.70 L509.4,1006.67 L507.7,1006.63 L506.0,1006.60 L504.3,1006.57 L502.5,1006.55 L500.8,1006.52 L499.1,1006.50 L497.4,1006.47 L495.7,1006.45 L493.9,1006.43 L492.2,1006.41 L490.5,1006.39Z" fill="#F8AE93"/><path d="M467.0,1052.69 L468.4,1052.68 L469.8,1052.67 L471.1,1052.66 L472.5,1052.64 L473.9,1052.63 L475.3,1052.61 L476.7,1052.60 L478.1,1052.58 L479.4,1052.56 L480.8,1052.54 L482.2,1052.52 L483.6,1052.50 L485.0,1052.48 L486.4,1052.46 L487.8,1052.44 L489.1,1052.41 L490.5,1052.39 L491.9,1052.36 L493.3,1052.33 L494.7,1052.30 L496.1,1052.27 L497.4,1052.24 L498.8,1052.20 L500.2,1052.16 L501.6,1052.11 L503.0,1052.06 L504.4,1052.00 L505.7,1051.93 L507.1,1051.85 L508.5,1051.76 L509.9,1051.65 L511.3,1051.52 L512.6,1051.37 L514.0,1051.19 L515.4,1050.99 L516.8,1050.74 L518.2,1050.46 L519.6,1050.13 L521.0,1049.76 L522.3,1049.33 L523.7,1048.85 L525.1,1048.31 L526.5,1047.71 L527.9,1047.05 L529.2,1046.33 L530.6,1045.55 L532.0,1044.73 L533.4,1043.85 L534.8,1042.94 L536.2,1041.99 L537.5,1041.02 L538.9,1040.04 L540.3,1039.07 L541.7,1038.11 L543.1,1037.17 L544.5,1036.28 L545.9,1035.44 L547.2,1034.66 L548.6,1033.96 L550.0,1033.34 L551.4,1032.81 L552.8,1032.38 L554.1,1032.04 L555.5,1031.80 L556.9,1031.64 L558.3,1031.57 L559.2,1031.56 L559.7,1031.56 L561.1,1031.61 L562.5,1031.72 L563.8,1031.92 L565.2,1032.21 L566.6,1032.58 L568.0,1033.04 L569.4,1033.58 L570.8,1034.20 L572.1,1034.90 L573.5,1035.67 L574.9,1036.49 L576.3,1037.35 L577.7,1038.25 L579.0,1039.18 L580.4,1040.12 L581.8,1041.06 L583.2,1041.98 L584.6,1042.89 L586.0,1043.77 L587.4,1044.62 L588.7,1045.42 L590.1,1046.17 L591.5,1046.87 L592.9,1047.52 L594.3,1048.11 L595.6,1048.65 L597.0,1049.14 L598.4,1049.57 L599.8,1049.95 L601.2,1050.29 L602.6,1050.58 L604.0,1050.84 L605.3,1051.06 L606.7,1051.25 L608.1,1051.41 L609.5,1051.55 L610.9,1051.67 L612.2,1051.78 L613.6,1051.86 L615.0,1051.94 L616.4,1052.00 L617.8,1052.06 L619.2,1052.11 L620.5,1052.16 L621.9,1052.20 L623.3,1052.23 L624.7,1052.27 L626.1,1052.30 L627.5,1052.33 L628.9,1052.35 L630.2,1052.38 L631.6,1052.40 L633.0,1052.43 L633.0,1053.29 L631.6,1053.32 L630.2,1053.34 L628.9,1053.37 L627.5,1053.39 L626.1,1053.42 L624.7,1053.45 L623.3,1053.49 L621.9,1053.52 L620.5,1053.56 L619.2,1053.61 L617.8,1053.66 L616.4,1053.72 L615.0,1053.78 L613.6,1053.86 L612.2,1053.94 L610.9,1054.05 L609.5,1054.17 L608.1,1054.31 L606.7,1054.47 L605.3,1054.66 L604.0,1054.88 L602.6,1055.14 L601.2,1055.43 L599.8,1055.77 L598.4,1056.15 L597.0,1056.58 L595.6,1057.07 L594.3,1057.61 L592.9,1058.20 L591.5,1058.85 L590.1,1059.55 L588.7,1060.30 L587.4,1061.10 L586.0,1061.95 L584.6,1062.83 L583.2,1063.74 L581.8,1064.66 L580.4,1065.60 L579.0,1066.54 L577.7,1067.47 L576.3,1068.37 L574.9,1069.23 L573.5,1070.05 L572.1,1070.82 L570.8,1071.52 L569.4,1072.14 L568.0,1072.68 L566.6,1073.14 L565.2,1073.51 L563.8,1073.80 L562.5,1074.00 L561.1,1074.11 L559.7,1074.16 L559.2,1074.16 L558.3,1074.15 L556.9,1074.08 L555.5,1073.92 L554.1,1073.68 L552.8,1073.34 L551.4,1072.91 L550.0,1072.38 L548.6,1071.76 L547.2,1071.06 L545.9,1070.28 L544.5,1069.44 L543.1,1068.55 L541.7,1067.61 L540.3,1066.65 L538.9,1065.68 L537.5,1064.70 L536.2,1063.73 L534.8,1062.78 L533.4,1061.87 L532.0,1060.99 L530.6,1060.17 L529.2,1059.39 L527.9,1058.67 L526.5,1058.01 L525.1,1057.41 L523.7,1056.87 L522.3,1056.39 L521.0,1055.96 L519.6,1055.59 L518.2,1055.26 L516.8,1054.98 L515.4,1054.73 L514.0,1054.53 L512.6,1054.35 L511.3,1054.20 L509.9,1054.07 L508.5,1053.96 L507.1,1053.87 L505.7,1053.79 L504.4,1053.72 L503.0,1053.66 L501.6,1053.61 L500.2,1053.56 L498.8,1053.52 L497.4,1053.48 L496.1,1053.45 L494.7,1053.42 L493.3,1053.39 L491.9,1053.36 L490.5,1053.33 L489.1,1053.31 L487.8,1053.28 L486.4,1053.26 L485.0,1053.24 L483.6,1053.22 L482.2,1053.20 L480.8,1053.18 L479.4,1053.16 L478.1,1053.14 L476.7,1053.12 L475.3,1053.11 L473.9,1053.09 L472.5,1053.08 L471.1,1053.06 L469.8,1053.05 L468.4,1053.04 L467.0,1053.03Z" fill="#F8AE93"/><path d="M494.4,1099.44 L496.4,1099.42 L498.5,1099.41 L500.5,1099.39 L502.5,1099.37 L504.5,1099.35 L506.6,1099.33 L508.6,1099.31 L510.6,1099.29 L512.6,1099.27 L514.7,1099.25 L516.7,1099.22 L518.7,1099.20 L520.7,1099.17 L522.8,1099.14 L524.8,1099.11 L526.8,1099.08 L528.8,1099.04 L530.9,1099.00 L532.9,1098.95 L534.9,1098.90 L536.9,1098.85 L539.0,1098.78 L541.0,1098.71 L543.0,1098.62 L545.0,1098.53 L547.1,1098.41 L549.1,1098.28 L551.1,1098.13 L553.1,1097.95 L555.2,1097.75 L557.2,1097.51 L559.2,1097.25 L561.3,1096.95 L563.3,1096.61 L565.3,1096.22 L567.3,1095.79 L569.4,1095.32 L571.4,1094.80 L573.4,1094.23 L575.4,1093.61 L577.5,1092.95 L579.5,1092.24 L581.5,1091.49 L583.5,1090.70 L585.6,1089.88 L587.6,1089.03 L589.6,1088.17 L591.6,1087.29 L593.7,1086.42 L595.7,1085.55 L597.7,1084.69 L599.7,1083.86 L601.8,1083.07 L603.8,1082.31 L605.8,1081.61 L607.8,1080.97 L609.9,1080.40 L611.9,1079.89 L613.9,1079.46 L616.0,1079.11 L618.0,1078.83 L620.0,1078.63 L622.0,1078.50 L624.1,1078.44 L625.6,1078.43 L626.1,1078.43 L628.1,1078.46 L630.1,1078.55 L632.2,1078.70 L634.2,1078.92 L636.2,1079.21 L638.2,1079.58 L640.3,1080.01 L642.3,1080.52 L644.3,1081.09 L646.3,1081.72 L648.4,1082.40 L650.4,1083.13 L652.4,1083.91 L654.4,1084.71 L656.5,1085.54 L658.5,1086.38 L660.5,1087.23 L662.5,1088.08 L664.6,1088.92 L666.6,1089.75 L668.6,1090.54 L670.6,1091.31 L672.7,1092.05 L674.7,1092.75 L676.7,1093.41 L678.8,1094.02 L680.8,1094.59 L682.8,1095.11 L684.8,1095.59 L686.9,1096.02 L688.9,1096.42 L690.9,1096.77 L692.9,1097.08 L695.0,1097.36 L697.0,1097.60 L699.0,1097.82 L701.0,1098.01 L703.1,1098.17 L705.1,1098.31 L707.1,1098.44 L709.1,1098.54 L711.2,1098.64 L713.2,1098.72 L715.2,1098.79 L717.2,1098.85 L719.3,1098.91 L721.3,1098.95 L723.3,1099.00 L725.3,1099.04 L727.4,1099.07 L729.4,1099.10 L731.4,1099.13 L733.4,1099.16 L735.5,1099.19 L737.5,1099.21 L737.5,1100.25 L735.5,1100.27 L733.4,1100.30 L731.4,1100.33 L729.4,1100.36 L727.4,1100.39 L725.3,1100.42 L723.3,1100.46 L721.3,1100.51 L719.3,1100.55 L717.2,1100.61 L715.2,1100.67 L713.2,1100.74 L711.2,1100.82 L709.1,1100.92 L707.1,1101.02 L705.1,1101.15 L703.1,1101.29 L701.0,1101.45 L699.0,1101.64 L697.0,1101.86 L695.0,1102.10 L692.9,1102.38 L690.9,1102.69 L688.9,1103.04 L686.9,1103.44 L684.8,1103.87 L682.8,1104.35 L680.8,1104.87 L678.8,1105.44 L676.7,1106.05 L674.7,1106.71 L672.7,1107.41 L670.6,1108.15 L668.6,1108.92 L666.6,1109.71 L664.6,1110.54 L662.5,1111.38 L660.5,1112.23 L658.5,1113.08 L656.5,1113.92 L654.4,1114.75 L652.4,1115.55 L650.4,1116.33 L648.4,1117.06 L646.3,1117.74 L644.3,1118.37 L642.3,1118.94 L640.3,1119.45 L638.2,1119.88 L636.2,1120.25 L634.2,1120.54 L632.2,1120.76 L630.1,1120.91 L628.1,1121.00 L626.1,1121.03 L625.6,1121.03 L624.1,1121.02 L622.0,1120.96 L620.0,1120.83 L618.0,1120.63 L616.0,1120.35 L613.9,1120.00 L611.9,1119.57 L609.9,1119.06 L607.8,1118.49 L605.8,1117.85 L603.8,1117.15 L601.8,1116.39 L599.7,1115.60 L597.7,1114.77 L595.7,1113.91 L593.7,1113.04 L591.6,1112.17 L589.6,1111.29 L587.6,1110.43 L585.6,1109.58 L583.5,1108.76 L581.5,1107.97 L579.5,1107.22 L577.5,1106.51 L575.4,1105.85 L573.4,1105.23 L571.4,1104.66 L569.4,1104.14 L567.3,1103.67 L565.3,1103.24 L563.3,1102.85 L561.3,1102.51 L559.2,1102.21 L557.2,1101.95 L555.2,1101.71 L553.1,1101.51 L551.1,1101.33 L549.1,1101.18 L547.1,1101.05 L545.0,1100.93 L543.0,1100.84 L541.0,1100.75 L539.0,1100.68 L536.9,1100.61 L534.9,1100.56 L532.9,1100.51 L530.9,1100.46 L528.8,1100.42 L526.8,1100.38 L524.8,1100.35 L522.8,1100.32 L520.7,1100.29 L518.7,1100.26 L516.7,1100.24 L514.7,1100.21 L512.6,1100.19 L510.6,1100.17 L508.6,1100.15 L506.6,1100.13 L504.5,1100.11 L502.5,1100.09 L500.5,1100.07 L498.5,1100.05 L496.4,1100.04 L494.4,1100.02Z" fill="#F8AE93"/><path d="M448.0,1145.92 L449.2,1145.89 L450.4,1145.85 L451.6,1145.82 L452.8,1145.78 L454.0,1145.74 L455.1,1145.70 L456.3,1145.65 L457.5,1145.59 L458.7,1145.53 L459.9,1145.47 L461.1,1145.39 L462.3,1145.31 L463.5,1145.21 L464.7,1145.11 L465.9,1144.99 L467.1,1144.86 L468.3,1144.72 L469.4,1144.56 L470.6,1144.38 L471.8,1144.19 L473.0,1143.97 L474.2,1143.73 L475.4,1143.48 L476.6,1143.19 L477.8,1142.89 L479.0,1142.56 L480.2,1142.20 L481.4,1141.81 L482.6,1141.40 L483.8,1140.96 L484.9,1140.50 L486.1,1140.01 L487.3,1139.49 L488.5,1138.95 L489.7,1138.39 L490.9,1137.81 L492.1,1137.20 L493.3,1136.58 L494.5,1135.95 L495.7,1135.31 L496.9,1134.65 L498.1,1134.00 L499.2,1133.34 L500.4,1132.69 L501.6,1132.05 L502.8,1131.41 L504.0,1130.79 L505.2,1130.19 L506.4,1129.62 L507.6,1129.07 L508.8,1128.55 L510.0,1128.06 L511.2,1127.60 L512.4,1127.19 L513.5,1126.81 L514.7,1126.48 L515.9,1126.19 L517.1,1125.94 L518.3,1125.73 L519.5,1125.57 L520.7,1125.45 L521.9,1125.36 L523.1,1125.32 L524.3,1125.30 L524.5,1125.30 L525.5,1125.31 L526.6,1125.35 L527.8,1125.42 L529.0,1125.54 L530.2,1125.70 L531.4,1125.91 L532.6,1126.17 L533.8,1126.48 L535.0,1126.83 L536.2,1127.23 L537.4,1127.67 L538.6,1128.15 L539.8,1128.67 L541.0,1129.23 L542.1,1129.81 L543.3,1130.43 L544.5,1131.07 L545.7,1131.72 L546.9,1132.40 L548.1,1133.08 L549.3,1133.76 L550.5,1134.45 L551.7,1135.14 L552.9,1135.82 L554.1,1136.48 L555.2,1137.14 L556.4,1137.77 L557.6,1138.38 L558.8,1138.97 L560.0,1139.54 L561.2,1140.08 L562.4,1140.59 L563.6,1141.07 L564.8,1141.52 L566.0,1141.95 L567.2,1142.34 L568.4,1142.70 L569.5,1143.04 L570.7,1143.35 L571.9,1143.63 L573.1,1143.89 L574.3,1144.12 L575.5,1144.33 L576.7,1144.52 L577.9,1144.69 L579.1,1144.85 L580.3,1144.98 L581.5,1145.11 L582.7,1145.22 L583.9,1145.31 L585.0,1145.40 L586.2,1145.48 L587.4,1145.55 L588.6,1145.61 L589.8,1145.67 L591.0,1145.72 L591.0,1147.48 L589.8,1147.53 L588.6,1147.59 L587.4,1147.65 L586.2,1147.72 L585.0,1147.80 L583.9,1147.89 L582.7,1147.98 L581.5,1148.09 L580.3,1148.22 L579.1,1148.35 L577.9,1148.51 L576.7,1148.68 L575.5,1148.87 L574.3,1149.08 L573.1,1149.31 L571.9,1149.57 L570.7,1149.85 L569.5,1150.16 L568.4,1150.50 L567.2,1150.86 L566.0,1151.25 L564.8,1151.68 L563.6,1152.13 L562.4,1152.61 L561.2,1153.12 L560.0,1153.66 L558.8,1154.23 L557.6,1154.82 L556.4,1155.43 L555.2,1156.06 L554.1,1156.72 L552.9,1157.38 L551.7,1158.06 L550.5,1158.75 L549.3,1159.44 L548.1,1160.12 L546.9,1160.80 L545.7,1161.48 L544.5,1162.13 L543.3,1162.77 L542.1,1163.39 L541.0,1163.97 L539.8,1164.53 L538.6,1165.05 L537.4,1165.53 L536.2,1165.97 L535.0,1166.37 L533.8,1166.72 L532.6,1167.03 L531.4,1167.29 L530.2,1167.50 L529.0,1167.66 L527.8,1167.78 L526.6,1167.85 L525.5,1167.89 L524.5,1167.90 L524.3,1167.90 L523.1,1167.88 L521.9,1167.84 L520.7,1167.75 L519.5,1167.63 L518.3,1167.47 L517.1,1167.26 L515.9,1167.01 L514.7,1166.72 L513.5,1166.39 L512.4,1166.01 L511.2,1165.60 L510.0,1165.14 L508.8,1164.65 L507.6,1164.13 L506.4,1163.58 L505.2,1163.01 L504.0,1162.41 L502.8,1161.79 L501.6,1161.15 L500.4,1160.51 L499.2,1159.86 L498.1,1159.20 L496.9,1158.55 L495.7,1157.89 L494.5,1157.25 L493.3,1156.62 L492.1,1156.00 L490.9,1155.39 L489.7,1154.81 L488.5,1154.25 L487.3,1153.71 L486.1,1153.19 L484.9,1152.70 L483.8,1152.24 L482.6,1151.80 L481.4,1151.39 L480.2,1151.00 L479.0,1150.64 L477.8,1150.31 L476.6,1150.01 L475.4,1149.72 L474.2,1149.47 L473.0,1149.23 L471.8,1149.01 L470.6,1148.82 L469.4,1148.64 L468.3,1148.48 L467.1,1148.34 L465.9,1148.21 L464.7,1148.09 L463.5,1147.99 L462.3,1147.89 L461.1,1147.81 L459.9,1147.73 L458.7,1147.67 L457.5,1147.61 L456.3,1147.55 L455.1,1147.50 L454.0,1147.46 L452.8,1147.42 L451.6,1147.38 L450.4,1147.35 L449.2,1147.31 L448.0,1147.28Z" fill="#B5E3E0"/><path d="M618.0,1193.08 L619.1,1193.07 L620.2,1193.05 L621.3,1193.03 L622.4,1193.01 L623.5,1192.98 L624.5,1192.96 L625.6,1192.94 L626.7,1192.91 L627.8,1192.89 L628.9,1192.86 L630.0,1192.83 L631.1,1192.79 L632.2,1192.76 L633.3,1192.72 L634.4,1192.67 L635.5,1192.63 L636.6,1192.57 L637.6,1192.51 L638.7,1192.44 L639.8,1192.36 L640.9,1192.27 L642.0,1192.16 L643.1,1192.04 L644.2,1191.90 L645.3,1191.74 L646.4,1191.56 L647.5,1191.35 L648.6,1191.12 L649.7,1190.85 L650.8,1190.55 L651.8,1190.22 L652.9,1189.85 L654.0,1189.44 L655.1,1188.99 L656.2,1188.50 L657.3,1187.96 L658.4,1187.39 L659.5,1186.77 L660.6,1186.11 L661.7,1185.42 L662.8,1184.70 L663.9,1183.94 L664.9,1183.16 L666.0,1182.36 L667.1,1181.55 L668.2,1180.73 L669.3,1179.91 L670.4,1179.10 L671.5,1178.30 L672.6,1177.53 L673.7,1176.79 L674.8,1176.09 L675.9,1175.43 L677.0,1174.82 L678.0,1174.27 L679.1,1173.78 L680.2,1173.36 L681.3,1173.00 L682.4,1172.70 L683.5,1172.48 L684.6,1172.32 L685.7,1172.22 L686.8,1172.18 L687.4,1172.17 L687.9,1172.17 L689.0,1172.20 L690.0,1172.26 L691.1,1172.36 L692.2,1172.51 L693.3,1172.70 L694.4,1172.94 L695.5,1173.23 L696.6,1173.56 L697.7,1173.94 L698.8,1174.37 L699.9,1174.83 L701.0,1175.34 L702.1,1175.88 L703.1,1176.46 L704.2,1177.07 L705.3,1177.70 L706.4,1178.35 L707.5,1179.02 L708.6,1179.69 L709.7,1180.38 L710.8,1181.07 L711.9,1181.76 L713.0,1182.44 L714.1,1183.11 L715.2,1183.77 L716.2,1184.41 L717.3,1185.03 L718.4,1185.63 L719.5,1186.21 L720.6,1186.75 L721.7,1187.28 L722.8,1187.77 L723.9,1188.23 L725.0,1188.67 L726.1,1189.07 L727.2,1189.44 L728.3,1189.79 L729.4,1190.11 L730.4,1190.40 L731.5,1190.67 L732.6,1190.91 L733.7,1191.13 L734.8,1191.33 L735.9,1191.50 L737.0,1191.66 L738.1,1191.81 L739.2,1191.93 L740.3,1192.05 L741.4,1192.15 L742.5,1192.24 L743.5,1192.32 L744.6,1192.39 L745.7,1192.46 L746.8,1192.52 L747.9,1192.57 L749.0,1192.62 L749.0,1194.32 L747.9,1194.37 L746.8,1194.42 L745.7,1194.48 L744.6,1194.55 L743.5,1194.62 L742.5,1194.70 L741.4,1194.79 L740.3,1194.89 L739.2,1195.01 L738.1,1195.13 L737.0,1195.28 L735.9,1195.44 L734.8,1195.61 L733.7,1195.81 L732.6,1196.03 L731.5,1196.27 L730.4,1196.54 L729.4,1196.83 L728.3,1197.15 L727.2,1197.50 L726.1,1197.87 L725.0,1198.27 L723.9,1198.71 L722.8,1199.17 L721.7,1199.66 L720.6,1200.19 L719.5,1200.73 L718.4,1201.31 L717.3,1201.91 L716.2,1202.53 L715.2,1203.17 L714.1,1203.83 L713.0,1204.50 L711.9,1205.18 L710.8,1205.87 L709.7,1206.56 L708.6,1207.25 L707.5,1207.92 L706.4,1208.59 L705.3,1209.24 L704.2,1209.87 L703.1,1210.48 L702.1,1211.06 L701.0,1211.60 L699.9,1212.11 L698.8,1212.57 L697.7,1213.00 L696.6,1213.38 L695.5,1213.71 L694.4,1214.00 L693.3,1214.24 L692.2,1214.43 L691.1,1214.58 L690.0,1214.68 L689.0,1214.74 L687.9,1214.77 L687.4,1214.77 L686.8,1214.76 L685.7,1214.72 L684.6,1214.62 L683.5,1214.46 L682.4,1214.24 L681.3,1213.94 L680.2,1213.58 L679.1,1213.16 L678.0,1212.67 L677.0,1212.12 L675.9,1211.51 L674.8,1210.85 L673.7,1210.15 L672.6,1209.41 L671.5,1208.64 L670.4,1207.84 L669.3,1207.03 L668.2,1206.21 L667.1,1205.39 L666.0,1204.58 L664.9,1203.78 L663.9,1203.00 L662.8,1202.24 L661.7,1201.52 L660.6,1200.83 L659.5,1200.17 L658.4,1199.55 L657.3,1198.98 L656.2,1198.44 L655.1,1197.95 L654.0,1197.50 L652.9,1197.09 L651.8,1196.72 L650.8,1196.39 L649.7,1196.09 L648.6,1195.82 L647.5,1195.59 L646.4,1195.38 L645.3,1195.20 L644.2,1195.04 L643.1,1194.90 L642.0,1194.78 L640.9,1194.67 L639.8,1194.58 L638.7,1194.50 L637.6,1194.43 L636.6,1194.37 L635.5,1194.31 L634.4,1194.27 L633.3,1194.22 L632.2,1194.18 L631.1,1194.15 L630.0,1194.11 L628.9,1194.08 L627.8,1194.05 L626.7,1194.03 L625.6,1194.00 L624.5,1193.98 L623.5,1193.96 L622.4,1193.93 L621.3,1193.91 L620.2,1193.89 L619.1,1193.87 L618.0,1193.86Z" fill="#B5E3E0"/><path d="M656.5,1239.65 L658.8,1239.61 L661.1,1239.58 L663.4,1239.54 L665.8,1239.50 L668.1,1239.45 L670.4,1239.40 L672.7,1239.35 L675.0,1239.28 L677.3,1239.21 L679.7,1239.13 L682.0,1239.04 L684.3,1238.94 L686.6,1238.83 L688.9,1238.70 L691.2,1238.56 L693.6,1238.40 L695.9,1238.22 L698.2,1238.03 L700.5,1237.81 L702.8,1237.57 L705.1,1237.30 L707.4,1237.00 L709.8,1236.68 L712.1,1236.33 L714.4,1235.96 L716.7,1235.55 L719.0,1235.11 L721.3,1234.64 L723.7,1234.14 L726.0,1233.61 L728.3,1233.05 L730.6,1232.47 L732.9,1231.86 L735.2,1231.23 L737.6,1230.57 L739.9,1229.90 L742.2,1229.22 L744.5,1228.53 L746.8,1227.83 L749.1,1227.13 L751.4,1226.44 L753.8,1225.75 L756.1,1225.08 L758.4,1224.42 L760.7,1223.79 L763.0,1223.18 L765.3,1222.61 L767.7,1222.07 L770.0,1221.56 L772.3,1221.10 L774.6,1220.68 L776.9,1220.31 L779.2,1219.99 L781.6,1219.72 L783.9,1219.49 L786.2,1219.31 L788.5,1219.18 L790.8,1219.10 L793.1,1219.05 L795.4,1219.04 L795.5,1219.04 L797.8,1219.06 L800.1,1219.11 L802.4,1219.21 L804.7,1219.37 L807.0,1219.57 L809.3,1219.84 L811.7,1220.15 L814.0,1220.53 L816.3,1220.96 L818.6,1221.43 L820.9,1221.96 L823.2,1222.53 L825.6,1223.15 L827.9,1223.79 L830.2,1224.47 L832.5,1225.17 L834.8,1225.90 L837.1,1226.63 L839.5,1227.38 L841.8,1228.12 L844.1,1228.87 L846.4,1229.60 L848.7,1230.32 L851.0,1231.03 L853.3,1231.71 L855.7,1232.37 L858.0,1232.99 L860.3,1233.59 L862.6,1234.16 L864.9,1234.69 L867.2,1235.19 L869.6,1235.65 L871.9,1236.08 L874.2,1236.47 L876.5,1236.83 L878.8,1237.16 L881.1,1237.46 L883.5,1237.73 L885.8,1237.97 L888.1,1238.19 L890.4,1238.38 L892.7,1238.55 L895.0,1238.70 L897.3,1238.84 L899.7,1238.96 L902.0,1239.06 L904.3,1239.16 L906.6,1239.24 L908.9,1239.31 L911.2,1239.37 L913.6,1239.43 L915.9,1239.48 L918.2,1239.53 L920.5,1239.57 L922.8,1239.61 L925.1,1239.64 L927.5,1239.67 L929.8,1239.70 L932.1,1239.73 L934.4,1239.76 L934.4,1240.92 L932.1,1240.95 L929.8,1240.98 L927.5,1241.01 L925.1,1241.04 L922.8,1241.07 L920.5,1241.11 L918.2,1241.15 L915.9,1241.20 L913.6,1241.25 L911.2,1241.31 L908.9,1241.37 L906.6,1241.44 L904.3,1241.52 L902.0,1241.62 L899.7,1241.72 L897.3,1241.84 L895.0,1241.98 L892.7,1242.13 L890.4,1242.30 L888.1,1242.49 L885.8,1242.71 L883.5,1242.95 L881.1,1243.22 L878.8,1243.52 L876.5,1243.85 L874.2,1244.21 L871.9,1244.60 L869.6,1245.03 L867.2,1245.49 L864.9,1245.99 L862.6,1246.52 L860.3,1247.09 L858.0,1247.69 L855.7,1248.31 L853.3,1248.97 L851.0,1249.65 L848.7,1250.36 L846.4,1251.08 L844.1,1251.81 L841.8,1252.56 L839.5,1253.30 L837.1,1254.05 L834.8,1254.78 L832.5,1255.51 L830.2,1256.21 L827.9,1256.89 L825.6,1257.53 L823.2,1258.15 L820.9,1258.72 L818.6,1259.25 L816.3,1259.72 L814.0,1260.15 L811.7,1260.53 L809.3,1260.84 L807.0,1261.11 L804.7,1261.31 L802.4,1261.47 L800.1,1261.57 L797.8,1261.62 L795.5,1261.64 L795.4,1261.64 L793.1,1261.63 L790.8,1261.58 L788.5,1261.50 L786.2,1261.37 L783.9,1261.19 L781.6,1260.96 L779.2,1260.69 L776.9,1260.37 L774.6,1260.00 L772.3,1259.58 L770.0,1259.12 L767.7,1258.61 L765.3,1258.07 L763.0,1257.50 L760.7,1256.89 L758.4,1256.26 L756.1,1255.60 L753.8,1254.93 L751.4,1254.24 L749.1,1253.55 L746.8,1252.85 L744.5,1252.15 L742.2,1251.46 L739.9,1250.78 L737.6,1250.11 L735.2,1249.45 L732.9,1248.82 L730.6,1248.21 L728.3,1247.63 L726.0,1247.07 L723.7,1246.54 L721.3,1246.04 L719.0,1245.57 L716.7,1245.13 L714.4,1244.72 L712.1,1244.35 L709.8,1244.00 L707.4,1243.68 L705.1,1243.38 L702.8,1243.11 L700.5,1242.87 L698.2,1242.65 L695.9,1242.46 L693.6,1242.28 L691.2,1242.12 L688.9,1241.98 L686.6,1241.85 L684.3,1241.74 L682.0,1241.64 L679.7,1241.55 L677.3,1241.47 L675.0,1241.40 L672.7,1241.33 L670.4,1241.28 L668.1,1241.23 L665.8,1241.18 L663.4,1241.14 L661.1,1241.10 L658.8,1241.07 L656.5,1241.03Z" fill="#E4ED96"/><path d="M444.0,1286.81 L446.3,1286.79 L448.5,1286.77 L450.8,1286.75 L453.1,1286.73 L455.3,1286.70 L457.6,1286.68 L459.9,1286.65 L462.1,1286.63 L464.4,1286.60 L466.7,1286.57 L468.9,1286.54 L471.2,1286.50 L473.5,1286.46 L475.7,1286.42 L478.0,1286.37 L480.3,1286.32 L482.5,1286.26 L484.8,1286.19 L487.1,1286.11 L489.3,1286.02 L491.6,1285.92 L493.9,1285.80 L496.1,1285.67 L498.4,1285.51 L500.7,1285.34 L502.9,1285.14 L505.2,1284.91 L507.5,1284.66 L509.7,1284.37 L512.0,1284.05 L514.3,1283.69 L516.5,1283.29 L518.8,1282.86 L521.1,1282.38 L523.3,1281.87 L525.6,1281.31 L527.9,1280.71 L530.1,1280.07 L532.4,1279.39 L534.7,1278.68 L536.9,1277.94 L539.2,1277.17 L541.5,1276.39 L543.7,1275.58 L546.0,1274.77 L548.3,1273.96 L550.5,1273.15 L552.8,1272.35 L555.1,1271.58 L557.3,1270.83 L559.6,1270.12 L561.9,1269.44 L564.1,1268.82 L566.4,1268.25 L568.7,1267.74 L570.9,1267.28 L573.2,1266.90 L575.5,1266.57 L577.7,1266.32 L580.0,1266.13 L582.3,1266.00 L584.5,1265.93 L586.8,1265.91 L587.0,1265.91 L589.1,1265.92 L591.3,1265.97 L593.6,1266.07 L595.9,1266.22 L598.1,1266.43 L600.4,1266.69 L602.7,1267.01 L604.9,1267.39 L607.2,1267.82 L609.5,1268.31 L611.7,1268.84 L614.0,1269.42 L616.3,1270.04 L618.5,1270.70 L620.8,1271.39 L623.1,1272.10 L625.3,1272.83 L627.6,1273.58 L629.9,1274.33 L632.1,1275.09 L634.4,1275.84 L636.7,1276.58 L638.9,1277.31 L641.2,1278.01 L643.5,1278.70 L645.7,1279.36 L648.0,1279.99 L650.3,1280.59 L652.5,1281.15 L654.8,1281.68 L657.1,1282.18 L659.3,1282.63 L661.6,1283.06 L663.9,1283.45 L666.1,1283.80 L668.4,1284.13 L670.7,1284.42 L672.9,1284.68 L675.2,1284.92 L677.5,1285.13 L679.7,1285.31 L682.0,1285.48 L684.3,1285.63 L686.5,1285.76 L688.8,1285.87 L691.1,1285.97 L693.3,1286.06 L695.6,1286.14 L697.9,1286.21 L700.1,1286.27 L702.4,1286.33 L704.7,1286.38 L706.9,1286.42 L709.2,1286.46 L711.5,1286.50 L713.7,1286.53 L716.0,1286.56 L716.0,1287.86 L713.7,1287.89 L711.5,1287.92 L709.2,1287.96 L706.9,1288.00 L704.7,1288.04 L702.4,1288.09 L700.1,1288.15 L697.9,1288.21 L695.6,1288.28 L693.3,1288.36 L691.1,1288.45 L688.8,1288.55 L686.5,1288.66 L684.3,1288.79 L682.0,1288.94 L679.7,1289.11 L677.5,1289.29 L675.2,1289.50 L672.9,1289.74 L670.7,1290.00 L668.4,1290.29 L666.1,1290.62 L663.9,1290.97 L661.6,1291.36 L659.3,1291.79 L657.1,1292.24 L654.8,1292.74 L652.5,1293.27 L650.3,1293.83 L648.0,1294.43 L645.7,1295.06 L643.5,1295.72 L641.2,1296.41 L638.9,1297.11 L636.7,1297.84 L634.4,1298.58 L632.1,1299.33 L629.9,1300.09 L627.6,1300.84 L625.3,1301.59 L623.1,1302.32 L620.8,1303.03 L618.5,1303.72 L616.3,1304.38 L614.0,1305.00 L611.7,1305.58 L609.5,1306.11 L607.2,1306.60 L604.9,1307.03 L602.7,1307.41 L600.4,1307.73 L598.1,1307.99 L595.9,1308.20 L593.6,1308.35 L591.3,1308.45 L589.1,1308.50 L587.0,1308.51 L586.8,1308.51 L584.5,1308.49 L582.3,1308.42 L580.0,1308.29 L577.7,1308.10 L575.5,1307.85 L573.2,1307.52 L570.9,1307.14 L568.7,1306.68 L566.4,1306.17 L564.1,1305.60 L561.9,1304.98 L559.6,1304.30 L557.3,1303.59 L555.1,1302.84 L552.8,1302.07 L550.5,1301.27 L548.3,1300.46 L546.0,1299.65 L543.7,1298.84 L541.5,1298.03 L539.2,1297.25 L536.9,1296.48 L534.7,1295.74 L532.4,1295.03 L530.1,1294.35 L527.9,1293.71 L525.6,1293.11 L523.3,1292.55 L521.1,1292.04 L518.8,1291.56 L516.5,1291.13 L514.3,1290.73 L512.0,1290.37 L509.7,1290.05 L507.5,1289.76 L505.2,1289.51 L502.9,1289.28 L500.7,1289.08 L498.4,1288.91 L496.1,1288.75 L493.9,1288.62 L491.6,1288.50 L489.3,1288.40 L487.1,1288.31 L484.8,1288.23 L482.5,1288.16 L480.3,1288.10 L478.0,1288.05 L475.7,1288.00 L473.5,1287.96 L471.2,1287.92 L468.9,1287.88 L466.7,1287.85 L464.4,1287.82 L462.1,1287.79 L459.9,1287.77 L457.6,1287.74 L455.3,1287.72 L453.1,1287.69 L450.8,1287.67 L448.5,1287.65 L446.3,1287.63 L444.0,1287.61Z" fill="#E4ED96"/><path d="M398.0,1333.62 L401.5,1333.60 L405.0,1333.58 L408.5,1333.56 L412.0,1333.54 L415.5,1333.51 L419.0,1333.48 L422.5,1333.46 L426.0,1333.43 L429.5,1333.39 L433.1,1333.36 L436.6,1333.32 L440.1,1333.28 L443.6,1333.23 L447.1,1333.18 L450.6,1333.12 L454.1,1333.05 L457.6,1332.98 L461.1,1332.89 L464.6,1332.79 L468.1,1332.68 L471.6,1332.55 L475.1,1332.40 L478.6,1332.24 L482.1,1332.05 L485.6,1331.84 L489.1,1331.60 L492.6,1331.33 L496.1,1331.03 L499.6,1330.70 L503.1,1330.34 L506.7,1329.93 L510.2,1329.49 L513.7,1329.02 L517.2,1328.50 L520.7,1327.95 L524.2,1327.36 L527.7,1326.73 L531.2,1326.07 L534.7,1325.38 L538.2,1324.66 L541.7,1323.92 L545.2,1323.15 L548.7,1322.38 L552.2,1321.60 L555.7,1320.82 L559.2,1320.04 L562.7,1319.27 L566.2,1318.52 L569.7,1317.80 L573.2,1317.11 L576.8,1316.45 L580.3,1315.84 L583.8,1315.28 L587.3,1314.76 L590.8,1314.31 L594.3,1313.91 L597.8,1313.58 L601.3,1313.30 L604.8,1313.09 L608.3,1312.93 L611.8,1312.84 L615.3,1312.79 L617.9,1312.78 L618.8,1312.78 L622.3,1312.81 L625.8,1312.89 L629.3,1313.02 L632.8,1313.22 L636.3,1313.49 L639.8,1313.82 L643.4,1314.21 L646.9,1314.67 L650.4,1315.19 L653.9,1315.76 L657.4,1316.39 L660.9,1317.06 L664.4,1317.78 L667.9,1318.52 L671.4,1319.30 L674.9,1320.09 L678.4,1320.90 L681.9,1321.71 L685.4,1322.51 L688.9,1323.31 L692.4,1324.09 L695.9,1324.86 L699.4,1325.59 L702.9,1326.30 L706.4,1326.97 L709.9,1327.60 L713.5,1328.19 L717.0,1328.75 L720.5,1329.26 L724.0,1329.74 L727.5,1330.17 L731.0,1330.56 L734.5,1330.92 L738.0,1331.24 L741.5,1331.52 L745.0,1331.78 L748.5,1332.00 L752.0,1332.20 L755.5,1332.38 L759.0,1332.53 L762.5,1332.67 L766.0,1332.78 L769.5,1332.89 L773.0,1332.98 L776.5,1333.06 L780.0,1333.12 L783.5,1333.19 L787.1,1333.24 L790.6,1333.29 L794.1,1333.33 L797.6,1333.37 L801.1,1333.40 L804.6,1333.44 L808.1,1333.47 L811.6,1333.49 L815.1,1333.52 L818.6,1333.55 L818.6,1334.61 L815.1,1334.64 L811.6,1334.67 L808.1,1334.69 L804.6,1334.72 L801.1,1334.76 L797.6,1334.79 L794.1,1334.83 L790.6,1334.87 L787.1,1334.92 L783.5,1334.97 L780.0,1335.04 L776.5,1335.10 L773.0,1335.18 L769.5,1335.27 L766.0,1335.38 L762.5,1335.49 L759.0,1335.63 L755.5,1335.78 L752.0,1335.96 L748.5,1336.16 L745.0,1336.38 L741.5,1336.64 L738.0,1336.92 L734.5,1337.24 L731.0,1337.60 L727.5,1337.99 L724.0,1338.42 L720.5,1338.90 L717.0,1339.41 L713.5,1339.97 L709.9,1340.56 L706.4,1341.19 L702.9,1341.86 L699.4,1342.57 L695.9,1343.30 L692.4,1344.07 L688.9,1344.85 L685.4,1345.65 L681.9,1346.45 L678.4,1347.26 L674.9,1348.07 L671.4,1348.86 L667.9,1349.64 L664.4,1350.38 L660.9,1351.10 L657.4,1351.77 L653.9,1352.40 L650.4,1352.97 L646.9,1353.49 L643.4,1353.95 L639.8,1354.34 L636.3,1354.67 L632.8,1354.94 L629.3,1355.14 L625.8,1355.27 L622.3,1355.35 L618.8,1355.38 L617.9,1355.38 L615.3,1355.37 L611.8,1355.32 L608.3,1355.23 L604.8,1355.07 L601.3,1354.86 L597.8,1354.58 L594.3,1354.25 L590.8,1353.85 L587.3,1353.40 L583.8,1352.88 L580.3,1352.32 L576.8,1351.71 L573.2,1351.05 L569.7,1350.36 L566.2,1349.64 L562.7,1348.89 L559.2,1348.12 L555.7,1347.34 L552.2,1346.56 L548.7,1345.78 L545.2,1345.01 L541.7,1344.24 L538.2,1343.50 L534.7,1342.78 L531.2,1342.09 L527.7,1341.43 L524.2,1340.80 L520.7,1340.21 L517.2,1339.66 L513.7,1339.14 L510.2,1338.67 L506.7,1338.23 L503.1,1337.82 L499.6,1337.46 L496.1,1337.13 L492.6,1336.83 L489.1,1336.56 L485.6,1336.32 L482.1,1336.11 L478.6,1335.92 L475.1,1335.76 L471.6,1335.61 L468.1,1335.48 L464.6,1335.37 L461.1,1335.27 L457.6,1335.18 L454.1,1335.11 L450.6,1335.04 L447.1,1334.98 L443.6,1334.93 L440.1,1334.88 L436.6,1334.84 L433.1,1334.80 L429.5,1334.77 L426.0,1334.73 L422.5,1334.70 L419.0,1334.68 L415.5,1334.65 L412.0,1334.62 L408.5,1334.60 L405.0,1334.58 L401.5,1334.56 L398.0,1334.54Z" fill="#E4ED96"/><path d="M401.8,1380.29 L404.0,1380.26 L406.1,1380.22 L408.3,1380.19 L410.4,1380.15 L412.6,1380.11 L414.7,1380.06 L416.9,1380.00 L419.0,1379.95 L421.2,1379.88 L423.3,1379.80 L425.5,1379.72 L427.6,1379.62 L429.8,1379.51 L432.0,1379.39 L434.1,1379.25 L436.3,1379.10 L438.4,1378.93 L440.6,1378.73 L442.7,1378.51 L444.9,1378.27 L447.0,1378.01 L449.2,1377.71 L451.3,1377.39 L453.5,1377.04 L455.7,1376.65 L457.8,1376.24 L460.0,1375.79 L462.1,1375.31 L464.3,1374.79 L466.4,1374.25 L468.6,1373.67 L470.7,1373.07 L472.9,1372.44 L475.0,1371.78 L477.2,1371.11 L479.4,1370.41 L481.5,1369.71 L483.7,1368.99 L485.8,1368.27 L488.0,1367.55 L490.1,1366.83 L492.3,1366.12 L494.4,1365.43 L496.6,1364.76 L498.7,1364.12 L500.9,1363.51 L503.0,1362.93 L505.2,1362.39 L507.4,1361.90 L509.5,1361.45 L511.7,1361.05 L513.8,1360.70 L516.0,1360.40 L518.1,1360.15 L520.3,1359.96 L522.4,1359.81 L524.6,1359.72 L526.7,1359.66 L528.9,1359.65 L529.0,1359.65 L531.0,1359.66 L533.2,1359.71 L535.4,1359.79 L537.5,1359.92 L539.7,1360.10 L541.8,1360.32 L544.0,1360.60 L546.1,1360.92 L548.3,1361.29 L550.4,1361.71 L552.6,1362.17 L554.7,1362.68 L556.9,1363.22 L559.1,1363.80 L561.2,1364.41 L563.4,1365.04 L565.5,1365.70 L567.7,1366.38 L569.8,1367.06 L572.0,1367.76 L574.1,1368.46 L576.3,1369.16 L578.4,1369.85 L580.6,1370.54 L582.8,1371.21 L584.9,1371.86 L587.1,1372.49 L589.2,1373.10 L591.4,1373.69 L593.5,1374.25 L595.7,1374.78 L597.8,1375.27 L600.0,1375.74 L602.1,1376.18 L604.3,1376.59 L606.4,1376.97 L608.6,1377.32 L610.8,1377.64 L612.9,1377.93 L615.1,1378.19 L617.2,1378.44 L619.4,1378.65 L621.5,1378.85 L623.7,1379.03 L625.8,1379.18 L628.0,1379.33 L630.1,1379.45 L632.3,1379.56 L634.4,1379.66 L636.6,1379.75 L638.8,1379.83 L640.9,1379.90 L643.1,1379.96 L645.2,1380.02 L647.4,1380.07 L649.5,1380.12 L651.7,1380.16 L653.8,1380.19 L656.0,1380.23 L658.1,1380.26 L660.3,1380.29 L660.3,1381.61 L658.1,1381.64 L656.0,1381.67 L653.8,1381.71 L651.7,1381.74 L649.5,1381.78 L647.4,1381.83 L645.2,1381.88 L643.1,1381.94 L640.9,1382.00 L638.8,1382.07 L636.6,1382.15 L634.4,1382.24 L632.3,1382.34 L630.1,1382.45 L628.0,1382.57 L625.8,1382.72 L623.7,1382.87 L621.5,1383.05 L619.4,1383.25 L617.2,1383.46 L615.1,1383.71 L612.9,1383.97 L610.8,1384.26 L608.6,1384.58 L606.4,1384.93 L604.3,1385.31 L602.1,1385.72 L600.0,1386.16 L597.8,1386.63 L595.7,1387.12 L593.5,1387.65 L591.4,1388.21 L589.2,1388.80 L587.1,1389.41 L584.9,1390.04 L582.8,1390.69 L580.6,1391.36 L578.4,1392.05 L576.3,1392.74 L574.1,1393.44 L572.0,1394.14 L569.8,1394.84 L567.7,1395.52 L565.5,1396.20 L563.4,1396.86 L561.2,1397.49 L559.1,1398.10 L556.9,1398.68 L554.7,1399.22 L552.6,1399.73 L550.4,1400.19 L548.3,1400.61 L546.1,1400.98 L544.0,1401.30 L541.8,1401.58 L539.7,1401.80 L537.5,1401.98 L535.4,1402.11 L533.2,1402.19 L531.0,1402.24 L529.0,1402.25 L528.9,1402.25 L526.7,1402.24 L524.6,1402.18 L522.4,1402.09 L520.3,1401.94 L518.1,1401.75 L516.0,1401.50 L513.8,1401.20 L511.7,1400.85 L509.5,1400.45 L507.4,1400.00 L505.2,1399.51 L503.0,1398.97 L500.9,1398.39 L498.7,1397.78 L496.6,1397.14 L494.4,1396.47 L492.3,1395.78 L490.1,1395.07 L488.0,1394.35 L485.8,1393.63 L483.7,1392.91 L481.5,1392.19 L479.4,1391.49 L477.2,1390.79 L475.0,1390.12 L472.9,1389.46 L470.7,1388.83 L468.6,1388.23 L466.4,1387.65 L464.3,1387.11 L462.1,1386.59 L460.0,1386.11 L457.8,1385.66 L455.7,1385.25 L453.5,1384.86 L451.3,1384.51 L449.2,1384.19 L447.0,1383.89 L444.9,1383.63 L442.7,1383.39 L440.6,1383.17 L438.4,1382.97 L436.3,1382.80 L434.1,1382.65 L432.0,1382.51 L429.8,1382.39 L427.6,1382.28 L425.5,1382.18 L423.3,1382.10 L421.2,1382.02 L419.0,1381.95 L416.9,1381.90 L414.7,1381.84 L412.6,1381.79 L410.4,1381.75 L408.3,1381.71 L406.1,1381.68 L404.0,1381.64 L401.8,1381.61Z" fill="#A8A8D0"/><path d="M367.0,1427.16 L369.1,1427.13 L371.2,1427.10 L373.3,1427.07 L375.4,1427.03 L377.5,1426.99 L379.6,1426.94 L381.7,1426.89 L383.9,1426.83 L386.0,1426.76 L388.1,1426.69 L390.2,1426.61 L392.3,1426.52 L394.4,1426.41 L396.5,1426.29 L398.6,1426.16 L400.7,1426.01 L402.8,1425.84 L404.9,1425.66 L407.0,1425.45 L409.1,1425.22 L411.2,1424.96 L413.3,1424.68 L415.5,1424.36 L417.6,1424.02 L419.7,1423.65 L421.8,1423.25 L423.9,1422.81 L426.0,1422.35 L428.1,1421.85 L430.2,1421.31 L432.3,1420.75 L434.4,1420.16 L436.5,1419.54 L438.6,1418.90 L440.7,1418.24 L442.8,1417.55 L444.9,1416.86 L447.1,1416.15 L449.2,1415.43 L451.3,1414.71 L453.4,1414.00 L455.5,1413.29 L457.6,1412.60 L459.7,1411.92 L461.8,1411.27 L463.9,1410.65 L466.0,1410.06 L468.1,1409.50 L470.2,1408.99 L472.3,1408.52 L474.4,1408.10 L476.5,1407.73 L478.7,1407.41 L480.8,1407.14 L482.9,1406.92 L485.0,1406.75 L487.1,1406.63 L489.2,1406.56 L491.3,1406.52 L492.5,1406.52 L493.4,1406.52 L495.5,1406.55 L497.6,1406.61 L499.7,1406.72 L501.8,1406.88 L503.9,1407.08 L506.0,1407.33 L508.1,1407.64 L510.3,1407.99 L512.4,1408.39 L514.5,1408.84 L516.6,1409.33 L518.7,1409.86 L520.8,1410.43 L522.9,1411.03 L525.0,1411.66 L527.1,1412.32 L529.2,1412.99 L531.3,1413.68 L533.4,1414.38 L535.5,1415.09 L537.6,1415.79 L539.7,1416.49 L541.9,1417.19 L544.0,1417.87 L546.1,1418.53 L548.2,1419.18 L550.3,1419.80 L552.4,1420.40 L554.5,1420.97 L556.6,1421.51 L558.7,1422.02 L560.8,1422.50 L562.9,1422.95 L565.0,1423.37 L567.1,1423.76 L569.2,1424.11 L571.3,1424.44 L573.5,1424.74 L575.6,1425.02 L577.7,1425.26 L579.8,1425.49 L581.9,1425.69 L584.0,1425.87 L586.1,1426.03 L588.2,1426.18 L590.3,1426.31 L592.4,1426.42 L594.5,1426.52 L596.6,1426.61 L598.7,1426.69 L600.8,1426.77 L602.9,1426.83 L605.1,1426.89 L607.2,1426.94 L609.3,1426.98 L611.4,1427.02 L613.5,1427.06 L615.6,1427.10 L617.7,1427.13 L619.8,1427.16 L619.8,1428.48 L617.7,1428.51 L615.6,1428.54 L613.5,1428.58 L611.4,1428.62 L609.3,1428.66 L607.2,1428.70 L605.1,1428.75 L602.9,1428.81 L600.8,1428.87 L598.7,1428.95 L596.6,1429.03 L594.5,1429.12 L592.4,1429.22 L590.3,1429.33 L588.2,1429.46 L586.1,1429.61 L584.0,1429.77 L581.9,1429.95 L579.8,1430.15 L577.7,1430.38 L575.6,1430.62 L573.5,1430.90 L571.3,1431.20 L569.2,1431.53 L567.1,1431.88 L565.0,1432.27 L562.9,1432.69 L560.8,1433.14 L558.7,1433.62 L556.6,1434.13 L554.5,1434.67 L552.4,1435.24 L550.3,1435.84 L548.2,1436.46 L546.1,1437.11 L544.0,1437.77 L541.9,1438.45 L539.7,1439.15 L537.6,1439.85 L535.5,1440.55 L533.4,1441.26 L531.3,1441.96 L529.2,1442.65 L527.1,1443.32 L525.0,1443.98 L522.9,1444.61 L520.8,1445.21 L518.7,1445.78 L516.6,1446.31 L514.5,1446.80 L512.4,1447.25 L510.3,1447.65 L508.1,1448.00 L506.0,1448.31 L503.9,1448.56 L501.8,1448.76 L499.7,1448.92 L497.6,1449.03 L495.5,1449.09 L493.4,1449.12 L492.5,1449.12 L491.3,1449.12 L489.2,1449.08 L487.1,1449.01 L485.0,1448.89 L482.9,1448.72 L480.8,1448.50 L478.7,1448.23 L476.5,1447.91 L474.4,1447.54 L472.3,1447.12 L470.2,1446.65 L468.1,1446.14 L466.0,1445.58 L463.9,1444.99 L461.8,1444.37 L459.7,1443.72 L457.6,1443.04 L455.5,1442.35 L453.4,1441.64 L451.3,1440.93 L449.2,1440.21 L447.1,1439.49 L444.9,1438.78 L442.8,1438.09 L440.7,1437.40 L438.6,1436.74 L436.5,1436.10 L434.4,1435.48 L432.3,1434.89 L430.2,1434.33 L428.1,1433.79 L426.0,1433.29 L423.9,1432.83 L421.8,1432.39 L419.7,1431.99 L417.6,1431.62 L415.5,1431.28 L413.3,1430.96 L411.2,1430.68 L409.1,1430.42 L407.0,1430.19 L404.9,1429.98 L402.8,1429.80 L400.7,1429.63 L398.6,1429.48 L396.5,1429.35 L394.4,1429.23 L392.3,1429.12 L390.2,1429.03 L388.1,1428.95 L386.0,1428.88 L383.9,1428.81 L381.7,1428.75 L379.6,1428.70 L377.5,1428.65 L375.4,1428.61 L373.3,1428.57 L371.2,1428.54 L369.1,1428.51 L367.0,1428.48Z" fill="#A8A8D0"/><rect x="550.3" y="910.20" width="132.0" height="4.1" fill="#000"/><rect x="592.8" y="907.55" width="45.2" height="9.4" fill="#000"/><circle cx="613.3" cy="912.25" r="10.2" fill="#000"/><circle cx="613.3" cy="912.25" r="7.2" fill="#fff"/><rect x="719.4" y="957.07" width="168.6" height="4.1" fill="#000"/><rect x="781.0" y="954.42" width="58.0" height="9.4" fill="#000"/><circle cx="810.9" cy="959.12" r="10.2" fill="#000"/><circle cx="810.9" cy="959.12" r="7.2" fill="#fff"/><rect x="541.5" y="1003.94" width="107.3" height="4.1" fill="#000"/><rect x="576.2" y="1001.29" width="37.1" height="9.4" fill="#000"/><circle cx="594.0" cy="1005.99" r="10.2" fill="#000"/><circle cx="594.0" cy="1005.99" r="7.2" fill="#fff"/><rect x="521.4" y="1050.81" width="77.2" height="4.1" fill="#000"/><rect x="548.4" y="1048.16" width="25.1" height="9.4" fill="#000"/><circle cx="559.2" cy="1052.86" r="10.2" fill="#000"/><circle cx="559.2" cy="1052.86" r="7.2" fill="#fff"/><rect x="563.9" y="1097.68" width="125.4" height="4.1" fill="#000"/><rect x="605.5" y="1095.03" width="41.3" height="9.4" fill="#000"/><circle cx="624.8" cy="1099.73" r="10.2" fill="#000"/><circle cx="624.8" cy="1099.73" r="7.2" fill="#fff"/><rect x="475.9" y="1144.55" width="94.9" height="4.1" fill="#000"/><rect x="509.0" y="1141.90" width="29.8" height="9.4" fill="#000"/><circle cx="523.7" cy="1146.60" r="10.2" fill="#000"/><circle cx="523.7" cy="1146.60" r="7.2" fill="#fff"/><rect x="651.8" y="1191.42" width="78.0" height="4.1" fill="#000"/><rect x="676.5" y="1188.77" width="26.3" height="9.4" fill="#000"/><circle cx="688.5" cy="1193.47" r="10.2" fill="#000"/><circle cx="688.5" cy="1193.47" r="7.2" fill="#fff"/><rect x="706.7" y="1238.29" width="171.7" height="4.1" fill="#000"/><rect x="761.8" y="1235.64" width="59.5" height="9.4" fill="#000"/><circle cx="791.6" cy="1240.34" r="10.2" fill="#000"/><circle cx="791.6" cy="1240.34" r="7.2" fill="#fff"/><rect x="512.5" y="1285.16" width="154.8" height="4.1" fill="#000"/><rect x="562.0" y="1282.51" width="53.2" height="9.4" fill="#000"/><circle cx="588.2" cy="1287.21" r="10.2" fill="#000"/><circle cx="588.2" cy="1287.21" r="7.2" fill="#fff"/><rect x="498.2" y="1332.03" width="235.5" height="4.1" fill="#000"/><rect x="578.1" y="1329.38" width="81.5" height="9.4" fill="#000"/><circle cx="618.7" cy="1334.08" r="10.2" fill="#000"/><circle cx="618.7" cy="1334.08" r="7.2" fill="#fff"/><rect x="449.2" y="1378.90" width="162.1" height="4.1" fill="#000"/><rect x="503.3" y="1376.25" width="54.7" height="9.4" fill="#000"/><circle cx="530.3" cy="1380.95" r="10.2" fill="#000"/><circle cx="530.3" cy="1380.95" r="7.2" fill="#fff"/><rect x="414.0" y="1425.77" width="158.3" height="4.1" fill="#000"/><rect x="463.5" y="1423.12" width="54.0" height="9.4" fill="#000"/><circle cx="490.5" cy="1427.82" r="10.2" fill="#000"/><circle cx="490.5" cy="1427.82" r="7.2" fill="#fff"/><rect x="336" y="884.9" width="677" height="570.4" fill="none" stroke="#000" stroke-width="2"/><line x1="452.5" x2="452.5" y1="1455.3" y2="1463.8" stroke="#000" stroke-width="2"/><text transform="translate(452.5,1498.3) scale(1,1.03)" font-size="29" text-anchor="middle" class="t"><tspan dy="2.6">−</tspan><tspan dy="-2.6">0.4</tspan></text><line x1="588.2" x2="588.2" y1="1455.3" y2="1463.8" stroke="#000" stroke-width="2"/><text transform="translate(588.2,1498.3) scale(1,1.03)" font-size="29" text-anchor="middle" class="t">0.0</text><line x1="723.9" x2="723.9" y1="1455.3" y2="1463.8" stroke="#000" stroke-width="2"/><text transform="translate(723.9,1498.3) scale(1,1.03)" font-size="29" text-anchor="middle" class="t">0.4</text><line x1="859.6" x2="859.6" y1="1455.3" y2="1463.8" stroke="#000" stroke-width="2"/><text transform="translate(859.6,1498.3) scale(1,1.03)" font-size="29" text-anchor="middle" class="t">0.8</text><line x1="995.4" x2="995.4" y1="1455.3" y2="1463.8" stroke="#000" stroke-width="2"/><text transform="translate(995.4,1498.3) scale(1,1.03)" font-size="29" text-anchor="middle" class="t">1.2</text><line x1="326.4" x2="336" y1="912.25" y2="912.25" stroke="#000" stroke-width="2"/><text transform="translate(315.0,921.4) scale(1,1.04)" font-size="29.1" text-anchor="end" class="t">PDO</text><line x1="326.4" x2="336" y1="959.12" y2="959.12" stroke="#000" stroke-width="2"/><text transform="translate(315.0,968.2) scale(1,1.04)" font-size="29.1" text-anchor="end" class="t">NPGO</text><line x1="326.4" x2="336" y1="1005.99" y2="1005.99" stroke="#000" stroke-width="2"/><text transform="translate(315.0,1015.1) scale(1,1.04)" font-size="29.1" text-anchor="end" class="t">MEI</text><line x1="326.4" x2="336" y1="1052.86" y2="1052.86" stroke="#000" stroke-width="2"/><text transform="translate(315.0,1062.0) scale(1,1.04)" font-size="29.1" text-anchor="end" class="t">MEIw</text><line x1="326.4" x2="336" y1="1099.73" y2="1099.73" stroke="#000" stroke-width="2"/><text transform="translate(315.0,1108.8) scale(1,1.04)" font-size="29.1" text-anchor="end" class="t">Being sea ice cover</text><line x1="326.4" x2="336" y1="1146.60" y2="1146.60" stroke="#000" stroke-width="2"/><text transform="translate(315.0,1155.7) scale(1,1.04)" font-size="29.1" text-anchor="end" class="t">Summer air temperature</text><line x1="326.4" x2="336" y1="1193.47" y2="1193.47" stroke="#000" stroke-width="2"/><text transform="translate(315.0,1202.6) scale(1,1.04)" font-size="29.1" text-anchor="end" class="t">Nearhsore summer SST</text><line x1="326.4" x2="336" y1="1240.34" y2="1240.34" stroke="#000" stroke-width="2"/><text transform="translate(315.0,1249.4) scale(1,1.04)" font-size="29.1" text-anchor="end" class="t">North Pacific sockeye</text><line x1="326.4" x2="336" y1="1287.21" y2="1287.21" stroke="#000" stroke-width="2"/><text transform="translate(315.0,1296.3) scale(1,1.04)" font-size="29.1" text-anchor="end" class="t">North Pacific pink</text><line x1="326.4" x2="336" y1="1334.08" y2="1334.08" stroke="#000" stroke-width="2"/><text transform="translate(315.0,1343.2) scale(1,1.04)" font-size="29.1" text-anchor="end" class="t">Noth Pacific chum</text><line x1="326.4" x2="336" y1="1380.95" y2="1380.95" stroke="#000" stroke-width="2"/><text transform="translate(315.0,1390.0) scale(1,1.04)" font-size="29.1" text-anchor="end" class="t">Alaska pink</text><line x1="326.4" x2="336" y1="1427.82" y2="1427.82" stroke="#000" stroke-width="2"/><text transform="translate(315.0,1436.9) scale(1,1.04)" font-size="29.1" text-anchor="end" class="t">Alaska chum</text><rect x="1031" y="829.3" width="679" height="56.6" fill="#000"/><text transform="translate(1370.5,865.5) scale(1,1.05)" font-size="29" text-anchor="middle" class="t" style="fill:#fff">Sockeye</text><line x1="1032" x2="1709" y1="912.25" y2="912.25" stroke="#bbbbbb" stroke-width="1"/><line x1="1032" x2="1709" y1="959.12" y2="959.12" stroke="#bbbbbb" stroke-width="1"/><line x1="1032" x2="1709" y1="1005.99" y2="1005.99" stroke="#bbbbbb" stroke-width="1"/><line x1="1032" x2="1709" y1="1052.86" y2="1052.86" stroke="#bbbbbb" stroke-width="1"/><line x1="1032" x2="1709" y1="1099.73" y2="1099.73" stroke="#bbbbbb" stroke-width="1"/><line x1="1032" x2="1709" y1="1146.60" y2="1146.60" stroke="#bbbbbb" stroke-width="1"/><line x1="1032" x2="1709" y1="1193.47" y2="1193.47" stroke="#bbbbbb" stroke-width="1"/><line x1="1032" x2="1709" y1="1240.34" y2="1240.34" stroke="#bbbbbb" stroke-width="1"/><line x1="1032" x2="1709" y1="1287.21" y2="1287.21" stroke="#bbbbbb" stroke-width="1"/><line x1="1032" x2="1709" y1="1334.08" y2="1334.08" stroke="#bbbbbb" stroke-width="1"/><line x1="1032" x2="1709" y1="1380.95" y2="1380.95" stroke="#bbbbbb" stroke-width="1"/><line x1="1032" x2="1709" y1="1427.82" y2="1427.82" stroke="#bbbbbb" stroke-width="1"/><line x1="1382.5" x2="1382.5" y1="885.9" y2="1455.3" stroke="#ff0000" stroke-width="4"/><path d="M1239.7,911.77 L1240.6,911.75 L1241.6,911.73 L1242.5,911.70 L1243.4,911.68 L1244.3,911.65 L1245.3,911.62 L1246.2,911.59 L1247.1,911.55 L1248.0,911.52 L1249.0,911.48 L1249.9,911.43 L1250.8,911.38 L1251.8,911.32 L1252.7,911.26 L1253.6,911.18 L1254.5,911.10 L1255.5,911.00 L1256.4,910.89 L1257.3,910.77 L1258.2,910.63 L1259.2,910.46 L1260.1,910.28 L1261.0,910.06 L1262.0,909.83 L1262.9,909.56 L1263.8,909.26 L1264.7,908.92 L1265.7,908.55 L1266.6,908.14 L1267.5,907.69 L1268.5,907.20 L1269.4,906.67 L1270.3,906.10 L1271.2,905.49 L1272.2,904.84 L1273.1,904.16 L1274.0,903.45 L1274.9,902.70 L1275.9,901.94 L1276.8,901.15 L1277.7,900.35 L1278.7,899.55 L1279.6,898.74 L1280.5,897.95 L1281.4,897.16 L1282.4,896.40 L1283.3,895.67 L1284.2,894.97 L1285.1,894.32 L1286.1,893.72 L1287.0,893.16 L1287.9,892.67 L1288.9,892.24 L1289.8,891.87 L1290.7,891.56 L1291.6,891.32 L1292.6,891.14 L1293.5,891.03 L1294.4,890.97 L1295.3,890.95 L1295.3,890.95 L1296.3,890.97 L1297.2,891.03 L1298.1,891.14 L1299.1,891.31 L1300.0,891.53 L1300.9,891.81 L1301.8,892.16 L1302.8,892.56 L1303.7,893.02 L1304.6,893.53 L1305.6,894.09 L1306.5,894.70 L1307.4,895.35 L1308.3,896.03 L1309.3,896.74 L1310.2,897.48 L1311.1,898.24 L1312.0,899.00 L1313.0,899.77 L1313.9,900.54 L1314.8,901.30 L1315.8,902.05 L1316.7,902.78 L1317.6,903.49 L1318.5,904.17 L1319.5,904.83 L1320.4,905.45 L1321.3,906.03 L1322.2,906.58 L1323.2,907.10 L1324.1,907.58 L1325.0,908.02 L1326.0,908.42 L1326.9,908.79 L1327.8,909.12 L1328.7,909.42 L1329.7,909.69 L1330.6,909.94 L1331.5,910.15 L1332.5,910.35 L1333.4,910.52 L1334.3,910.67 L1335.2,910.80 L1336.2,910.92 L1337.1,911.02 L1338.0,911.11 L1338.9,911.19 L1339.9,911.26 L1340.8,911.32 L1341.7,911.38 L1342.7,911.43 L1343.6,911.47 L1344.5,911.51 L1345.4,911.55 L1346.4,911.58 L1347.3,911.61 L1348.2,911.64 L1349.1,911.66 L1350.1,911.69 L1351.0,911.71 L1351.0,912.79 L1350.1,912.81 L1349.1,912.84 L1348.2,912.86 L1347.3,912.89 L1346.4,912.92 L1345.4,912.95 L1344.5,912.99 L1343.6,913.03 L1342.7,913.07 L1341.7,913.12 L1340.8,913.18 L1339.9,913.24 L1338.9,913.31 L1338.0,913.39 L1337.1,913.48 L1336.2,913.58 L1335.2,913.70 L1334.3,913.83 L1333.4,913.98 L1332.5,914.15 L1331.5,914.35 L1330.6,914.56 L1329.7,914.81 L1328.7,915.08 L1327.8,915.38 L1326.9,915.71 L1326.0,916.08 L1325.0,916.48 L1324.1,916.92 L1323.2,917.40 L1322.2,917.92 L1321.3,918.47 L1320.4,919.05 L1319.5,919.67 L1318.5,920.33 L1317.6,921.01 L1316.7,921.72 L1315.8,922.45 L1314.8,923.20 L1313.9,923.96 L1313.0,924.73 L1312.0,925.50 L1311.1,926.26 L1310.2,927.02 L1309.3,927.76 L1308.3,928.47 L1307.4,929.15 L1306.5,929.80 L1305.6,930.41 L1304.6,930.97 L1303.7,931.48 L1302.8,931.94 L1301.8,932.34 L1300.9,932.69 L1300.0,932.97 L1299.1,933.19 L1298.1,933.36 L1297.2,933.47 L1296.3,933.53 L1295.3,933.55 L1295.3,933.55 L1294.4,933.53 L1293.5,933.47 L1292.6,933.36 L1291.6,933.18 L1290.7,932.94 L1289.8,932.63 L1288.9,932.26 L1287.9,931.83 L1287.0,931.34 L1286.1,930.78 L1285.1,930.18 L1284.2,929.53 L1283.3,928.83 L1282.4,928.10 L1281.4,927.34 L1280.5,926.55 L1279.6,925.76 L1278.7,924.95 L1277.7,924.15 L1276.8,923.35 L1275.9,922.56 L1274.9,921.80 L1274.0,921.05 L1273.1,920.34 L1272.2,919.66 L1271.2,919.01 L1270.3,918.40 L1269.4,917.83 L1268.5,917.30 L1267.5,916.81 L1266.6,916.36 L1265.7,915.95 L1264.7,915.58 L1263.8,915.24 L1262.9,914.94 L1262.0,914.67 L1261.0,914.44 L1260.1,914.22 L1259.2,914.04 L1258.2,913.87 L1257.3,913.73 L1256.4,913.61 L1255.5,913.50 L1254.5,913.40 L1253.6,913.32 L1252.7,913.24 L1251.8,913.18 L1250.8,913.12 L1249.9,913.07 L1249.0,913.02 L1248.0,912.98 L1247.1,912.95 L1246.2,912.91 L1245.3,912.88 L1244.3,912.85 L1243.4,912.82 L1242.5,912.80 L1241.6,912.77 L1240.6,912.75 L1239.7,912.73Z" fill="#F8AE93"/><path d="M1293.3,958.73 L1294.4,958.71 L1295.6,958.69 L1296.7,958.67 L1297.8,958.65 L1298.9,958.62 L1300.1,958.60 L1301.2,958.58 L1302.3,958.55 L1303.4,958.52 L1304.6,958.49 L1305.7,958.46 L1306.8,958.43 L1308.0,958.39 L1309.1,958.35 L1310.2,958.30 L1311.3,958.25 L1312.5,958.19 L1313.6,958.12 L1314.7,958.05 L1315.8,957.96 L1317.0,957.86 L1318.1,957.74 L1319.2,957.61 L1320.4,957.46 L1321.5,957.28 L1322.6,957.09 L1323.7,956.86 L1324.9,956.61 L1326.0,956.32 L1327.1,956.00 L1328.3,955.64 L1329.4,955.24 L1330.5,954.80 L1331.6,954.32 L1332.8,953.80 L1333.9,953.23 L1335.0,952.62 L1336.1,951.97 L1337.3,951.29 L1338.4,950.57 L1339.5,949.81 L1340.7,949.03 L1341.8,948.23 L1342.9,947.42 L1344.0,946.59 L1345.2,945.77 L1346.3,944.95 L1347.4,944.14 L1348.5,943.36 L1349.7,942.60 L1350.8,941.89 L1351.9,941.21 L1353.1,940.59 L1354.2,940.03 L1355.3,939.52 L1356.4,939.08 L1357.6,938.70 L1358.7,938.40 L1359.8,938.16 L1360.9,937.99 L1362.1,937.88 L1363.2,937.83 L1364.0,937.82 L1364.3,937.82 L1365.5,937.85 L1366.6,937.94 L1367.7,938.08 L1368.8,938.29 L1370.0,938.56 L1371.1,938.90 L1372.2,939.31 L1373.4,939.79 L1374.5,940.32 L1375.6,940.92 L1376.7,941.56 L1377.9,942.26 L1379.0,942.99 L1380.1,943.75 L1381.2,944.55 L1382.4,945.36 L1383.5,946.17 L1384.6,947.00 L1385.8,947.81 L1386.9,948.62 L1388.0,949.41 L1389.1,950.17 L1390.3,950.90 L1391.4,951.61 L1392.5,952.27 L1393.6,952.90 L1394.8,953.49 L1395.9,954.03 L1397.0,954.53 L1398.2,954.99 L1399.3,955.41 L1400.4,955.79 L1401.5,956.13 L1402.7,956.44 L1403.8,956.71 L1404.9,956.95 L1406.0,957.17 L1407.2,957.35 L1408.3,957.52 L1409.4,957.66 L1410.6,957.79 L1411.7,957.90 L1412.8,957.99 L1413.9,958.07 L1415.1,958.15 L1416.2,958.21 L1417.3,958.27 L1418.5,958.32 L1419.6,958.36 L1420.7,958.40 L1421.8,958.44 L1423.0,958.47 L1424.1,958.50 L1425.2,958.53 L1426.3,958.56 L1427.5,958.58 L1428.6,958.61 L1428.6,959.63 L1427.5,959.66 L1426.3,959.68 L1425.2,959.71 L1424.1,959.74 L1423.0,959.77 L1421.8,959.80 L1420.7,959.84 L1419.6,959.88 L1418.5,959.92 L1417.3,959.97 L1416.2,960.03 L1415.1,960.09 L1413.9,960.17 L1412.8,960.25 L1411.7,960.34 L1410.6,960.45 L1409.4,960.58 L1408.3,960.72 L1407.2,960.89 L1406.0,961.07 L1404.9,961.29 L1403.8,961.53 L1402.7,961.80 L1401.5,962.11 L1400.4,962.45 L1399.3,962.83 L1398.2,963.25 L1397.0,963.71 L1395.9,964.21 L1394.8,964.75 L1393.6,965.34 L1392.5,965.97 L1391.4,966.63 L1390.3,967.34 L1389.1,968.07 L1388.0,968.83 L1386.9,969.62 L1385.8,970.43 L1384.6,971.24 L1383.5,972.07 L1382.4,972.88 L1381.2,973.69 L1380.1,974.49 L1379.0,975.25 L1377.9,975.98 L1376.7,976.68 L1375.6,977.32 L1374.5,977.92 L1373.4,978.45 L1372.2,978.93 L1371.1,979.34 L1370.0,979.68 L1368.8,979.95 L1367.7,980.16 L1366.6,980.30 L1365.5,980.39 L1364.3,980.42 L1364.0,980.42 L1363.2,980.41 L1362.1,980.36 L1360.9,980.25 L1359.8,980.08 L1358.7,979.84 L1357.6,979.54 L1356.4,979.16 L1355.3,978.72 L1354.2,978.21 L1353.1,977.65 L1351.9,977.03 L1350.8,976.35 L1349.7,975.64 L1348.5,974.88 L1347.4,974.10 L1346.3,973.29 L1345.2,972.47 L1344.0,971.65 L1342.9,970.82 L1341.8,970.01 L1340.7,969.21 L1339.5,968.43 L1338.4,967.67 L1337.3,966.95 L1336.1,966.27 L1335.0,965.62 L1333.9,965.01 L1332.8,964.44 L1331.6,963.92 L1330.5,963.44 L1329.4,963.00 L1328.3,962.60 L1327.1,962.24 L1326.0,961.92 L1324.9,961.63 L1323.7,961.38 L1322.6,961.15 L1321.5,960.96 L1320.4,960.78 L1319.2,960.63 L1318.1,960.50 L1317.0,960.38 L1315.8,960.28 L1314.7,960.19 L1313.6,960.12 L1312.5,960.05 L1311.3,959.99 L1310.2,959.94 L1309.1,959.89 L1308.0,959.85 L1306.8,959.81 L1305.7,959.78 L1304.6,959.75 L1303.4,959.72 L1302.3,959.69 L1301.2,959.66 L1300.1,959.64 L1298.9,959.62 L1297.8,959.59 L1296.7,959.57 L1295.6,959.55 L1294.4,959.53 L1293.3,959.51Z" fill="#F8AE93"/><path d="M1215.8,1005.55 L1216.5,1005.53 L1217.3,1005.51 L1218.0,1005.48 L1218.7,1005.46 L1219.4,1005.43 L1220.2,1005.41 L1220.9,1005.38 L1221.6,1005.35 L1222.4,1005.31 L1223.1,1005.28 L1223.8,1005.24 L1224.5,1005.19 L1225.3,1005.14 L1226.0,1005.09 L1226.7,1005.02 L1227.5,1004.95 L1228.2,1004.87 L1228.9,1004.77 L1229.7,1004.66 L1230.4,1004.54 L1231.1,1004.39 L1231.8,1004.23 L1232.6,1004.04 L1233.3,1003.82 L1234.0,1003.58 L1234.8,1003.30 L1235.5,1002.99 L1236.2,1002.65 L1236.9,1002.26 L1237.7,1001.83 L1238.4,1001.37 L1239.1,1000.86 L1239.9,1000.30 L1240.6,999.71 L1241.3,999.07 L1242.0,998.39 L1242.8,997.68 L1243.5,996.93 L1244.2,996.16 L1245.0,995.36 L1245.7,994.54 L1246.4,993.71 L1247.2,992.88 L1247.9,992.06 L1248.6,991.24 L1249.3,990.45 L1250.1,989.68 L1250.8,988.95 L1251.5,988.26 L1252.3,987.62 L1253.0,987.04 L1253.7,986.52 L1254.4,986.06 L1255.2,985.66 L1255.9,985.34 L1256.6,985.08 L1257.4,984.89 L1258.1,984.77 L1258.8,984.71 L1259.5,984.69 L1259.5,984.69 L1260.3,984.71 L1261.0,984.78 L1261.7,984.90 L1262.5,985.08 L1263.2,985.33 L1263.9,985.64 L1264.7,986.02 L1265.4,986.45 L1266.1,986.95 L1266.8,987.51 L1267.6,988.11 L1268.3,988.77 L1269.0,989.47 L1269.8,990.20 L1270.5,990.96 L1271.2,991.74 L1271.9,992.53 L1272.7,993.33 L1273.4,994.14 L1274.1,994.93 L1274.9,995.71 L1275.6,996.48 L1276.3,997.22 L1277.0,997.93 L1277.8,998.61 L1278.5,999.25 L1279.2,999.86 L1280.0,1000.42 L1280.7,1000.95 L1281.4,1001.44 L1282.2,1001.88 L1282.9,1002.29 L1283.6,1002.66 L1284.3,1003.00 L1285.1,1003.30 L1285.8,1003.56 L1286.5,1003.80 L1287.3,1004.01 L1288.0,1004.20 L1288.7,1004.36 L1289.4,1004.51 L1290.2,1004.63 L1290.9,1004.74 L1291.6,1004.84 L1292.4,1004.92 L1293.1,1005.00 L1293.8,1005.06 L1294.5,1005.12 L1295.3,1005.17 L1296.0,1005.21 L1296.7,1005.25 L1297.5,1005.29 L1298.2,1005.33 L1298.9,1005.36 L1299.7,1005.39 L1300.4,1005.41 L1301.1,1005.44 L1301.8,1005.46 L1302.6,1005.49 L1303.3,1005.51 L1303.3,1006.47 L1302.6,1006.49 L1301.8,1006.52 L1301.1,1006.54 L1300.4,1006.57 L1299.7,1006.59 L1298.9,1006.62 L1298.2,1006.65 L1297.5,1006.69 L1296.7,1006.73 L1296.0,1006.77 L1295.3,1006.81 L1294.5,1006.86 L1293.8,1006.92 L1293.1,1006.98 L1292.4,1007.06 L1291.6,1007.14 L1290.9,1007.24 L1290.2,1007.35 L1289.4,1007.47 L1288.7,1007.62 L1288.0,1007.78 L1287.3,1007.97 L1286.5,1008.18 L1285.8,1008.42 L1285.1,1008.68 L1284.3,1008.98 L1283.6,1009.32 L1282.9,1009.69 L1282.2,1010.10 L1281.4,1010.54 L1280.7,1011.03 L1280.0,1011.56 L1279.2,1012.12 L1278.5,1012.73 L1277.8,1013.37 L1277.0,1014.05 L1276.3,1014.76 L1275.6,1015.50 L1274.9,1016.27 L1274.1,1017.05 L1273.4,1017.84 L1272.7,1018.65 L1271.9,1019.45 L1271.2,1020.24 L1270.5,1021.02 L1269.8,1021.78 L1269.0,1022.51 L1268.3,1023.21 L1267.6,1023.87 L1266.8,1024.47 L1266.1,1025.03 L1265.4,1025.53 L1264.7,1025.96 L1263.9,1026.34 L1263.2,1026.65 L1262.5,1026.90 L1261.7,1027.08 L1261.0,1027.20 L1260.3,1027.27 L1259.5,1027.29 L1259.5,1027.29 L1258.8,1027.27 L1258.1,1027.21 L1257.4,1027.09 L1256.6,1026.90 L1255.9,1026.64 L1255.2,1026.32 L1254.4,1025.92 L1253.7,1025.46 L1253.0,1024.94 L1252.3,1024.36 L1251.5,1023.72 L1250.8,1023.03 L1250.1,1022.30 L1249.3,1021.53 L1248.6,1020.74 L1247.9,1019.92 L1247.2,1019.10 L1246.4,1018.27 L1245.7,1017.44 L1245.0,1016.62 L1244.2,1015.82 L1243.5,1015.05 L1242.8,1014.30 L1242.0,1013.59 L1241.3,1012.91 L1240.6,1012.27 L1239.9,1011.68 L1239.1,1011.12 L1238.4,1010.61 L1237.7,1010.15 L1236.9,1009.72 L1236.2,1009.33 L1235.5,1008.99 L1234.8,1008.68 L1234.0,1008.40 L1233.3,1008.16 L1232.6,1007.94 L1231.8,1007.75 L1231.1,1007.59 L1230.4,1007.44 L1229.7,1007.32 L1228.9,1007.21 L1228.2,1007.11 L1227.5,1007.03 L1226.7,1006.96 L1226.0,1006.89 L1225.3,1006.84 L1224.5,1006.79 L1223.8,1006.74 L1223.1,1006.70 L1222.4,1006.67 L1221.6,1006.63 L1220.9,1006.60 L1220.2,1006.57 L1219.4,1006.55 L1218.7,1006.52 L1218.0,1006.50 L1217.3,1006.47 L1216.5,1006.45 L1215.8,1006.43Z" fill="#F8AE93"/><path d="M1428.4,1052.23 L1429.1,1052.20 L1429.9,1052.17 L1430.6,1052.13 L1431.3,1052.09 L1432.0,1052.04 L1432.8,1051.99 L1433.5,1051.93 L1434.2,1051.86 L1435.0,1051.78 L1435.7,1051.70 L1436.4,1051.60 L1437.1,1051.48 L1437.9,1051.35 L1438.6,1051.20 L1439.3,1051.02 L1440.1,1050.82 L1440.8,1050.60 L1441.5,1050.34 L1442.2,1050.06 L1443.0,1049.73 L1443.7,1049.37 L1444.4,1048.98 L1445.2,1048.54 L1445.9,1048.06 L1446.6,1047.53 L1447.3,1046.97 L1448.1,1046.36 L1448.8,1045.71 L1449.5,1045.03 L1450.2,1044.30 L1451.0,1043.55 L1451.7,1042.77 L1452.4,1041.97 L1453.2,1041.16 L1453.9,1040.33 L1454.6,1039.51 L1455.3,1038.69 L1456.1,1037.88 L1456.8,1037.10 L1457.5,1036.35 L1458.3,1035.63 L1459.0,1034.96 L1459.7,1034.34 L1460.4,1033.77 L1461.2,1033.26 L1461.9,1032.82 L1462.6,1032.45 L1463.4,1032.14 L1464.1,1031.90 L1464.8,1031.73 L1465.5,1031.62 L1466.3,1031.57 L1466.8,1031.56 L1467.0,1031.56 L1467.7,1031.60 L1468.5,1031.70 L1469.2,1031.87 L1469.9,1032.13 L1470.6,1032.46 L1471.4,1032.88 L1472.1,1033.37 L1472.8,1033.95 L1473.6,1034.59 L1474.3,1035.29 L1475.0,1036.05 L1475.7,1036.86 L1476.5,1037.71 L1477.2,1038.59 L1477.9,1039.48 L1478.7,1040.38 L1479.4,1041.28 L1480.1,1042.17 L1480.8,1043.04 L1481.6,1043.88 L1482.3,1044.69 L1483.0,1045.45 L1483.8,1046.17 L1484.5,1046.85 L1485.2,1047.47 L1485.9,1048.05 L1486.7,1048.57 L1487.4,1049.05 L1488.1,1049.47 L1488.9,1049.85 L1489.6,1050.19 L1490.3,1050.49 L1491.0,1050.74 L1491.8,1050.97 L1492.5,1051.17 L1493.2,1051.33 L1494.0,1051.48 L1494.7,1051.61 L1495.4,1051.71 L1496.1,1051.81 L1496.9,1051.89 L1497.6,1051.96 L1498.3,1052.02 L1499.0,1052.07 L1499.8,1052.12 L1500.5,1052.16 L1501.2,1052.20 L1502.0,1052.23 L1502.7,1052.26 L1503.4,1052.29 L1504.1,1052.32 L1504.9,1052.35 L1505.6,1052.37 L1506.3,1052.40 L1507.1,1052.42 L1507.8,1052.44 L1508.5,1052.46 L1509.2,1052.48 L1510.0,1052.50 L1510.7,1052.52 L1511.4,1052.54 L1512.2,1052.56 L1512.9,1052.57 L1513.6,1052.59 L1514.3,1052.60 L1515.1,1052.62 L1515.8,1052.63 L1515.8,1053.09 L1515.1,1053.10 L1514.3,1053.12 L1513.6,1053.13 L1512.9,1053.15 L1512.2,1053.16 L1511.4,1053.18 L1510.7,1053.20 L1510.0,1053.22 L1509.2,1053.24 L1508.5,1053.26 L1507.8,1053.28 L1507.1,1053.30 L1506.3,1053.32 L1505.6,1053.35 L1504.9,1053.37 L1504.1,1053.40 L1503.4,1053.43 L1502.7,1053.46 L1502.0,1053.49 L1501.2,1053.52 L1500.5,1053.56 L1499.8,1053.60 L1499.0,1053.65 L1498.3,1053.70 L1497.6,1053.76 L1496.9,1053.83 L1496.1,1053.91 L1495.4,1054.01 L1494.7,1054.11 L1494.0,1054.24 L1493.2,1054.39 L1492.5,1054.55 L1491.8,1054.75 L1491.0,1054.98 L1490.3,1055.23 L1489.6,1055.53 L1488.9,1055.87 L1488.1,1056.25 L1487.4,1056.67 L1486.7,1057.15 L1485.9,1057.67 L1485.2,1058.25 L1484.5,1058.87 L1483.8,1059.55 L1483.0,1060.27 L1482.3,1061.03 L1481.6,1061.84 L1480.8,1062.68 L1480.1,1063.55 L1479.4,1064.44 L1478.7,1065.34 L1477.9,1066.24 L1477.2,1067.13 L1476.5,1068.01 L1475.7,1068.86 L1475.0,1069.67 L1474.3,1070.43 L1473.6,1071.13 L1472.8,1071.77 L1472.1,1072.35 L1471.4,1072.84 L1470.6,1073.26 L1469.9,1073.59 L1469.2,1073.85 L1468.5,1074.02 L1467.7,1074.12 L1467.0,1074.16 L1466.8,1074.16 L1466.3,1074.15 L1465.5,1074.10 L1464.8,1073.99 L1464.1,1073.82 L1463.4,1073.58 L1462.6,1073.27 L1461.9,1072.90 L1461.2,1072.46 L1460.4,1071.95 L1459.7,1071.38 L1459.0,1070.76 L1458.3,1070.09 L1457.5,1069.37 L1456.8,1068.62 L1456.1,1067.84 L1455.3,1067.03 L1454.6,1066.21 L1453.9,1065.39 L1453.2,1064.56 L1452.4,1063.75 L1451.7,1062.95 L1451.0,1062.17 L1450.2,1061.42 L1449.5,1060.69 L1448.8,1060.01 L1448.1,1059.36 L1447.3,1058.75 L1446.6,1058.19 L1445.9,1057.66 L1445.2,1057.18 L1444.4,1056.74 L1443.7,1056.35 L1443.0,1055.99 L1442.2,1055.66 L1441.5,1055.38 L1440.8,1055.12 L1440.1,1054.90 L1439.3,1054.70 L1438.6,1054.52 L1437.9,1054.37 L1437.1,1054.24 L1436.4,1054.12 L1435.7,1054.02 L1435.0,1053.94 L1434.2,1053.86 L1433.5,1053.79 L1432.8,1053.73 L1432.0,1053.68 L1431.3,1053.63 L1430.6,1053.59 L1429.9,1053.55 L1429.1,1053.52 L1428.4,1053.49Z" fill="#F8AE93"/><path d="M1370.5,1099.38 L1371.5,1099.36 L1372.5,1099.33 L1373.5,1099.31 L1374.5,1099.29 L1375.5,1099.27 L1376.6,1099.24 L1377.6,1099.21 L1378.6,1099.18 L1379.6,1099.15 L1380.6,1099.12 L1381.6,1099.09 L1382.6,1099.05 L1383.6,1099.01 L1384.6,1098.96 L1385.6,1098.91 L1386.6,1098.84 L1387.7,1098.77 L1388.7,1098.69 L1389.7,1098.60 L1390.7,1098.48 L1391.7,1098.35 L1392.7,1098.20 L1393.7,1098.02 L1394.7,1097.81 L1395.7,1097.56 L1396.7,1097.28 L1397.7,1096.96 L1398.8,1096.59 L1399.8,1096.17 L1400.8,1095.70 L1401.8,1095.17 L1402.8,1094.59 L1403.8,1093.95 L1404.8,1093.26 L1405.8,1092.51 L1406.8,1091.72 L1407.8,1090.87 L1408.8,1089.99 L1409.9,1089.08 L1410.9,1088.14 L1411.9,1087.19 L1412.9,1086.24 L1413.9,1085.30 L1414.9,1084.39 L1415.9,1083.50 L1416.9,1082.66 L1417.9,1081.88 L1418.9,1081.16 L1419.9,1080.52 L1421.0,1079.96 L1422.0,1079.49 L1423.0,1079.10 L1424.0,1078.81 L1425.0,1078.60 L1426.0,1078.48 L1427.0,1078.43 L1427.4,1078.43 L1428.0,1078.44 L1429.0,1078.49 L1430.0,1078.61 L1431.0,1078.79 L1432.1,1079.05 L1433.1,1079.39 L1434.1,1079.80 L1435.1,1080.29 L1436.1,1080.84 L1437.1,1081.46 L1438.1,1082.14 L1439.1,1082.88 L1440.1,1083.65 L1441.1,1084.47 L1442.2,1085.31 L1443.2,1086.17 L1444.2,1087.04 L1445.2,1087.91 L1446.2,1088.77 L1447.2,1089.62 L1448.2,1090.44 L1449.2,1091.23 L1450.2,1091.99 L1451.2,1092.71 L1452.2,1093.38 L1453.3,1094.01 L1454.3,1094.59 L1455.3,1095.13 L1456.3,1095.62 L1457.3,1096.06 L1458.3,1096.45 L1459.3,1096.81 L1460.3,1097.13 L1461.3,1097.40 L1462.3,1097.65 L1463.3,1097.86 L1464.4,1098.05 L1465.4,1098.21 L1466.4,1098.35 L1467.4,1098.47 L1468.4,1098.58 L1469.4,1098.67 L1470.4,1098.75 L1471.4,1098.81 L1472.4,1098.87 L1473.4,1098.93 L1474.4,1098.97 L1475.5,1099.02 L1476.5,1099.06 L1477.5,1099.09 L1478.5,1099.12 L1479.5,1099.15 L1480.5,1099.18 L1481.5,1099.21 L1482.5,1099.23 L1483.5,1099.25 L1484.5,1099.28 L1485.5,1099.30 L1486.6,1099.32 L1487.6,1099.34 L1488.6,1099.36 L1489.6,1099.38 L1490.6,1099.40 L1491.6,1099.41 L1491.6,1100.05 L1490.6,1100.06 L1489.6,1100.08 L1488.6,1100.10 L1487.6,1100.12 L1486.6,1100.14 L1485.5,1100.16 L1484.5,1100.18 L1483.5,1100.21 L1482.5,1100.23 L1481.5,1100.25 L1480.5,1100.28 L1479.5,1100.31 L1478.5,1100.34 L1477.5,1100.37 L1476.5,1100.40 L1475.5,1100.44 L1474.4,1100.49 L1473.4,1100.53 L1472.4,1100.59 L1471.4,1100.65 L1470.4,1100.71 L1469.4,1100.79 L1468.4,1100.88 L1467.4,1100.99 L1466.4,1101.11 L1465.4,1101.25 L1464.4,1101.41 L1463.3,1101.60 L1462.3,1101.81 L1461.3,1102.06 L1460.3,1102.33 L1459.3,1102.65 L1458.3,1103.01 L1457.3,1103.40 L1456.3,1103.84 L1455.3,1104.33 L1454.3,1104.87 L1453.3,1105.45 L1452.2,1106.08 L1451.2,1106.75 L1450.2,1107.47 L1449.2,1108.23 L1448.2,1109.02 L1447.2,1109.84 L1446.2,1110.69 L1445.2,1111.55 L1444.2,1112.42 L1443.2,1113.29 L1442.2,1114.15 L1441.1,1114.99 L1440.1,1115.81 L1439.1,1116.58 L1438.1,1117.32 L1437.1,1118.00 L1436.1,1118.62 L1435.1,1119.17 L1434.1,1119.66 L1433.1,1120.07 L1432.1,1120.41 L1431.0,1120.67 L1430.0,1120.85 L1429.0,1120.97 L1428.0,1121.02 L1427.4,1121.03 L1427.0,1121.03 L1426.0,1120.98 L1425.0,1120.86 L1424.0,1120.65 L1423.0,1120.36 L1422.0,1119.97 L1421.0,1119.50 L1419.9,1118.94 L1418.9,1118.30 L1417.9,1117.58 L1416.9,1116.80 L1415.9,1115.96 L1414.9,1115.07 L1413.9,1114.16 L1412.9,1113.22 L1411.9,1112.27 L1410.9,1111.32 L1409.9,1110.38 L1408.8,1109.47 L1407.8,1108.59 L1406.8,1107.74 L1405.8,1106.95 L1404.8,1106.20 L1403.8,1105.51 L1402.8,1104.87 L1401.8,1104.29 L1400.8,1103.76 L1399.8,1103.29 L1398.8,1102.87 L1397.7,1102.50 L1396.7,1102.18 L1395.7,1101.90 L1394.7,1101.65 L1393.7,1101.44 L1392.7,1101.26 L1391.7,1101.11 L1390.7,1100.98 L1389.7,1100.86 L1388.7,1100.77 L1387.7,1100.69 L1386.6,1100.62 L1385.6,1100.55 L1384.6,1100.50 L1383.6,1100.45 L1382.6,1100.41 L1381.6,1100.37 L1380.6,1100.34 L1379.6,1100.31 L1378.6,1100.28 L1377.6,1100.25 L1376.6,1100.22 L1375.5,1100.19 L1374.5,1100.17 L1373.5,1100.15 L1372.5,1100.13 L1371.5,1100.10 L1370.5,1100.08Z" fill="#F8AE93"/><path d="M1435.8,1146.06 L1436.4,1146.04 L1437.0,1146.01 L1437.6,1145.98 L1438.1,1145.96 L1438.7,1145.93 L1439.3,1145.89 L1439.9,1145.86 L1440.5,1145.82 L1441.1,1145.78 L1441.7,1145.73 L1442.3,1145.68 L1442.8,1145.62 L1443.4,1145.55 L1444.0,1145.48 L1444.6,1145.39 L1445.2,1145.29 L1445.8,1145.18 L1446.4,1145.06 L1447.0,1144.92 L1447.5,1144.76 L1448.1,1144.58 L1448.7,1144.38 L1449.3,1144.16 L1449.9,1143.91 L1450.5,1143.63 L1451.1,1143.32 L1451.7,1142.98 L1452.2,1142.61 L1452.8,1142.20 L1453.4,1141.76 L1454.0,1141.29 L1454.6,1140.78 L1455.2,1140.24 L1455.8,1139.66 L1456.4,1139.05 L1457.0,1138.41 L1457.5,1137.74 L1458.1,1137.05 L1458.7,1136.34 L1459.3,1135.61 L1459.9,1134.87 L1460.5,1134.12 L1461.1,1133.37 L1461.6,1132.63 L1462.2,1131.90 L1462.8,1131.18 L1463.4,1130.48 L1464.0,1129.81 L1464.6,1129.17 L1465.2,1128.58 L1465.8,1128.02 L1466.3,1127.51 L1466.9,1127.05 L1467.5,1126.64 L1468.1,1126.29 L1468.7,1125.99 L1469.3,1125.75 L1469.9,1125.56 L1470.5,1125.43 L1471.0,1125.34 L1471.6,1125.30 L1472.0,1125.30 L1472.2,1125.30 L1472.8,1125.33 L1473.4,1125.41 L1474.0,1125.53 L1474.6,1125.71 L1475.2,1125.95 L1475.8,1126.25 L1476.3,1126.60 L1476.9,1127.02 L1477.5,1127.48 L1478.1,1128.00 L1478.7,1128.57 L1479.3,1129.18 L1479.9,1129.83 L1480.5,1130.51 L1481.0,1131.22 L1481.6,1131.96 L1482.2,1132.71 L1482.8,1133.47 L1483.4,1134.23 L1484.0,1134.99 L1484.6,1135.74 L1485.1,1136.48 L1485.7,1137.20 L1486.3,1137.90 L1486.9,1138.58 L1487.5,1139.22 L1488.1,1139.83 L1488.7,1140.41 L1489.3,1140.96 L1489.8,1141.46 L1490.4,1141.93 L1491.0,1142.37 L1491.6,1142.77 L1492.2,1143.13 L1492.8,1143.46 L1493.4,1143.76 L1494.0,1144.03 L1494.5,1144.28 L1495.1,1144.49 L1495.7,1144.68 L1496.3,1144.85 L1496.9,1145.01 L1497.5,1145.14 L1498.1,1145.26 L1498.7,1145.36 L1499.2,1145.45 L1499.8,1145.53 L1500.4,1145.60 L1501.0,1145.66 L1501.6,1145.72 L1502.2,1145.77 L1502.8,1145.81 L1503.4,1145.85 L1504.0,1145.89 L1504.5,1145.92 L1505.1,1145.95 L1505.7,1145.98 L1506.3,1146.01 L1506.3,1147.19 L1505.7,1147.22 L1505.1,1147.25 L1504.5,1147.28 L1504.0,1147.31 L1503.4,1147.35 L1502.8,1147.39 L1502.2,1147.43 L1501.6,1147.48 L1501.0,1147.54 L1500.4,1147.60 L1499.8,1147.67 L1499.2,1147.75 L1498.7,1147.84 L1498.1,1147.94 L1497.5,1148.06 L1496.9,1148.19 L1496.3,1148.35 L1495.7,1148.52 L1495.1,1148.71 L1494.5,1148.92 L1494.0,1149.17 L1493.4,1149.44 L1492.8,1149.74 L1492.2,1150.07 L1491.6,1150.43 L1491.0,1150.83 L1490.4,1151.27 L1489.8,1151.74 L1489.3,1152.24 L1488.7,1152.79 L1488.1,1153.37 L1487.5,1153.98 L1486.9,1154.62 L1486.3,1155.30 L1485.7,1156.00 L1485.1,1156.72 L1484.6,1157.46 L1484.0,1158.21 L1483.4,1158.97 L1482.8,1159.73 L1482.2,1160.49 L1481.6,1161.24 L1481.0,1161.98 L1480.5,1162.69 L1479.9,1163.37 L1479.3,1164.02 L1478.7,1164.63 L1478.1,1165.20 L1477.5,1165.72 L1476.9,1166.18 L1476.3,1166.60 L1475.8,1166.95 L1475.2,1167.25 L1474.6,1167.49 L1474.0,1167.67 L1473.4,1167.79 L1472.8,1167.87 L1472.2,1167.90 L1472.0,1167.90 L1471.6,1167.90 L1471.0,1167.86 L1470.5,1167.77 L1469.9,1167.64 L1469.3,1167.45 L1468.7,1167.21 L1468.1,1166.91 L1467.5,1166.56 L1466.9,1166.15 L1466.3,1165.69 L1465.8,1165.18 L1465.2,1164.62 L1464.6,1164.03 L1464.0,1163.39 L1463.4,1162.72 L1462.8,1162.02 L1462.2,1161.30 L1461.6,1160.57 L1461.1,1159.83 L1460.5,1159.08 L1459.9,1158.33 L1459.3,1157.59 L1458.7,1156.86 L1458.1,1156.15 L1457.5,1155.46 L1457.0,1154.79 L1456.4,1154.15 L1455.8,1153.54 L1455.2,1152.96 L1454.6,1152.42 L1454.0,1151.91 L1453.4,1151.44 L1452.8,1151.00 L1452.2,1150.59 L1451.7,1150.22 L1451.1,1149.88 L1450.5,1149.57 L1449.9,1149.29 L1449.3,1149.04 L1448.7,1148.82 L1448.1,1148.62 L1447.5,1148.44 L1447.0,1148.28 L1446.4,1148.14 L1445.8,1148.02 L1445.2,1147.91 L1444.6,1147.81 L1444.0,1147.72 L1443.4,1147.65 L1442.8,1147.58 L1442.3,1147.52 L1441.7,1147.47 L1441.1,1147.42 L1440.5,1147.38 L1439.9,1147.34 L1439.3,1147.31 L1438.7,1147.27 L1438.1,1147.24 L1437.6,1147.22 L1437.0,1147.19 L1436.4,1147.16 L1435.8,1147.14Z" fill="#B5E3E0"/><path d="M1275.7,1192.81 L1276.3,1192.78 L1277.0,1192.74 L1277.6,1192.70 L1278.3,1192.66 L1278.9,1192.61 L1279.5,1192.56 L1280.2,1192.50 L1280.8,1192.43 L1281.4,1192.35 L1282.1,1192.26 L1282.7,1192.16 L1283.4,1192.04 L1284.0,1191.91 L1284.6,1191.76 L1285.3,1191.59 L1285.9,1191.40 L1286.6,1191.18 L1287.2,1190.93 L1287.8,1190.66 L1288.5,1190.35 L1289.1,1190.01 L1289.7,1189.64 L1290.4,1189.23 L1291.0,1188.78 L1291.7,1188.29 L1292.3,1187.77 L1292.9,1187.21 L1293.6,1186.61 L1294.2,1185.97 L1294.8,1185.31 L1295.5,1184.61 L1296.1,1183.88 L1296.8,1183.14 L1297.4,1182.37 L1298.0,1181.60 L1298.7,1180.81 L1299.3,1180.03 L1300.0,1179.26 L1300.6,1178.49 L1301.2,1177.75 L1301.9,1177.03 L1302.5,1176.35 L1303.1,1175.70 L1303.8,1175.10 L1304.4,1174.55 L1305.1,1174.05 L1305.7,1173.61 L1306.3,1173.22 L1307.0,1172.90 L1307.6,1172.64 L1308.3,1172.44 L1308.9,1172.30 L1309.5,1172.21 L1310.2,1172.17 L1310.5,1172.17 L1310.8,1172.17 L1311.4,1172.21 L1312.1,1172.30 L1312.7,1172.44 L1313.4,1172.65 L1314.0,1172.91 L1314.6,1173.24 L1315.3,1173.64 L1315.9,1174.09 L1316.6,1174.60 L1317.2,1175.17 L1317.8,1175.78 L1318.5,1176.44 L1319.1,1177.14 L1319.7,1177.87 L1320.4,1178.63 L1321.0,1179.41 L1321.7,1180.20 L1322.3,1180.99 L1322.9,1181.78 L1323.6,1182.57 L1324.2,1183.34 L1324.9,1184.09 L1325.5,1184.82 L1326.1,1185.52 L1326.8,1186.18 L1327.4,1186.81 L1328.0,1187.41 L1328.7,1187.97 L1329.3,1188.48 L1330.0,1188.96 L1330.6,1189.40 L1331.2,1189.80 L1331.9,1190.16 L1332.5,1190.49 L1333.2,1190.79 L1333.8,1191.05 L1334.4,1191.29 L1335.1,1191.50 L1335.7,1191.68 L1336.3,1191.84 L1337.0,1191.98 L1337.6,1192.11 L1338.3,1192.22 L1338.9,1192.31 L1339.5,1192.40 L1340.2,1192.47 L1340.8,1192.53 L1341.4,1192.59 L1342.1,1192.64 L1342.7,1192.69 L1343.4,1192.73 L1344.0,1192.77 L1344.6,1192.80 L1345.3,1192.83 L1345.9,1192.86 L1346.6,1192.89 L1347.2,1192.91 L1347.8,1192.94 L1348.5,1192.96 L1349.1,1192.98 L1349.7,1193.00 L1350.4,1193.03 L1351.0,1193.04 L1351.7,1193.06 L1352.3,1193.08 L1352.3,1193.86 L1351.7,1193.88 L1351.0,1193.90 L1350.4,1193.91 L1349.7,1193.94 L1349.1,1193.96 L1348.5,1193.98 L1347.8,1194.00 L1347.2,1194.03 L1346.6,1194.05 L1345.9,1194.08 L1345.3,1194.11 L1344.6,1194.14 L1344.0,1194.17 L1343.4,1194.21 L1342.7,1194.25 L1342.1,1194.30 L1341.4,1194.35 L1340.8,1194.41 L1340.2,1194.47 L1339.5,1194.54 L1338.9,1194.63 L1338.3,1194.72 L1337.6,1194.83 L1337.0,1194.96 L1336.3,1195.10 L1335.7,1195.26 L1335.1,1195.44 L1334.4,1195.65 L1333.8,1195.89 L1333.2,1196.15 L1332.5,1196.45 L1331.9,1196.78 L1331.2,1197.14 L1330.6,1197.54 L1330.0,1197.98 L1329.3,1198.46 L1328.7,1198.97 L1328.0,1199.53 L1327.4,1200.13 L1326.8,1200.76 L1326.1,1201.42 L1325.5,1202.12 L1324.9,1202.85 L1324.2,1203.60 L1323.6,1204.37 L1322.9,1205.16 L1322.3,1205.95 L1321.7,1206.74 L1321.0,1207.53 L1320.4,1208.31 L1319.7,1209.07 L1319.1,1209.80 L1318.5,1210.50 L1317.8,1211.16 L1317.2,1211.77 L1316.6,1212.34 L1315.9,1212.85 L1315.3,1213.30 L1314.6,1213.70 L1314.0,1214.03 L1313.4,1214.29 L1312.7,1214.50 L1312.1,1214.64 L1311.4,1214.73 L1310.8,1214.77 L1310.5,1214.77 L1310.2,1214.77 L1309.5,1214.73 L1308.9,1214.64 L1308.3,1214.50 L1307.6,1214.30 L1307.0,1214.04 L1306.3,1213.72 L1305.7,1213.33 L1305.1,1212.89 L1304.4,1212.39 L1303.8,1211.84 L1303.1,1211.24 L1302.5,1210.59 L1301.9,1209.91 L1301.2,1209.19 L1300.6,1208.45 L1300.0,1207.68 L1299.3,1206.91 L1298.7,1206.13 L1298.0,1205.34 L1297.4,1204.57 L1296.8,1203.80 L1296.1,1203.06 L1295.5,1202.33 L1294.8,1201.63 L1294.2,1200.97 L1293.6,1200.33 L1292.9,1199.73 L1292.3,1199.17 L1291.7,1198.65 L1291.0,1198.16 L1290.4,1197.71 L1289.7,1197.30 L1289.1,1196.93 L1288.5,1196.59 L1287.8,1196.28 L1287.2,1196.01 L1286.6,1195.76 L1285.9,1195.54 L1285.3,1195.35 L1284.6,1195.18 L1284.0,1195.03 L1283.4,1194.90 L1282.7,1194.78 L1282.1,1194.68 L1281.4,1194.59 L1280.8,1194.51 L1280.2,1194.44 L1279.5,1194.38 L1278.9,1194.33 L1278.3,1194.28 L1277.6,1194.24 L1277.0,1194.20 L1276.3,1194.16 L1275.7,1194.13Z" fill="#B5E3E0"/><path d="M1291.7,1239.81 L1292.6,1239.78 L1293.5,1239.76 L1294.4,1239.74 L1295.3,1239.71 L1296.2,1239.68 L1297.1,1239.65 L1298.0,1239.62 L1298.9,1239.59 L1299.8,1239.55 L1300.7,1239.51 L1301.6,1239.46 L1302.5,1239.41 L1303.4,1239.35 L1304.3,1239.29 L1305.2,1239.22 L1306.1,1239.14 L1307.0,1239.05 L1307.9,1238.94 L1308.8,1238.83 L1309.8,1238.70 L1310.7,1238.55 L1311.6,1238.39 L1312.5,1238.21 L1313.4,1238.00 L1314.3,1237.77 L1315.2,1237.52 L1316.1,1237.25 L1317.0,1236.94 L1317.9,1236.61 L1318.8,1236.24 L1319.7,1235.85 L1320.6,1235.42 L1321.5,1234.96 L1322.4,1234.47 L1323.3,1233.95 L1324.2,1233.39 L1325.1,1232.81 L1326.0,1232.20 L1326.9,1231.57 L1327.8,1230.91 L1328.7,1230.24 L1329.6,1229.55 L1330.5,1228.84 L1331.4,1228.13 L1332.3,1227.42 L1333.2,1226.70 L1334.1,1226.00 L1335.0,1225.30 L1335.9,1224.63 L1336.8,1223.97 L1337.7,1223.34 L1338.6,1222.75 L1339.5,1222.18 L1340.4,1221.66 L1341.3,1221.18 L1342.2,1220.75 L1343.1,1220.36 L1344.0,1220.02 L1344.9,1219.74 L1345.8,1219.50 L1346.8,1219.32 L1347.7,1219.19 L1348.6,1219.10 L1349.5,1219.05 L1350.3,1219.04 L1350.4,1219.04 L1351.3,1219.05 L1352.2,1219.10 L1353.1,1219.17 L1354.0,1219.29 L1354.9,1219.45 L1355.8,1219.65 L1356.7,1219.90 L1357.6,1220.19 L1358.5,1220.52 L1359.4,1220.89 L1360.3,1221.30 L1361.2,1221.75 L1362.1,1222.24 L1363.0,1222.76 L1363.9,1223.31 L1364.8,1223.89 L1365.7,1224.49 L1366.6,1225.11 L1367.5,1225.74 L1368.4,1226.39 L1369.3,1227.04 L1370.2,1227.70 L1371.1,1228.36 L1372.0,1229.01 L1372.9,1229.66 L1373.8,1230.29 L1374.7,1230.91 L1375.6,1231.52 L1376.5,1232.11 L1377.4,1232.67 L1378.3,1233.21 L1379.2,1233.73 L1380.1,1234.23 L1381.0,1234.69 L1382.0,1235.13 L1382.9,1235.54 L1383.8,1235.93 L1384.7,1236.29 L1385.6,1236.62 L1386.5,1236.93 L1387.4,1237.21 L1388.3,1237.47 L1389.2,1237.71 L1390.1,1237.93 L1391.0,1238.12 L1391.9,1238.30 L1392.8,1238.46 L1393.7,1238.60 L1394.6,1238.73 L1395.5,1238.85 L1396.4,1238.96 L1397.3,1239.05 L1398.2,1239.13 L1399.1,1239.21 L1400.0,1239.28 L1400.0,1241.40 L1399.1,1241.47 L1398.2,1241.55 L1397.3,1241.63 L1396.4,1241.72 L1395.5,1241.83 L1394.6,1241.95 L1393.7,1242.08 L1392.8,1242.22 L1391.9,1242.38 L1391.0,1242.56 L1390.1,1242.75 L1389.2,1242.97 L1388.3,1243.21 L1387.4,1243.47 L1386.5,1243.75 L1385.6,1244.06 L1384.7,1244.39 L1383.8,1244.75 L1382.9,1245.14 L1382.0,1245.55 L1381.0,1245.99 L1380.1,1246.45 L1379.2,1246.95 L1378.3,1247.47 L1377.4,1248.01 L1376.5,1248.57 L1375.6,1249.16 L1374.7,1249.77 L1373.8,1250.39 L1372.9,1251.02 L1372.0,1251.67 L1371.1,1252.32 L1370.2,1252.98 L1369.3,1253.64 L1368.4,1254.29 L1367.5,1254.94 L1366.6,1255.57 L1365.7,1256.19 L1364.8,1256.79 L1363.9,1257.37 L1363.0,1257.92 L1362.1,1258.44 L1361.2,1258.93 L1360.3,1259.38 L1359.4,1259.79 L1358.5,1260.16 L1357.6,1260.49 L1356.7,1260.78 L1355.8,1261.03 L1354.9,1261.23 L1354.0,1261.39 L1353.1,1261.51 L1352.2,1261.58 L1351.3,1261.63 L1350.4,1261.64 L1350.3,1261.64 L1349.5,1261.63 L1348.6,1261.58 L1347.7,1261.49 L1346.8,1261.36 L1345.8,1261.18 L1344.9,1260.94 L1344.0,1260.66 L1343.1,1260.32 L1342.2,1259.93 L1341.3,1259.50 L1340.4,1259.02 L1339.5,1258.50 L1338.6,1257.93 L1337.7,1257.34 L1336.8,1256.71 L1335.9,1256.05 L1335.0,1255.38 L1334.1,1254.68 L1333.2,1253.98 L1332.3,1253.26 L1331.4,1252.55 L1330.5,1251.84 L1329.6,1251.13 L1328.7,1250.44 L1327.8,1249.77 L1326.9,1249.11 L1326.0,1248.48 L1325.1,1247.87 L1324.2,1247.29 L1323.3,1246.73 L1322.4,1246.21 L1321.5,1245.72 L1320.6,1245.26 L1319.7,1244.83 L1318.8,1244.44 L1317.9,1244.07 L1317.0,1243.74 L1316.1,1243.43 L1315.2,1243.16 L1314.3,1242.91 L1313.4,1242.68 L1312.5,1242.47 L1311.6,1242.29 L1310.7,1242.13 L1309.8,1241.98 L1308.8,1241.85 L1307.9,1241.74 L1307.0,1241.63 L1306.1,1241.54 L1305.2,1241.46 L1304.3,1241.39 L1303.4,1241.33 L1302.5,1241.27 L1301.6,1241.22 L1300.7,1241.17 L1299.8,1241.13 L1298.9,1241.09 L1298.0,1241.06 L1297.1,1241.03 L1296.2,1241.00 L1295.3,1240.97 L1294.4,1240.94 L1293.5,1240.92 L1292.6,1240.90 L1291.7,1240.87Z" fill="#E4ED96"/><path d="M1062.0,1286.77 L1063.0,1286.75 L1064.1,1286.73 L1065.1,1286.71 L1066.2,1286.68 L1067.2,1286.66 L1068.3,1286.64 L1069.3,1286.61 L1070.4,1286.58 L1071.4,1286.55 L1072.4,1286.52 L1073.5,1286.48 L1074.5,1286.44 L1075.6,1286.40 L1076.6,1286.35 L1077.7,1286.30 L1078.7,1286.24 L1079.8,1286.17 L1080.8,1286.10 L1081.8,1286.01 L1082.9,1285.91 L1083.9,1285.79 L1085.0,1285.66 L1086.0,1285.52 L1087.1,1285.35 L1088.1,1285.16 L1089.1,1284.94 L1090.2,1284.70 L1091.2,1284.43 L1092.3,1284.13 L1093.3,1283.80 L1094.4,1283.43 L1095.4,1283.03 L1096.5,1282.59 L1097.5,1282.11 L1098.5,1281.59 L1099.6,1281.04 L1100.6,1280.45 L1101.7,1279.82 L1102.7,1279.16 L1103.8,1278.47 L1104.8,1277.75 L1105.9,1277.01 L1106.9,1276.26 L1107.9,1275.48 L1109.0,1274.71 L1110.0,1273.93 L1111.1,1273.15 L1112.1,1272.39 L1113.2,1271.64 L1114.2,1270.92 L1115.3,1270.23 L1116.3,1269.58 L1117.3,1268.97 L1118.4,1268.41 L1119.4,1267.90 L1120.5,1267.44 L1121.5,1267.05 L1122.6,1266.71 L1123.6,1266.44 L1124.7,1266.22 L1125.7,1266.07 L1126.7,1265.97 L1127.8,1265.92 L1128.6,1265.91 L1128.8,1265.91 L1129.9,1265.94 L1130.9,1266.01 L1132.0,1266.14 L1133.0,1266.34 L1134.0,1266.59 L1135.1,1266.91 L1136.1,1267.30 L1137.2,1267.74 L1138.2,1268.25 L1139.3,1268.81 L1140.3,1269.43 L1141.4,1270.09 L1142.4,1270.79 L1143.4,1271.53 L1144.5,1272.29 L1145.5,1273.07 L1146.6,1273.87 L1147.6,1274.67 L1148.7,1275.47 L1149.7,1276.27 L1150.8,1277.05 L1151.8,1277.81 L1152.8,1278.54 L1153.9,1279.25 L1154.9,1279.92 L1156.0,1280.56 L1157.0,1281.16 L1158.1,1281.72 L1159.1,1282.24 L1160.2,1282.73 L1161.2,1283.17 L1162.2,1283.57 L1163.3,1283.93 L1164.3,1284.26 L1165.4,1284.56 L1166.4,1284.82 L1167.5,1285.06 L1168.5,1285.26 L1169.5,1285.44 L1170.6,1285.61 L1171.6,1285.75 L1172.7,1285.87 L1173.7,1285.98 L1174.8,1286.07 L1175.8,1286.15 L1176.9,1286.23 L1177.9,1286.29 L1178.9,1286.35 L1180.0,1286.40 L1181.0,1286.44 L1182.1,1286.48 L1183.1,1286.52 L1184.2,1286.55 L1185.2,1286.58 L1186.3,1286.61 L1187.3,1286.64 L1187.3,1287.78 L1186.3,1287.81 L1185.2,1287.84 L1184.2,1287.87 L1183.1,1287.90 L1182.1,1287.94 L1181.0,1287.98 L1180.0,1288.02 L1178.9,1288.07 L1177.9,1288.13 L1176.9,1288.19 L1175.8,1288.27 L1174.8,1288.35 L1173.7,1288.44 L1172.7,1288.55 L1171.6,1288.67 L1170.6,1288.81 L1169.5,1288.98 L1168.5,1289.16 L1167.5,1289.36 L1166.4,1289.60 L1165.4,1289.86 L1164.3,1290.16 L1163.3,1290.49 L1162.2,1290.85 L1161.2,1291.25 L1160.2,1291.69 L1159.1,1292.18 L1158.1,1292.70 L1157.0,1293.26 L1156.0,1293.86 L1154.9,1294.50 L1153.9,1295.17 L1152.8,1295.88 L1151.8,1296.61 L1150.8,1297.37 L1149.7,1298.15 L1148.7,1298.95 L1147.6,1299.75 L1146.6,1300.55 L1145.5,1301.35 L1144.5,1302.13 L1143.4,1302.89 L1142.4,1303.63 L1141.4,1304.33 L1140.3,1304.99 L1139.3,1305.61 L1138.2,1306.17 L1137.2,1306.68 L1136.1,1307.12 L1135.1,1307.51 L1134.0,1307.83 L1133.0,1308.08 L1132.0,1308.28 L1130.9,1308.41 L1129.9,1308.48 L1128.8,1308.51 L1128.6,1308.51 L1127.8,1308.50 L1126.7,1308.45 L1125.7,1308.35 L1124.7,1308.20 L1123.6,1307.98 L1122.6,1307.71 L1121.5,1307.37 L1120.5,1306.98 L1119.4,1306.52 L1118.4,1306.01 L1117.3,1305.45 L1116.3,1304.84 L1115.3,1304.19 L1114.2,1303.50 L1113.2,1302.78 L1112.1,1302.03 L1111.1,1301.27 L1110.0,1300.49 L1109.0,1299.71 L1107.9,1298.94 L1106.9,1298.16 L1105.9,1297.41 L1104.8,1296.67 L1103.8,1295.95 L1102.7,1295.26 L1101.7,1294.60 L1100.6,1293.97 L1099.6,1293.38 L1098.5,1292.83 L1097.5,1292.31 L1096.5,1291.83 L1095.4,1291.39 L1094.4,1290.99 L1093.3,1290.62 L1092.3,1290.29 L1091.2,1289.99 L1090.2,1289.72 L1089.1,1289.48 L1088.1,1289.26 L1087.1,1289.07 L1086.0,1288.90 L1085.0,1288.76 L1083.9,1288.63 L1082.9,1288.51 L1081.8,1288.41 L1080.8,1288.32 L1079.8,1288.25 L1078.7,1288.18 L1077.7,1288.12 L1076.6,1288.07 L1075.6,1288.02 L1074.5,1287.98 L1073.5,1287.94 L1072.4,1287.90 L1071.4,1287.87 L1070.4,1287.84 L1069.3,1287.81 L1068.3,1287.78 L1067.2,1287.76 L1066.2,1287.74 L1065.1,1287.71 L1064.1,1287.69 L1063.0,1287.67 L1062.0,1287.65Z" fill="#E4ED96"/><path d="M1507.0,1333.47 L1508.4,1333.44 L1509.9,1333.41 L1511.3,1333.38 L1512.8,1333.34 L1514.2,1333.30 L1515.6,1333.26 L1517.1,1333.21 L1518.5,1333.16 L1519.9,1333.10 L1521.4,1333.03 L1522.8,1332.95 L1524.2,1332.86 L1525.7,1332.76 L1527.1,1332.64 L1528.6,1332.51 L1530.0,1332.36 L1531.4,1332.19 L1532.9,1332.00 L1534.3,1331.79 L1535.8,1331.54 L1537.2,1331.27 L1538.6,1330.97 L1540.1,1330.64 L1541.5,1330.27 L1542.9,1329.87 L1544.4,1329.43 L1545.8,1328.95 L1547.2,1328.44 L1548.7,1327.88 L1550.1,1327.30 L1551.6,1326.67 L1553.0,1326.02 L1554.4,1325.34 L1555.9,1324.62 L1557.3,1323.89 L1558.8,1323.14 L1560.2,1322.37 L1561.6,1321.60 L1563.1,1320.83 L1564.5,1320.06 L1565.9,1319.30 L1567.4,1318.56 L1568.8,1317.84 L1570.2,1317.16 L1571.7,1316.51 L1573.1,1315.90 L1574.6,1315.34 L1576.0,1314.83 L1577.4,1314.37 L1578.9,1313.97 L1580.3,1313.63 L1581.8,1313.35 L1583.2,1313.12 L1584.6,1312.96 L1586.1,1312.85 L1587.5,1312.79 L1588.9,1312.78 L1588.9,1312.78 L1590.4,1312.80 L1591.8,1312.89 L1593.2,1313.06 L1594.7,1313.30 L1596.1,1313.63 L1597.6,1314.04 L1599.0,1314.54 L1600.4,1315.11 L1601.9,1315.76 L1603.3,1316.47 L1604.8,1317.25 L1606.2,1318.07 L1607.6,1318.94 L1609.1,1319.83 L1610.5,1320.74 L1611.9,1321.66 L1613.4,1322.58 L1614.8,1323.49 L1616.2,1324.37 L1617.7,1325.22 L1619.1,1326.04 L1620.6,1326.81 L1622.0,1327.54 L1623.4,1328.22 L1624.9,1328.84 L1626.3,1329.41 L1627.8,1329.93 L1629.2,1330.40 L1630.6,1330.82 L1632.1,1331.19 L1633.5,1331.52 L1634.9,1331.81 L1636.4,1332.06 L1637.8,1332.28 L1639.2,1332.46 L1640.7,1332.63 L1642.1,1332.76 L1643.6,1332.88 L1645.0,1332.98 L1646.4,1333.07 L1647.9,1333.15 L1649.3,1333.21 L1650.8,1333.27 L1652.2,1333.32 L1653.6,1333.36 L1655.1,1333.41 L1656.5,1333.44 L1657.9,1333.48 L1659.4,1333.51 L1660.8,1333.54 L1662.2,1333.56 L1663.7,1333.59 L1665.1,1333.61 L1666.6,1333.64 L1668.0,1333.66 L1669.4,1333.68 L1670.9,1333.70 L1672.3,1333.72 L1673.8,1333.74 L1675.2,1333.76 L1676.6,1333.78 L1678.1,1333.79 L1679.5,1333.81 L1679.5,1334.35 L1678.1,1334.37 L1676.6,1334.38 L1675.2,1334.40 L1673.8,1334.42 L1672.3,1334.44 L1670.9,1334.46 L1669.4,1334.48 L1668.0,1334.50 L1666.6,1334.52 L1665.1,1334.55 L1663.7,1334.57 L1662.2,1334.60 L1660.8,1334.62 L1659.4,1334.65 L1657.9,1334.68 L1656.5,1334.72 L1655.1,1334.75 L1653.6,1334.80 L1652.2,1334.84 L1650.8,1334.89 L1649.3,1334.95 L1647.9,1335.01 L1646.4,1335.09 L1645.0,1335.18 L1643.6,1335.28 L1642.1,1335.40 L1640.7,1335.53 L1639.2,1335.70 L1637.8,1335.88 L1636.4,1336.10 L1634.9,1336.35 L1633.5,1336.64 L1632.1,1336.97 L1630.6,1337.34 L1629.2,1337.76 L1627.8,1338.23 L1626.3,1338.75 L1624.9,1339.32 L1623.4,1339.94 L1622.0,1340.62 L1620.6,1341.35 L1619.1,1342.12 L1617.7,1342.94 L1616.2,1343.79 L1614.8,1344.67 L1613.4,1345.58 L1611.9,1346.50 L1610.5,1347.42 L1609.1,1348.33 L1607.6,1349.22 L1606.2,1350.09 L1604.8,1350.91 L1603.3,1351.69 L1601.9,1352.40 L1600.4,1353.05 L1599.0,1353.62 L1597.6,1354.12 L1596.1,1354.53 L1594.7,1354.86 L1593.2,1355.10 L1591.8,1355.27 L1590.4,1355.36 L1588.9,1355.38 L1588.9,1355.38 L1587.5,1355.37 L1586.1,1355.31 L1584.6,1355.20 L1583.2,1355.04 L1581.8,1354.81 L1580.3,1354.53 L1578.9,1354.19 L1577.4,1353.79 L1576.0,1353.33 L1574.6,1352.82 L1573.1,1352.26 L1571.7,1351.65 L1570.2,1351.00 L1568.8,1350.32 L1567.4,1349.60 L1565.9,1348.86 L1564.5,1348.10 L1563.1,1347.33 L1561.6,1346.56 L1560.2,1345.79 L1558.8,1345.02 L1557.3,1344.27 L1555.9,1343.54 L1554.4,1342.82 L1553.0,1342.14 L1551.6,1341.49 L1550.1,1340.86 L1548.7,1340.28 L1547.2,1339.72 L1545.8,1339.21 L1544.4,1338.73 L1542.9,1338.29 L1541.5,1337.89 L1540.1,1337.52 L1538.6,1337.19 L1537.2,1336.89 L1535.8,1336.62 L1534.3,1336.37 L1532.9,1336.16 L1531.4,1335.97 L1530.0,1335.80 L1528.6,1335.65 L1527.1,1335.52 L1525.7,1335.40 L1524.2,1335.30 L1522.8,1335.21 L1521.4,1335.13 L1519.9,1335.06 L1518.5,1335.00 L1517.1,1334.95 L1515.6,1334.90 L1514.2,1334.86 L1512.8,1334.82 L1511.3,1334.78 L1509.9,1334.75 L1508.4,1334.72 L1507.0,1334.69Z" fill="#E4ED96"/><path d="M1217.5,1380.43 L1218.6,1380.41 L1219.6,1380.38 L1220.7,1380.35 L1221.8,1380.32 L1222.9,1380.29 L1223.9,1380.25 L1225.0,1380.21 L1226.1,1380.16 L1227.1,1380.11 L1228.2,1380.05 L1229.3,1379.99 L1230.3,1379.91 L1231.4,1379.83 L1232.5,1379.73 L1233.6,1379.61 L1234.6,1379.48 L1235.7,1379.33 L1236.8,1379.15 L1237.8,1378.94 L1238.9,1378.71 L1240.0,1378.45 L1241.1,1378.14 L1242.1,1377.80 L1243.2,1377.42 L1244.3,1377.00 L1245.3,1376.53 L1246.4,1376.01 L1247.5,1375.45 L1248.6,1374.84 L1249.6,1374.19 L1250.7,1373.49 L1251.8,1372.75 L1252.8,1371.97 L1253.9,1371.16 L1255.0,1370.33 L1256.0,1369.47 L1257.1,1368.61 L1258.2,1367.74 L1259.3,1366.88 L1260.3,1366.03 L1261.4,1365.21 L1262.5,1364.41 L1263.5,1363.66 L1264.6,1362.96 L1265.7,1362.32 L1266.8,1361.73 L1267.8,1361.22 L1268.9,1360.78 L1270.0,1360.41 L1271.0,1360.12 L1272.1,1359.90 L1273.2,1359.75 L1274.3,1359.67 L1275.3,1359.65 L1275.4,1359.65 L1276.4,1359.67 L1277.5,1359.74 L1278.5,1359.89 L1279.6,1360.11 L1280.7,1360.40 L1281.8,1360.78 L1282.8,1361.24 L1283.9,1361.77 L1285.0,1362.37 L1286.0,1363.03 L1287.1,1363.76 L1288.2,1364.54 L1289.2,1365.35 L1290.3,1366.20 L1291.4,1367.08 L1292.5,1367.96 L1293.5,1368.85 L1294.6,1369.74 L1295.7,1370.60 L1296.7,1371.45 L1297.8,1372.27 L1298.9,1373.05 L1300.0,1373.79 L1301.0,1374.49 L1302.1,1375.14 L1303.2,1375.74 L1304.2,1376.29 L1305.3,1376.80 L1306.4,1377.25 L1307.5,1377.66 L1308.5,1378.02 L1309.6,1378.35 L1310.7,1378.63 L1311.7,1378.88 L1312.8,1379.10 L1313.9,1379.28 L1314.9,1379.45 L1316.0,1379.59 L1317.1,1379.71 L1318.2,1379.81 L1319.2,1379.90 L1320.3,1379.98 L1321.4,1380.05 L1322.4,1380.11 L1323.5,1380.16 L1324.6,1380.21 L1325.7,1380.25 L1326.7,1380.29 L1327.8,1380.32 L1328.9,1380.35 L1329.9,1380.38 L1331.0,1380.41 L1332.1,1380.44 L1333.2,1380.46 L1334.2,1380.49 L1335.3,1380.51 L1336.4,1380.53 L1337.4,1380.55 L1338.5,1380.57 L1339.6,1380.59 L1340.6,1380.61 L1341.7,1380.63 L1342.8,1380.64 L1343.9,1380.66 L1344.9,1380.68 L1346.0,1380.69 L1346.0,1381.21 L1344.9,1381.22 L1343.9,1381.24 L1342.8,1381.26 L1341.7,1381.27 L1340.6,1381.29 L1339.6,1381.31 L1338.5,1381.33 L1337.4,1381.35 L1336.4,1381.37 L1335.3,1381.39 L1334.2,1381.41 L1333.2,1381.44 L1332.1,1381.46 L1331.0,1381.49 L1329.9,1381.52 L1328.9,1381.55 L1327.8,1381.58 L1326.7,1381.61 L1325.7,1381.65 L1324.6,1381.69 L1323.5,1381.74 L1322.4,1381.79 L1321.4,1381.85 L1320.3,1381.92 L1319.2,1382.00 L1318.2,1382.09 L1317.1,1382.19 L1316.0,1382.31 L1314.9,1382.45 L1313.9,1382.62 L1312.8,1382.80 L1311.7,1383.02 L1310.7,1383.27 L1309.6,1383.55 L1308.5,1383.88 L1307.5,1384.24 L1306.4,1384.65 L1305.3,1385.10 L1304.2,1385.61 L1303.2,1386.16 L1302.1,1386.76 L1301.0,1387.41 L1300.0,1388.11 L1298.9,1388.85 L1297.8,1389.63 L1296.7,1390.45 L1295.7,1391.30 L1294.6,1392.16 L1293.5,1393.05 L1292.5,1393.94 L1291.4,1394.82 L1290.3,1395.70 L1289.2,1396.55 L1288.2,1397.36 L1287.1,1398.14 L1286.0,1398.87 L1285.0,1399.53 L1283.9,1400.13 L1282.8,1400.66 L1281.8,1401.12 L1280.7,1401.50 L1279.6,1401.79 L1278.5,1402.01 L1277.5,1402.16 L1276.4,1402.23 L1275.4,1402.25 L1275.3,1402.25 L1274.3,1402.23 L1273.2,1402.15 L1272.1,1402.00 L1271.0,1401.78 L1270.0,1401.49 L1268.9,1401.12 L1267.8,1400.68 L1266.8,1400.17 L1265.7,1399.58 L1264.6,1398.94 L1263.5,1398.24 L1262.5,1397.49 L1261.4,1396.69 L1260.3,1395.87 L1259.3,1395.02 L1258.2,1394.16 L1257.1,1393.29 L1256.0,1392.43 L1255.0,1391.57 L1253.9,1390.74 L1252.8,1389.93 L1251.8,1389.15 L1250.7,1388.41 L1249.6,1387.71 L1248.6,1387.06 L1247.5,1386.45 L1246.4,1385.89 L1245.3,1385.37 L1244.3,1384.90 L1243.2,1384.48 L1242.1,1384.10 L1241.1,1383.76 L1240.0,1383.45 L1238.9,1383.19 L1237.8,1382.96 L1236.8,1382.75 L1235.7,1382.57 L1234.6,1382.42 L1233.6,1382.29 L1232.5,1382.17 L1231.4,1382.07 L1230.3,1381.99 L1229.3,1381.91 L1228.2,1381.85 L1227.1,1381.79 L1226.1,1381.74 L1225.0,1381.69 L1223.9,1381.65 L1222.9,1381.61 L1221.8,1381.58 L1220.7,1381.55 L1219.6,1381.52 L1218.6,1381.49 L1217.5,1381.47Z" fill="#A8A8D0"/><path d="M1463.0,1427.40 L1463.9,1427.38 L1464.9,1427.36 L1465.8,1427.34 L1466.7,1427.32 L1467.6,1427.30 L1468.6,1427.28 L1469.5,1427.25 L1470.4,1427.23 L1471.3,1427.20 L1472.3,1427.17 L1473.2,1427.14 L1474.1,1427.11 L1475.1,1427.07 L1476.0,1427.03 L1476.9,1426.98 L1477.8,1426.93 L1478.8,1426.87 L1479.7,1426.81 L1480.6,1426.74 L1481.5,1426.66 L1482.5,1426.56 L1483.4,1426.46 L1484.3,1426.33 L1485.3,1426.20 L1486.2,1426.04 L1487.1,1425.86 L1488.0,1425.67 L1489.0,1425.44 L1489.9,1425.19 L1490.8,1424.91 L1491.8,1424.60 L1492.7,1424.26 L1493.6,1423.88 L1494.5,1423.46 L1495.5,1423.01 L1496.4,1422.53 L1497.3,1422.00 L1498.2,1421.44 L1499.2,1420.84 L1500.1,1420.21 L1501.0,1419.55 L1502.0,1418.86 L1502.9,1418.15 L1503.8,1417.41 L1504.7,1416.66 L1505.7,1415.89 L1506.6,1415.12 L1507.5,1414.35 L1508.4,1413.59 L1509.4,1412.84 L1510.3,1412.11 L1511.2,1411.40 L1512.2,1410.73 L1513.1,1410.09 L1514.0,1409.49 L1514.9,1408.95 L1515.9,1408.45 L1516.8,1408.01 L1517.7,1407.62 L1518.7,1407.30 L1519.6,1407.03 L1520.5,1406.82 L1521.4,1406.67 L1522.4,1406.58 L1523.3,1406.53 L1524.0,1406.52 L1524.2,1406.52 L1525.1,1406.55 L1526.1,1406.62 L1527.0,1406.75 L1527.9,1406.94 L1528.9,1407.19 L1529.8,1407.50 L1530.7,1407.88 L1531.6,1408.31 L1532.6,1408.81 L1533.5,1409.36 L1534.4,1409.96 L1535.3,1410.61 L1536.3,1411.29 L1537.2,1412.02 L1538.1,1412.77 L1539.1,1413.54 L1540.0,1414.32 L1540.9,1415.11 L1541.8,1415.90 L1542.8,1416.69 L1543.7,1417.46 L1544.6,1418.22 L1545.5,1418.95 L1546.5,1419.66 L1547.4,1420.34 L1548.3,1420.98 L1549.3,1421.58 L1550.2,1422.15 L1551.1,1422.68 L1552.0,1423.17 L1553.0,1423.62 L1553.9,1424.03 L1554.8,1424.40 L1555.8,1424.74 L1556.7,1425.05 L1557.6,1425.32 L1558.5,1425.56 L1559.5,1425.78 L1560.4,1425.97 L1561.3,1426.14 L1562.2,1426.29 L1563.2,1426.42 L1564.1,1426.53 L1565.0,1426.63 L1566.0,1426.72 L1566.9,1426.80 L1567.8,1426.86 L1568.7,1426.92 L1569.7,1426.98 L1570.6,1427.02 L1571.5,1427.07 L1572.4,1427.10 L1573.4,1427.14 L1574.3,1427.17 L1574.3,1428.47 L1573.4,1428.50 L1572.4,1428.54 L1571.5,1428.57 L1570.6,1428.62 L1569.7,1428.66 L1568.7,1428.72 L1567.8,1428.78 L1566.9,1428.84 L1566.0,1428.92 L1565.0,1429.01 L1564.1,1429.11 L1563.2,1429.22 L1562.2,1429.35 L1561.3,1429.50 L1560.4,1429.67 L1559.5,1429.86 L1558.5,1430.08 L1557.6,1430.32 L1556.7,1430.59 L1555.8,1430.90 L1554.8,1431.24 L1553.9,1431.61 L1553.0,1432.02 L1552.0,1432.47 L1551.1,1432.96 L1550.2,1433.49 L1549.3,1434.06 L1548.3,1434.66 L1547.4,1435.30 L1546.5,1435.98 L1545.5,1436.69 L1544.6,1437.42 L1543.7,1438.18 L1542.8,1438.95 L1541.8,1439.74 L1540.9,1440.53 L1540.0,1441.32 L1539.1,1442.10 L1538.1,1442.87 L1537.2,1443.62 L1536.3,1444.35 L1535.3,1445.03 L1534.4,1445.68 L1533.5,1446.28 L1532.6,1446.83 L1531.6,1447.33 L1530.7,1447.76 L1529.8,1448.14 L1528.9,1448.45 L1527.9,1448.70 L1527.0,1448.89 L1526.1,1449.02 L1525.1,1449.09 L1524.2,1449.12 L1524.0,1449.12 L1523.3,1449.11 L1522.4,1449.06 L1521.4,1448.97 L1520.5,1448.82 L1519.6,1448.61 L1518.7,1448.34 L1517.7,1448.02 L1516.8,1447.63 L1515.9,1447.19 L1514.9,1446.69 L1514.0,1446.15 L1513.1,1445.55 L1512.2,1444.91 L1511.2,1444.24 L1510.3,1443.53 L1509.4,1442.80 L1508.4,1442.05 L1507.5,1441.29 L1506.6,1440.52 L1505.7,1439.75 L1504.7,1438.98 L1503.8,1438.23 L1502.9,1437.49 L1502.0,1436.78 L1501.0,1436.09 L1500.1,1435.43 L1499.2,1434.80 L1498.2,1434.20 L1497.3,1433.64 L1496.4,1433.11 L1495.5,1432.63 L1494.5,1432.18 L1493.6,1431.76 L1492.7,1431.38 L1491.8,1431.04 L1490.8,1430.73 L1489.9,1430.45 L1489.0,1430.20 L1488.0,1429.97 L1487.1,1429.78 L1486.2,1429.60 L1485.3,1429.44 L1484.3,1429.31 L1483.4,1429.18 L1482.5,1429.08 L1481.5,1428.98 L1480.6,1428.90 L1479.7,1428.83 L1478.8,1428.77 L1477.8,1428.71 L1476.9,1428.66 L1476.0,1428.61 L1475.1,1428.57 L1474.1,1428.53 L1473.2,1428.50 L1472.3,1428.47 L1471.3,1428.44 L1470.4,1428.41 L1469.5,1428.39 L1468.6,1428.36 L1467.6,1428.34 L1466.7,1428.32 L1465.8,1428.30 L1464.9,1428.28 L1463.9,1428.26 L1463.0,1428.24Z" fill="#A8A8D0"/><rect x="1264.5" y="910.20" width="63.0" height="4.1" fill="#000"/><rect x="1285.4" y="907.55" width="21.3" height="9.4" fill="#000"/><circle cx="1295.3" cy="912.25" r="10.2" fill="#000"/><circle cx="1295.3" cy="912.25" r="7.2" fill="#fff"/><rect x="1327.5" y="957.07" width="73.2" height="4.1" fill="#000"/><rect x="1351.4" y="954.42" width="25.5" height="9.4" fill="#000"/><circle cx="1363.3" cy="959.12" r="10.2" fill="#000"/><circle cx="1363.3" cy="959.12" r="7.2" fill="#fff"/><rect x="1236.0" y="1003.94" width="47.8" height="4.1" fill="#000"/><rect x="1253.6" y="1001.29" width="11.9" height="9.4" fill="#000"/><circle cx="1259.5" cy="1005.99" r="10.2" fill="#000"/><circle cx="1259.5" cy="1005.99" r="7.2" fill="#fff"/><rect x="1443.2" y="1050.81" width="45.2" height="4.1" fill="#000"/><rect x="1456.0" y="1048.16" width="18.5" height="9.4" fill="#000"/><circle cx="1465.3" cy="1052.86" r="10.2" fill="#000"/><circle cx="1465.3" cy="1052.86" r="7.2" fill="#fff"/><rect x="1399.0" y="1097.68" width="59.4" height="4.1" fill="#000"/><rect x="1419.0" y="1095.03" width="19.4" height="9.4" fill="#000"/><circle cx="1428.4" cy="1099.73" r="10.2" fill="#000"/><circle cx="1428.4" cy="1099.73" r="7.2" fill="#fff"/><rect x="1451.0" y="1144.55" width="41.6" height="4.1" fill="#000"/><rect x="1462.0" y="1141.90" width="18.0" height="9.4" fill="#000"/><circle cx="1471.0" cy="1146.60" r="10.2" fill="#000"/><circle cx="1471.0" cy="1146.60" r="7.2" fill="#fff"/><rect x="1288.7" y="1191.42" width="43.3" height="4.1" fill="#000"/><rect x="1301.0" y="1188.77" width="18.0" height="9.4" fill="#000"/><circle cx="1310.0" cy="1193.47" r="10.2" fill="#000"/><circle cx="1310.0" cy="1193.47" r="7.2" fill="#fff"/><rect x="1316.5" y="1238.29" width="70.5" height="4.1" fill="#000"/><rect x="1337.4" y="1235.64" width="24.8" height="9.4" fill="#000"/><circle cx="1349.3" cy="1240.34" r="10.2" fill="#000"/><circle cx="1349.3" cy="1240.34" r="7.2" fill="#fff"/><rect x="1092.8" y="1285.16" width="70.6" height="4.1" fill="#000"/><rect x="1117.7" y="1282.51" width="23.3" height="9.4" fill="#000"/><circle cx="1128.6" cy="1287.21" r="10.2" fill="#000"/><circle cx="1128.6" cy="1287.21" r="7.2" fill="#fff"/><rect x="1539.2" y="1332.03" width="91.5" height="4.1" fill="#000"/><rect x="1569.0" y="1329.38" width="31.6" height="9.4" fill="#000"/><circle cx="1584.8" cy="1334.08" r="10.2" fill="#000"/><circle cx="1584.8" cy="1334.08" r="7.2" fill="#fff"/><rect x="1242.4" y="1378.90" width="65.2" height="4.1" fill="#000"/><rect x="1268.7" y="1376.25" width="18.4" height="9.4" fill="#000"/><circle cx="1275.4" cy="1380.95" r="10.2" fill="#000"/><circle cx="1275.4" cy="1380.95" r="7.2" fill="#fff"/><rect x="1491.8" y="1425.77" width="63.5" height="4.1" fill="#000"/><rect x="1512.0" y="1423.12" width="22.0" height="9.4" fill="#000"/><circle cx="1523.1" cy="1427.82" r="10.2" fill="#000"/><circle cx="1523.1" cy="1427.82" r="7.2" fill="#fff"/><rect x="1032" y="884.9" width="677" height="570.4" fill="none" stroke="#000" stroke-width="2"/><line x1="1189.0" x2="1189.0" y1="1455.3" y2="1463.8" stroke="#000" stroke-width="2"/><text transform="translate(1189.0,1498.3) scale(1,1.03)" font-size="29" text-anchor="middle" class="t"><tspan dy="2.6">−</tspan><tspan dy="-2.6">0.4</tspan></text><line x1="1382.5" x2="1382.5" y1="1455.3" y2="1463.8" stroke="#000" stroke-width="2"/><text transform="translate(1382.5,1498.3) scale(1,1.03)" font-size="29" text-anchor="middle" class="t">0.0</text><line x1="1576.0" x2="1576.0" y1="1455.3" y2="1463.8" stroke="#000" stroke-width="2"/><text transform="translate(1576.0,1498.3) scale(1,1.03)" font-size="29" text-anchor="middle" class="t">0.4</text><text transform="translate(1023.5,1546.3) scale(1,1.05)" font-size="33.3" text-anchor="middle" class="t">Mean covariate effect across stocks</text></svg>
</body></html>
